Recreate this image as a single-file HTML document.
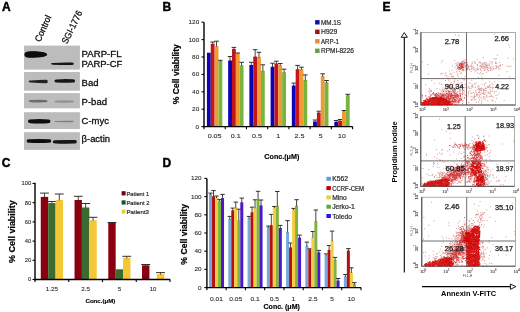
<!DOCTYPE html>
<html><head><meta charset="utf-8"><style>
html,body{margin:0;padding:0;background:#fff;}
svg{display:block;font-family:"Liberation Sans", sans-serif;}
text{opacity:.999}
</style></head><body>
<svg width="520" height="312" viewBox="0 0 520 312">
<rect width="520" height="312" fill="#fff"/>
<defs><filter id="bb" x="-20%" y="-80%" width="140%" height="260%"><feGaussianBlur stdDeviation="0.7"/></filter><filter id="cb" x="-20%" y="-20%" width="140%" height="140%"><feGaussianBlur stdDeviation="0.6"/></filter><filter id="tb" x="-5%" y="-20%" width="110%" height="140%"><feGaussianBlur stdDeviation="0.25"/></filter></defs>
<text x="2.00" y="10.80" font-size="12.0" text-anchor="start" font-weight="bold" fill="#000" stroke="#000" stroke-width="0.45" >A</text>
<text x="162.60" y="10.60" font-size="12.0" text-anchor="start" font-weight="bold" fill="#000" stroke="#000" stroke-width="0.45" >B</text>
<text x="1.80" y="166.80" font-size="12.0" text-anchor="start" font-weight="bold" fill="#000" stroke="#000" stroke-width="0.45" >C</text>
<text x="162.40" y="166.60" font-size="12.0" text-anchor="start" font-weight="bold" fill="#000" stroke="#000" stroke-width="0.45" >D</text>
<text x="382.40" y="11.00" font-size="12.0" text-anchor="start" font-weight="bold" fill="#000" stroke="#000" stroke-width="0.45" >E</text>
<rect x="24.00" y="45.60" width="55.90" height="24.00" fill="#bcbcbc" />
<rect x="24.00" y="72.00" width="55.90" height="18.70" fill="#bcbcbc" />
<rect x="24.00" y="93.10" width="55.90" height="15.20" fill="#bcbcbc" />
<rect x="24.00" y="112.20" width="55.90" height="16.80" fill="#bcbcbc" />
<rect x="24.00" y="132.20" width="55.90" height="17.70" fill="#bcbcbc" />
<g filter="url(#bb)">
<path d="M51.00 63.80 C51.00 62.90 52.50 62.90 53.50 62.90 Q62.40 62.42 71.30 62.60 C72.30 62.60 73.80 62.60 73.80 63.80 C73.80 65.00 72.30 65.00 71.30 65.00 Q62.40 65.18 53.50 64.70 C52.50 64.70 51.00 64.70 51.00 63.80 Z" fill="#141414"/>
<path d="M28.70 81.50 C28.70 80.60 30.20 80.60 31.20 80.60 Q38.25 79.89 45.30 79.80 C46.30 79.80 47.80 79.80 47.80 81.50 C47.80 83.20 46.30 83.20 45.30 83.20 Q38.25 83.11 31.20 82.40 C30.20 82.40 28.70 82.40 28.70 81.50 Z" fill="#222222"/>
<path d="M54.40 80.90 C54.40 79.40 55.90 79.40 56.90 79.40 Q64.70 78.83 72.50 79.30 C73.50 79.30 75.00 79.30 75.00 80.90 C75.00 82.50 73.50 82.50 72.50 82.50 Q64.70 82.97 56.90 82.40 C55.90 82.40 54.40 82.40 54.40 80.90 Z" fill="#181818"/>
<path d="M28.70 101.10 C28.70 100.00 30.20 100.00 31.20 100.00 Q38.10 99.60 45.00 99.90 C46.00 99.90 47.50 99.90 47.50 101.10 C47.50 102.30 46.00 102.30 45.00 102.30 Q38.10 102.59 31.20 102.20 C30.20 102.20 28.70 102.20 28.70 101.10 Z" fill="#6c6c6c"/>
<path d="M54.40 101.50 C54.40 100.50 55.90 100.50 56.90 100.50 Q64.20 100.12 71.50 100.50 C72.50 100.50 74.00 100.50 74.00 101.50 C74.00 102.50 72.50 102.50 71.50 102.50 Q64.20 102.88 56.90 102.50 C55.90 102.50 54.40 102.50 54.40 101.50 Z" fill="#939393"/>
<path d="M28.00 121.30 C28.00 119.40 29.50 119.40 30.50 119.40 Q39.20 118.66 47.90 119.40 C48.90 119.40 50.40 119.40 50.40 121.30 C50.40 123.20 48.90 123.20 47.90 123.20 Q39.20 123.94 30.50 123.20 C29.50 123.20 28.00 123.20 28.00 121.30 Z" fill="#0a0a0a"/>
<path d="M54.40 121.50 C54.40 120.90 55.90 120.90 56.90 120.90 Q64.00 120.52 71.10 120.70 C72.10 120.70 73.60 120.70 73.60 121.50 C73.60 122.30 72.10 122.30 71.10 122.30 Q64.00 122.48 56.90 122.10 C55.90 122.10 54.40 122.10 54.40 121.50 Z" fill="#808080"/>
<path d="M26.70 141.00 C26.70 139.30 28.20 139.30 29.20 139.30 Q38.95 138.93 48.70 139.30 C49.70 139.30 51.20 139.30 51.20 141.00 C51.20 142.70 49.70 142.70 48.70 142.70 Q38.95 143.07 29.20 142.70 C28.20 142.70 26.70 142.70 26.70 141.00 Z" fill="#111111"/>
<path d="M52.80 141.80 C52.80 140.20 54.30 140.20 55.30 140.20 Q64.80 139.73 74.30 140.10 C75.30 140.10 76.80 140.10 76.80 141.80 C76.80 143.50 75.30 143.50 74.30 143.50 Q64.80 143.87 55.30 143.40 C54.30 143.40 52.80 143.40 52.80 141.80 Z" fill="#141414"/>
<path d="M24.4 54.5 C24.4 50.9 30 50.9 36 51.3 C42 51.7 47 52.5 47.2 54.5 C47 56.5 42 57.2 36 57.6 C30 58.0 24.4 58.1 24.4 54.5 Z" fill="#080808"/>
</g>
<text transform="translate(40.2,42.6) rotate(-66)" font-size="9.3" fill="#111" stroke="#111" stroke-width="0.3" textLength="28" lengthAdjust="spacingAndGlyphs">Control</text>
<text transform="translate(67.0,44.6) rotate(-64)" font-size="9.3" fill="#111" stroke="#111" stroke-width="0.3" textLength="35.5" lengthAdjust="spacingAndGlyphs">SGI-1776</text>
<text x="81.60" y="56.80" font-size="9.0" text-anchor="start" font-weight="normal" fill="#111" textLength="39.90" lengthAdjust="spacingAndGlyphs" stroke="#111" stroke-width="0.3" >PARP-FL</text>
<text x="81.60" y="66.70" font-size="9.0" text-anchor="start" font-weight="normal" fill="#111" textLength="40.70" lengthAdjust="spacingAndGlyphs" stroke="#111" stroke-width="0.3" >PARP-CF</text>
<text x="81.60" y="86.00" font-size="9.0" text-anchor="start" font-weight="normal" fill="#111" textLength="16.90" lengthAdjust="spacingAndGlyphs" stroke="#111" stroke-width="0.3" >Bad</text>
<text x="81.60" y="105.00" font-size="9.0" text-anchor="start" font-weight="normal" fill="#111" textLength="25.40" lengthAdjust="spacingAndGlyphs" stroke="#111" stroke-width="0.3" >P-bad</text>
<text x="81.60" y="123.80" font-size="9.0" text-anchor="start" font-weight="normal" fill="#111" textLength="27.30" lengthAdjust="spacingAndGlyphs" stroke="#111" stroke-width="0.3" >C-myc</text>
<text x="81.60" y="141.70" font-size="9.0" text-anchor="start" font-weight="normal" fill="#111" textLength="28.40" lengthAdjust="spacingAndGlyphs" stroke="#111" stroke-width="0.3" >&#946;-actin</text>
<rect x="206.91" y="52.70" width="3.85" height="73.90" fill="#0c04b6" />
<rect x="210.76" y="43.80" width="3.85" height="82.80" fill="#c4141c" />
<line x1="212.69" y1="42.00" x2="212.69" y2="44.30" stroke="#333030" stroke-width="0.9" />
<line x1="210.38" y1="42.00" x2="215.00" y2="42.00" stroke="#333030" stroke-width="1.0" />
<rect x="214.61" y="46.20" width="3.85" height="80.40" fill="#f09a32" />
<line x1="216.54" y1="41.20" x2="216.54" y2="46.70" stroke="#333030" stroke-width="0.9" />
<line x1="214.23" y1="41.20" x2="218.85" y2="41.20" stroke="#333030" stroke-width="1.0" />
<rect x="218.46" y="61.10" width="3.85" height="65.50" fill="#7ab43c" />
<line x1="220.39" y1="60.30" x2="220.39" y2="61.60" stroke="#333030" stroke-width="0.9" />
<line x1="218.08" y1="60.30" x2="222.70" y2="60.30" stroke="#333030" stroke-width="1.0" />
<rect x="228.14" y="60.50" width="3.85" height="66.10" fill="#0c04b6" />
<line x1="230.07" y1="56.50" x2="230.07" y2="61.00" stroke="#333030" stroke-width="0.9" />
<line x1="227.76" y1="56.50" x2="232.38" y2="56.50" stroke="#333030" stroke-width="1.0" />
<rect x="231.99" y="48.90" width="3.85" height="77.70" fill="#c4141c" />
<line x1="233.92" y1="47.40" x2="233.92" y2="49.40" stroke="#333030" stroke-width="0.9" />
<line x1="231.61" y1="47.40" x2="236.23" y2="47.40" stroke="#333030" stroke-width="1.0" />
<rect x="235.84" y="53.50" width="3.85" height="73.10" fill="#f09a32" />
<line x1="237.77" y1="53.00" x2="237.77" y2="54.00" stroke="#333030" stroke-width="0.9" />
<line x1="235.46" y1="53.00" x2="240.08" y2="53.00" stroke="#333030" stroke-width="1.0" />
<rect x="239.69" y="65.40" width="3.85" height="61.20" fill="#7ab43c" />
<line x1="241.62" y1="62.30" x2="241.62" y2="65.90" stroke="#333030" stroke-width="0.9" />
<line x1="239.31" y1="62.30" x2="243.93" y2="62.30" stroke="#333030" stroke-width="1.0" />
<rect x="249.37" y="65.00" width="3.85" height="61.60" fill="#0c04b6" />
<line x1="251.30" y1="62.30" x2="251.30" y2="65.50" stroke="#333030" stroke-width="0.9" />
<line x1="248.99" y1="62.30" x2="253.61" y2="62.30" stroke="#333030" stroke-width="1.0" />
<rect x="253.22" y="56.60" width="3.85" height="70.00" fill="#c4141c" />
<line x1="255.15" y1="49.70" x2="255.15" y2="57.10" stroke="#333030" stroke-width="0.9" />
<line x1="252.84" y1="49.70" x2="257.46" y2="49.70" stroke="#333030" stroke-width="1.0" />
<rect x="257.07" y="56.90" width="3.85" height="69.70" fill="#f09a32" />
<line x1="259.00" y1="52.30" x2="259.00" y2="57.40" stroke="#333030" stroke-width="0.9" />
<line x1="256.69" y1="52.30" x2="261.31" y2="52.30" stroke="#333030" stroke-width="1.0" />
<rect x="260.92" y="70.80" width="3.85" height="55.80" fill="#7ab43c" />
<line x1="262.85" y1="64.80" x2="262.85" y2="71.30" stroke="#333030" stroke-width="0.9" />
<line x1="260.54" y1="64.80" x2="265.16" y2="64.80" stroke="#333030" stroke-width="1.0" />
<rect x="270.60" y="66.80" width="3.85" height="59.80" fill="#0c04b6" />
<line x1="272.53" y1="63.20" x2="272.53" y2="67.30" stroke="#333030" stroke-width="0.9" />
<line x1="270.22" y1="63.20" x2="274.84" y2="63.20" stroke="#333030" stroke-width="1.0" />
<rect x="274.45" y="63.60" width="3.85" height="63.00" fill="#c4141c" />
<line x1="276.38" y1="61.20" x2="276.38" y2="64.10" stroke="#333030" stroke-width="0.9" />
<line x1="274.07" y1="61.20" x2="278.69" y2="61.20" stroke="#333030" stroke-width="1.0" />
<rect x="278.30" y="65.40" width="3.85" height="61.20" fill="#f09a32" />
<line x1="280.23" y1="63.50" x2="280.23" y2="65.90" stroke="#333030" stroke-width="0.9" />
<line x1="277.92" y1="63.50" x2="282.54" y2="63.50" stroke="#333030" stroke-width="1.0" />
<rect x="282.15" y="72.30" width="3.85" height="54.30" fill="#7ab43c" />
<line x1="284.08" y1="69.20" x2="284.08" y2="72.80" stroke="#333030" stroke-width="0.9" />
<line x1="281.77" y1="69.20" x2="286.39" y2="69.20" stroke="#333030" stroke-width="1.0" />
<rect x="291.83" y="85.50" width="3.85" height="41.10" fill="#0c04b6" />
<line x1="293.75" y1="83.10" x2="293.75" y2="86.00" stroke="#333030" stroke-width="0.9" />
<line x1="291.44" y1="83.10" x2="296.06" y2="83.10" stroke="#333030" stroke-width="1.0" />
<rect x="295.68" y="69.20" width="3.85" height="57.40" fill="#c4141c" />
<line x1="297.60" y1="65.40" x2="297.60" y2="69.70" stroke="#333030" stroke-width="0.9" />
<line x1="295.29" y1="65.40" x2="299.91" y2="65.40" stroke="#333030" stroke-width="1.0" />
<rect x="299.53" y="69.20" width="3.85" height="57.40" fill="#f09a32" />
<line x1="301.45" y1="67.20" x2="301.45" y2="69.70" stroke="#333030" stroke-width="0.9" />
<line x1="299.14" y1="67.20" x2="303.76" y2="67.20" stroke="#333030" stroke-width="1.0" />
<rect x="303.38" y="80.00" width="3.85" height="46.60" fill="#7ab43c" />
<line x1="305.30" y1="74.90" x2="305.30" y2="80.50" stroke="#333030" stroke-width="0.9" />
<line x1="302.99" y1="74.90" x2="307.61" y2="74.90" stroke="#333030" stroke-width="1.0" />
<rect x="313.06" y="121.50" width="3.85" height="5.10" fill="#0c04b6" />
<line x1="314.98" y1="120.00" x2="314.98" y2="122.00" stroke="#333030" stroke-width="0.9" />
<line x1="312.67" y1="120.00" x2="317.29" y2="120.00" stroke="#333030" stroke-width="1.0" />
<rect x="316.91" y="112.60" width="3.85" height="14.00" fill="#c4141c" />
<line x1="318.83" y1="111.20" x2="318.83" y2="113.10" stroke="#333030" stroke-width="0.9" />
<line x1="316.52" y1="111.20" x2="321.14" y2="111.20" stroke="#333030" stroke-width="1.0" />
<rect x="320.76" y="76.20" width="3.85" height="50.40" fill="#f09a32" />
<line x1="322.68" y1="73.80" x2="322.68" y2="76.70" stroke="#333030" stroke-width="0.9" />
<line x1="320.37" y1="73.80" x2="324.99" y2="73.80" stroke="#333030" stroke-width="1.0" />
<rect x="324.61" y="82.30" width="3.85" height="44.30" fill="#7ab43c" />
<line x1="326.53" y1="80.50" x2="326.53" y2="82.80" stroke="#333030" stroke-width="0.9" />
<line x1="324.22" y1="80.50" x2="328.84" y2="80.50" stroke="#333030" stroke-width="1.0" />
<rect x="334.29" y="121.80" width="3.85" height="4.80" fill="#0c04b6" />
<line x1="336.21" y1="120.50" x2="336.21" y2="122.30" stroke="#333030" stroke-width="0.9" />
<line x1="333.90" y1="120.50" x2="338.52" y2="120.50" stroke="#333030" stroke-width="1.0" />
<rect x="338.14" y="120.80" width="3.85" height="5.80" fill="#c4141c" />
<line x1="340.06" y1="119.50" x2="340.06" y2="121.30" stroke="#333030" stroke-width="0.9" />
<line x1="337.75" y1="119.50" x2="342.37" y2="119.50" stroke="#333030" stroke-width="1.0" />
<rect x="341.99" y="111.50" width="3.85" height="15.10" fill="#f09a32" />
<line x1="343.91" y1="110.50" x2="343.91" y2="112.00" stroke="#333030" stroke-width="0.9" />
<line x1="341.60" y1="110.50" x2="346.22" y2="110.50" stroke="#333030" stroke-width="1.0" />
<rect x="345.84" y="95.40" width="3.85" height="31.20" fill="#7ab43c" />
<line x1="347.76" y1="94.30" x2="347.76" y2="95.90" stroke="#333030" stroke-width="0.9" />
<line x1="345.45" y1="94.30" x2="350.07" y2="94.30" stroke="#333030" stroke-width="1.0" />
<line x1="204.00" y1="22.20" x2="204.00" y2="127.30" stroke="#000" stroke-width="1.4" />
<line x1="203.30" y1="126.60" x2="352.60" y2="126.60" stroke="#000" stroke-width="1.4" />
<line x1="201.50" y1="126.60" x2="204.00" y2="126.60" stroke="#000" stroke-width="1.1" />
<text x="199.20" y="128.62" font-size="5.6" text-anchor="end" font-weight="normal" fill="#333" textLength="3.56" lengthAdjust="spacingAndGlyphs" stroke="#333" stroke-width="0.12" >0</text>
<line x1="201.50" y1="109.20" x2="204.00" y2="109.20" stroke="#000" stroke-width="1.1" />
<text x="199.20" y="111.22" font-size="5.6" text-anchor="end" font-weight="normal" fill="#333" textLength="7.12" lengthAdjust="spacingAndGlyphs" stroke="#333" stroke-width="0.12" >20</text>
<line x1="201.50" y1="91.80" x2="204.00" y2="91.80" stroke="#000" stroke-width="1.1" />
<text x="199.20" y="93.82" font-size="5.6" text-anchor="end" font-weight="normal" fill="#333" textLength="7.12" lengthAdjust="spacingAndGlyphs" stroke="#333" stroke-width="0.12" >40</text>
<line x1="201.50" y1="74.40" x2="204.00" y2="74.40" stroke="#000" stroke-width="1.1" />
<text x="199.20" y="76.42" font-size="5.6" text-anchor="end" font-weight="normal" fill="#333" textLength="7.12" lengthAdjust="spacingAndGlyphs" stroke="#333" stroke-width="0.12" >60</text>
<line x1="201.50" y1="57.00" x2="204.00" y2="57.00" stroke="#000" stroke-width="1.1" />
<text x="199.20" y="59.02" font-size="5.6" text-anchor="end" font-weight="normal" fill="#333" textLength="7.12" lengthAdjust="spacingAndGlyphs" stroke="#333" stroke-width="0.12" >80</text>
<line x1="201.50" y1="39.60" x2="204.00" y2="39.60" stroke="#000" stroke-width="1.1" />
<text x="199.20" y="41.62" font-size="5.6" text-anchor="end" font-weight="normal" fill="#333" textLength="10.68" lengthAdjust="spacingAndGlyphs" stroke="#333" stroke-width="0.12" >100</text>
<line x1="201.50" y1="22.20" x2="204.00" y2="22.20" stroke="#000" stroke-width="1.1" />
<text x="199.20" y="24.22" font-size="5.6" text-anchor="end" font-weight="normal" fill="#333" textLength="10.68" lengthAdjust="spacingAndGlyphs" stroke="#333" stroke-width="0.12" >120</text>
<line x1="204.00" y1="126.60" x2="204.00" y2="129.20" stroke="#000" stroke-width="1.1" />
<line x1="225.23" y1="126.60" x2="225.23" y2="129.20" stroke="#000" stroke-width="1.1" />
<line x1="246.46" y1="126.60" x2="246.46" y2="129.20" stroke="#000" stroke-width="1.1" />
<line x1="267.69" y1="126.60" x2="267.69" y2="129.20" stroke="#000" stroke-width="1.1" />
<line x1="288.91" y1="126.60" x2="288.91" y2="129.20" stroke="#000" stroke-width="1.1" />
<line x1="310.14" y1="126.60" x2="310.14" y2="129.20" stroke="#000" stroke-width="1.1" />
<line x1="331.37" y1="126.60" x2="331.37" y2="129.20" stroke="#000" stroke-width="1.1" />
<line x1="352.60" y1="126.60" x2="352.60" y2="129.20" stroke="#000" stroke-width="1.1" />
<text x="214.61" y="138.20" font-size="6.1" text-anchor="middle" font-weight="normal" fill="#333" textLength="13.86" lengthAdjust="spacingAndGlyphs" stroke="#333" stroke-width="0.12" >0.05</text>
<text x="235.84" y="138.20" font-size="6.1" text-anchor="middle" font-weight="normal" fill="#333" textLength="9.98" lengthAdjust="spacingAndGlyphs" stroke="#333" stroke-width="0.12" >0.1</text>
<text x="257.07" y="138.20" font-size="6.1" text-anchor="middle" font-weight="normal" fill="#333" textLength="9.98" lengthAdjust="spacingAndGlyphs" stroke="#333" stroke-width="0.12" >0.5</text>
<text x="278.30" y="138.20" font-size="6.1" text-anchor="middle" font-weight="normal" fill="#333" textLength="3.88" lengthAdjust="spacingAndGlyphs" stroke="#333" stroke-width="0.12" >1</text>
<text x="299.53" y="138.20" font-size="6.1" text-anchor="middle" font-weight="normal" fill="#333" textLength="9.98" lengthAdjust="spacingAndGlyphs" stroke="#333" stroke-width="0.12" >2.5</text>
<text x="320.76" y="138.20" font-size="6.1" text-anchor="middle" font-weight="normal" fill="#333" textLength="3.88" lengthAdjust="spacingAndGlyphs" stroke="#333" stroke-width="0.12" >5</text>
<text x="341.99" y="138.20" font-size="6.1" text-anchor="middle" font-weight="normal" fill="#333" textLength="7.76" lengthAdjust="spacingAndGlyphs" stroke="#333" stroke-width="0.12" >10</text>
<text transform="translate(178.9,74.2) rotate(-90)" font-size="8.6" font-weight="bold" stroke="#000" stroke-width="0.2" text-anchor="middle" textLength="60.2" lengthAdjust="spacingAndGlyphs">% Cell viability</text>
<text x="281.85" y="159.00" font-size="6.6" text-anchor="middle" font-weight="bold" fill="#000" textLength="35.00" lengthAdjust="spacingAndGlyphs" stroke="#000" stroke-width="0.15" >Conc.(&#956;M)</text>
<rect x="315.10" y="20.10" width="4.50" height="4.40" fill="#1010b0" />
<text x="321.00" y="24.80" font-size="6.4" text-anchor="start" font-weight="normal" fill="#2a2a2a" textLength="20.10" lengthAdjust="spacingAndGlyphs" stroke="#2a2a2a" stroke-width="0.2" >MM.1S</text>
<rect x="315.10" y="29.60" width="4.50" height="4.40" fill="#a81010" />
<text x="321.00" y="34.30" font-size="6.4" text-anchor="start" font-weight="normal" fill="#2a2a2a" textLength="16.20" lengthAdjust="spacingAndGlyphs" stroke="#2a2a2a" stroke-width="0.2" >H929</text>
<rect x="315.10" y="39.10" width="4.50" height="4.40" fill="#e49038" />
<text x="321.00" y="43.80" font-size="6.4" text-anchor="start" font-weight="normal" fill="#2a2a2a" textLength="17.80" lengthAdjust="spacingAndGlyphs" stroke="#2a2a2a" stroke-width="0.2" >ARP-1</text>
<rect x="315.10" y="48.60" width="4.50" height="4.40" fill="#62a040" />
<text x="321.00" y="53.30" font-size="6.4" text-anchor="start" font-weight="normal" fill="#2a2a2a" textLength="32.90" lengthAdjust="spacingAndGlyphs" stroke="#2a2a2a" stroke-width="0.2" >RPMI-8226</text>
<rect x="40.77" y="196.90" width="7.40" height="82.60" fill="#8a0010" />
<line x1="44.48" y1="193.10" x2="44.48" y2="197.40" stroke="#333030" stroke-width="0.9" />
<line x1="40.04" y1="193.10" x2="48.91" y2="193.10" stroke="#333030" stroke-width="1.0" />
<rect x="48.17" y="203.10" width="7.40" height="76.40" fill="#3b6b30" />
<line x1="51.88" y1="201.50" x2="51.88" y2="203.60" stroke="#333030" stroke-width="0.9" />
<line x1="47.44" y1="201.50" x2="56.31" y2="201.50" stroke="#333030" stroke-width="1.0" />
<rect x="55.58" y="200.00" width="7.40" height="79.50" fill="#f4c835" />
<line x1="59.28" y1="194.00" x2="59.28" y2="200.50" stroke="#333030" stroke-width="0.9" />
<line x1="54.84" y1="194.00" x2="63.72" y2="194.00" stroke="#333030" stroke-width="1.0" />
<rect x="74.53" y="200.00" width="7.40" height="79.50" fill="#8a0010" />
<line x1="78.23" y1="196.30" x2="78.23" y2="200.50" stroke="#333030" stroke-width="0.9" />
<line x1="73.79" y1="196.30" x2="82.67" y2="196.30" stroke="#333030" stroke-width="1.0" />
<rect x="81.93" y="207.50" width="7.40" height="72.00" fill="#3b6b30" />
<line x1="85.63" y1="203.50" x2="85.63" y2="208.00" stroke="#333030" stroke-width="0.9" />
<line x1="81.19" y1="203.50" x2="90.07" y2="203.50" stroke="#333030" stroke-width="1.0" />
<rect x="89.33" y="220.30" width="7.40" height="59.20" fill="#f4c835" />
<line x1="93.03" y1="217.30" x2="93.03" y2="220.80" stroke="#333030" stroke-width="0.9" />
<line x1="88.59" y1="217.30" x2="97.47" y2="217.30" stroke="#333030" stroke-width="1.0" />
<rect x="108.28" y="223.00" width="7.40" height="56.50" fill="#8a0010" />
<line x1="111.98" y1="222.50" x2="111.98" y2="223.50" stroke="#333030" stroke-width="0.9" />
<line x1="107.54" y1="222.50" x2="116.42" y2="222.50" stroke="#333030" stroke-width="1.0" />
<rect x="115.68" y="269.30" width="7.40" height="10.20" fill="#3b6b30" />
<rect x="123.08" y="257.80" width="7.40" height="21.70" fill="#f4c835" />
<line x1="126.78" y1="256.30" x2="126.78" y2="258.30" stroke="#333030" stroke-width="0.9" />
<line x1="122.34" y1="256.30" x2="131.22" y2="256.30" stroke="#333030" stroke-width="1.0" />
<rect x="142.03" y="265.30" width="7.40" height="14.20" fill="#8a0010" />
<line x1="145.72" y1="264.50" x2="145.72" y2="265.80" stroke="#333030" stroke-width="0.9" />
<line x1="141.28" y1="264.50" x2="150.16" y2="264.50" stroke="#333030" stroke-width="1.0" />
<rect x="156.83" y="274.00" width="7.40" height="5.50" fill="#f4c835" />
<line x1="160.53" y1="272.60" x2="160.53" y2="274.50" stroke="#333030" stroke-width="0.9" />
<line x1="156.09" y1="272.60" x2="164.97" y2="272.60" stroke="#333030" stroke-width="1.0" />
<line x1="35.00" y1="182.80" x2="35.00" y2="280.20" stroke="#000" stroke-width="1.4" />
<line x1="34.30" y1="279.50" x2="170.20" y2="279.50" stroke="#000" stroke-width="1.4" />
<line x1="32.50" y1="279.50" x2="35.00" y2="279.50" stroke="#000" stroke-width="1.1" />
<text x="31.20" y="281.34" font-size="5.1" text-anchor="end" font-weight="normal" fill="#333" textLength="3.24" lengthAdjust="spacingAndGlyphs" stroke="#333" stroke-width="0.12" >0</text>
<line x1="32.50" y1="260.30" x2="35.00" y2="260.30" stroke="#000" stroke-width="1.1" />
<text x="31.20" y="262.14" font-size="5.1" text-anchor="end" font-weight="normal" fill="#333" textLength="6.49" lengthAdjust="spacingAndGlyphs" stroke="#333" stroke-width="0.12" >20</text>
<line x1="32.50" y1="241.10" x2="35.00" y2="241.10" stroke="#000" stroke-width="1.1" />
<text x="31.20" y="242.94" font-size="5.1" text-anchor="end" font-weight="normal" fill="#333" textLength="6.49" lengthAdjust="spacingAndGlyphs" stroke="#333" stroke-width="0.12" >40</text>
<line x1="32.50" y1="221.90" x2="35.00" y2="221.90" stroke="#000" stroke-width="1.1" />
<text x="31.20" y="223.74" font-size="5.1" text-anchor="end" font-weight="normal" fill="#333" textLength="6.49" lengthAdjust="spacingAndGlyphs" stroke="#333" stroke-width="0.12" >60</text>
<line x1="32.50" y1="202.70" x2="35.00" y2="202.70" stroke="#000" stroke-width="1.1" />
<text x="31.20" y="204.54" font-size="5.1" text-anchor="end" font-weight="normal" fill="#333" textLength="6.49" lengthAdjust="spacingAndGlyphs" stroke="#333" stroke-width="0.12" >80</text>
<line x1="32.50" y1="183.50" x2="35.00" y2="183.50" stroke="#000" stroke-width="1.1" />
<text x="31.20" y="185.34" font-size="5.1" text-anchor="end" font-weight="normal" fill="#333" textLength="9.73" lengthAdjust="spacingAndGlyphs" stroke="#333" stroke-width="0.12" >100</text>
<line x1="35.00" y1="279.50" x2="35.00" y2="282.10" stroke="#000" stroke-width="1.1" />
<line x1="68.75" y1="279.50" x2="68.75" y2="282.10" stroke="#000" stroke-width="1.1" />
<line x1="102.50" y1="279.50" x2="102.50" y2="282.10" stroke="#000" stroke-width="1.1" />
<line x1="136.25" y1="279.50" x2="136.25" y2="282.10" stroke="#000" stroke-width="1.1" />
<line x1="170.00" y1="279.50" x2="170.00" y2="282.10" stroke="#000" stroke-width="1.1" />
<text x="51.88" y="291.20" font-size="5.3" text-anchor="middle" font-weight="normal" fill="#333" textLength="12.04" lengthAdjust="spacingAndGlyphs" stroke="#333" stroke-width="0.12" >1.25</text>
<text x="85.62" y="291.20" font-size="5.3" text-anchor="middle" font-weight="normal" fill="#333" textLength="8.67" lengthAdjust="spacingAndGlyphs" stroke="#333" stroke-width="0.12" >2.5</text>
<text x="119.38" y="291.20" font-size="5.3" text-anchor="middle" font-weight="normal" fill="#333" textLength="3.37" lengthAdjust="spacingAndGlyphs" stroke="#333" stroke-width="0.12" >5</text>
<text x="153.12" y="291.20" font-size="5.3" text-anchor="middle" font-weight="normal" fill="#333" textLength="6.74" lengthAdjust="spacingAndGlyphs" stroke="#333" stroke-width="0.12" >10</text>
<text transform="translate(15.4,231.6) rotate(-90)" font-size="8.6" font-weight="bold" stroke="#000" stroke-width="0.2" text-anchor="middle" textLength="62.7" lengthAdjust="spacingAndGlyphs">% Cell viability</text>
<text x="100.40" y="302.60" font-size="6.1" text-anchor="middle" font-weight="bold" fill="#000" textLength="29.80" lengthAdjust="spacingAndGlyphs" stroke="#000" stroke-width="0.15" >Conc.(&#956;M)</text>
<rect x="121.60" y="191.20" width="4.00" height="4.20" fill="#700010" />
<text x="126.50" y="195.60" font-size="5.9" text-anchor="start" font-weight="normal" fill="#2a2a2a" textLength="22.70" lengthAdjust="spacingAndGlyphs" stroke="#2a2a2a" stroke-width="0.2" >Patient 1</text>
<rect x="121.60" y="200.35" width="4.00" height="4.20" fill="#1f4f1f" />
<text x="126.50" y="204.75" font-size="5.9" text-anchor="start" font-weight="normal" fill="#2a2a2a" textLength="22.90" lengthAdjust="spacingAndGlyphs" stroke="#2a2a2a" stroke-width="0.2" >Patient 2</text>
<rect x="121.60" y="209.50" width="4.00" height="4.20" fill="#e8d040" />
<text x="126.50" y="213.90" font-size="5.9" text-anchor="start" font-weight="normal" fill="#2a2a2a" textLength="22.50" lengthAdjust="spacingAndGlyphs" stroke="#2a2a2a" stroke-width="0.2" >Patient3</text>
<rect x="209.03" y="194.40" width="3.00" height="93.20" fill="#78a8dc" />
<line x1="210.53" y1="193.10" x2="210.53" y2="194.90" stroke="#333030" stroke-width="0.9" />
<line x1="208.33" y1="193.10" x2="212.73" y2="193.10" stroke="#333030" stroke-width="1.0" />
<rect x="212.03" y="196.30" width="3.00" height="91.30" fill="#b41010" />
<line x1="213.53" y1="190.60" x2="213.53" y2="196.80" stroke="#333030" stroke-width="0.9" />
<line x1="211.33" y1="190.60" x2="215.73" y2="190.60" stroke="#333030" stroke-width="1.0" />
<rect x="215.03" y="197.50" width="3.00" height="90.10" fill="#f8cc40" />
<line x1="216.53" y1="196.00" x2="216.53" y2="198.00" stroke="#333030" stroke-width="0.9" />
<line x1="214.33" y1="196.00" x2="218.73" y2="196.00" stroke="#333030" stroke-width="1.0" />
<rect x="218.03" y="200.60" width="3.00" height="87.00" fill="#80b440" />
<line x1="219.53" y1="199.40" x2="219.53" y2="201.10" stroke="#333030" stroke-width="0.9" />
<line x1="217.33" y1="199.40" x2="221.73" y2="199.40" stroke="#333030" stroke-width="1.0" />
<rect x="221.03" y="198.10" width="3.00" height="89.50" fill="#4c18c8" />
<line x1="222.53" y1="194.40" x2="222.53" y2="198.60" stroke="#333030" stroke-width="0.9" />
<line x1="220.33" y1="194.40" x2="224.73" y2="194.40" stroke="#333030" stroke-width="1.0" />
<rect x="228.29" y="218.80" width="3.00" height="68.80" fill="#78a8dc" />
<line x1="229.79" y1="216.40" x2="229.79" y2="219.30" stroke="#333030" stroke-width="0.9" />
<line x1="227.59" y1="216.40" x2="231.99" y2="216.40" stroke="#333030" stroke-width="1.0" />
<rect x="231.29" y="210.40" width="3.00" height="77.20" fill="#b41010" />
<line x1="232.79" y1="208.10" x2="232.79" y2="210.90" stroke="#333030" stroke-width="0.9" />
<line x1="230.59" y1="208.10" x2="234.99" y2="208.10" stroke="#333030" stroke-width="1.0" />
<rect x="234.29" y="207.70" width="3.00" height="79.90" fill="#f8cc40" />
<line x1="235.79" y1="202.10" x2="235.79" y2="208.20" stroke="#333030" stroke-width="0.9" />
<line x1="233.59" y1="202.10" x2="237.99" y2="202.10" stroke="#333030" stroke-width="1.0" />
<rect x="237.29" y="220.40" width="3.00" height="67.20" fill="#80b440" />
<line x1="238.79" y1="209.20" x2="238.79" y2="220.90" stroke="#333030" stroke-width="0.9" />
<line x1="236.59" y1="209.20" x2="240.99" y2="209.20" stroke="#333030" stroke-width="1.0" />
<rect x="240.29" y="202.30" width="3.00" height="85.30" fill="#4c18c8" />
<line x1="241.79" y1="198.10" x2="241.79" y2="202.80" stroke="#333030" stroke-width="0.9" />
<line x1="239.59" y1="198.10" x2="243.99" y2="198.10" stroke="#333030" stroke-width="1.0" />
<rect x="247.56" y="218.10" width="3.00" height="69.50" fill="#78a8dc" />
<line x1="249.06" y1="216.40" x2="249.06" y2="218.60" stroke="#333030" stroke-width="0.9" />
<line x1="246.86" y1="216.40" x2="251.26" y2="216.40" stroke="#333030" stroke-width="1.0" />
<rect x="250.56" y="212.30" width="3.00" height="75.30" fill="#b41010" />
<line x1="252.06" y1="207.20" x2="252.06" y2="212.80" stroke="#333030" stroke-width="0.9" />
<line x1="249.86" y1="207.20" x2="254.26" y2="207.20" stroke="#333030" stroke-width="1.0" />
<rect x="253.56" y="207.70" width="3.00" height="79.90" fill="#f8cc40" />
<line x1="255.06" y1="199.80" x2="255.06" y2="208.20" stroke="#333030" stroke-width="0.9" />
<line x1="252.86" y1="199.80" x2="257.26" y2="199.80" stroke="#333030" stroke-width="1.0" />
<rect x="256.56" y="199.60" width="3.00" height="88.00" fill="#80b440" />
<line x1="258.06" y1="191.30" x2="258.06" y2="200.10" stroke="#333030" stroke-width="0.9" />
<line x1="255.86" y1="191.30" x2="260.26" y2="191.30" stroke="#333030" stroke-width="1.0" />
<rect x="259.56" y="205.40" width="3.00" height="82.20" fill="#4c18c8" />
<line x1="261.06" y1="200.00" x2="261.06" y2="205.90" stroke="#333030" stroke-width="0.9" />
<line x1="258.86" y1="200.00" x2="263.26" y2="200.00" stroke="#333030" stroke-width="1.0" />
<rect x="266.82" y="227.10" width="3.00" height="60.50" fill="#78a8dc" />
<line x1="268.32" y1="226.10" x2="268.32" y2="227.60" stroke="#333030" stroke-width="0.9" />
<line x1="266.12" y1="226.10" x2="270.52" y2="226.10" stroke="#333030" stroke-width="1.0" />
<rect x="269.82" y="225.20" width="3.00" height="62.40" fill="#b41010" />
<line x1="271.32" y1="214.40" x2="271.32" y2="225.70" stroke="#333030" stroke-width="0.9" />
<line x1="269.12" y1="214.40" x2="273.52" y2="214.40" stroke="#333030" stroke-width="1.0" />
<rect x="272.82" y="207.60" width="3.00" height="80.00" fill="#f8cc40" />
<line x1="274.32" y1="206.50" x2="274.32" y2="208.10" stroke="#333030" stroke-width="0.9" />
<line x1="272.12" y1="206.50" x2="276.52" y2="206.50" stroke="#333030" stroke-width="1.0" />
<rect x="275.82" y="205.70" width="3.00" height="81.90" fill="#80b440" />
<line x1="277.32" y1="191.50" x2="277.32" y2="206.20" stroke="#333030" stroke-width="0.9" />
<line x1="275.12" y1="191.50" x2="279.52" y2="191.50" stroke="#333030" stroke-width="1.0" />
<rect x="278.82" y="228.00" width="3.00" height="59.60" fill="#4c18c8" />
<line x1="280.32" y1="225.40" x2="280.32" y2="228.50" stroke="#333030" stroke-width="0.9" />
<line x1="278.12" y1="225.40" x2="282.52" y2="225.40" stroke="#333030" stroke-width="1.0" />
<rect x="286.08" y="231.90" width="3.00" height="55.70" fill="#78a8dc" />
<line x1="287.58" y1="220.60" x2="287.58" y2="232.40" stroke="#333030" stroke-width="0.9" />
<line x1="285.38" y1="220.60" x2="289.78" y2="220.60" stroke="#333030" stroke-width="1.0" />
<rect x="289.08" y="247.50" width="3.00" height="40.10" fill="#b41010" />
<line x1="290.58" y1="243.00" x2="290.58" y2="248.00" stroke="#333030" stroke-width="0.9" />
<line x1="288.38" y1="243.00" x2="292.78" y2="243.00" stroke="#333030" stroke-width="1.0" />
<rect x="292.08" y="209.50" width="3.00" height="78.10" fill="#f8cc40" />
<line x1="293.58" y1="208.40" x2="293.58" y2="210.00" stroke="#333030" stroke-width="0.9" />
<line x1="291.38" y1="208.40" x2="295.78" y2="208.40" stroke="#333030" stroke-width="1.0" />
<rect x="295.08" y="205.70" width="3.00" height="81.90" fill="#80b440" />
<line x1="296.58" y1="199.70" x2="296.58" y2="206.20" stroke="#333030" stroke-width="0.9" />
<line x1="294.38" y1="199.70" x2="298.78" y2="199.70" stroke="#333030" stroke-width="1.0" />
<rect x="298.08" y="237.60" width="3.00" height="50.00" fill="#4c18c8" />
<line x1="299.58" y1="235.10" x2="299.58" y2="238.10" stroke="#333030" stroke-width="0.9" />
<line x1="297.38" y1="235.10" x2="301.78" y2="235.10" stroke="#333030" stroke-width="1.0" />
<rect x="305.34" y="245.80" width="3.00" height="41.80" fill="#78a8dc" />
<line x1="306.84" y1="242.10" x2="306.84" y2="246.30" stroke="#333030" stroke-width="0.9" />
<line x1="304.64" y1="242.10" x2="309.04" y2="242.10" stroke="#333030" stroke-width="1.0" />
<rect x="308.34" y="249.30" width="3.00" height="38.30" fill="#b41010" />
<line x1="309.84" y1="248.80" x2="309.84" y2="249.80" stroke="#333030" stroke-width="0.9" />
<line x1="307.64" y1="248.80" x2="312.04" y2="248.80" stroke="#333030" stroke-width="1.0" />
<rect x="311.34" y="237.10" width="3.00" height="50.50" fill="#f8cc40" />
<line x1="312.84" y1="231.50" x2="312.84" y2="237.60" stroke="#333030" stroke-width="0.9" />
<line x1="310.64" y1="231.50" x2="315.04" y2="231.50" stroke="#333030" stroke-width="1.0" />
<rect x="314.34" y="221.30" width="3.00" height="66.30" fill="#80b440" />
<line x1="315.84" y1="210.00" x2="315.84" y2="221.80" stroke="#333030" stroke-width="0.9" />
<line x1="313.64" y1="210.00" x2="318.04" y2="210.00" stroke="#333030" stroke-width="1.0" />
<rect x="317.34" y="252.30" width="3.00" height="35.30" fill="#4c18c8" />
<line x1="318.84" y1="250.40" x2="318.84" y2="252.80" stroke="#333030" stroke-width="0.9" />
<line x1="316.64" y1="250.40" x2="321.04" y2="250.40" stroke="#333030" stroke-width="1.0" />
<rect x="324.61" y="255.30" width="3.00" height="32.30" fill="#78a8dc" />
<line x1="326.11" y1="253.90" x2="326.11" y2="255.80" stroke="#333030" stroke-width="0.9" />
<line x1="323.91" y1="253.90" x2="328.31" y2="253.90" stroke="#333030" stroke-width="1.0" />
<rect x="327.61" y="249.90" width="3.00" height="37.70" fill="#b41010" />
<line x1="329.11" y1="245.50" x2="329.11" y2="250.40" stroke="#333030" stroke-width="0.9" />
<line x1="326.91" y1="245.50" x2="331.31" y2="245.50" stroke="#333030" stroke-width="1.0" />
<rect x="330.61" y="240.50" width="3.00" height="47.10" fill="#f8cc40" />
<line x1="332.11" y1="231.10" x2="332.11" y2="241.00" stroke="#333030" stroke-width="0.9" />
<line x1="329.91" y1="231.10" x2="334.31" y2="231.10" stroke="#333030" stroke-width="1.0" />
<rect x="333.61" y="260.00" width="3.00" height="27.60" fill="#80b440" />
<line x1="335.11" y1="257.40" x2="335.11" y2="260.50" stroke="#333030" stroke-width="0.9" />
<line x1="332.91" y1="257.40" x2="337.31" y2="257.40" stroke="#333030" stroke-width="1.0" />
<rect x="336.61" y="280.60" width="3.00" height="7.00" fill="#4c18c8" />
<line x1="338.11" y1="278.50" x2="338.11" y2="281.10" stroke="#333030" stroke-width="0.9" />
<line x1="335.91" y1="278.50" x2="340.31" y2="278.50" stroke="#333030" stroke-width="1.0" />
<rect x="343.87" y="276.50" width="3.00" height="11.10" fill="#78a8dc" />
<line x1="345.37" y1="274.50" x2="345.37" y2="277.00" stroke="#333030" stroke-width="0.9" />
<line x1="343.17" y1="274.50" x2="347.57" y2="274.50" stroke="#333030" stroke-width="1.0" />
<rect x="346.87" y="250.60" width="3.00" height="37.00" fill="#b41010" />
<line x1="348.37" y1="248.60" x2="348.37" y2="251.10" stroke="#333030" stroke-width="0.9" />
<line x1="346.17" y1="248.60" x2="350.57" y2="248.60" stroke="#333030" stroke-width="1.0" />
<rect x="349.87" y="272.50" width="3.00" height="15.10" fill="#f8cc40" />
<line x1="351.37" y1="267.80" x2="351.37" y2="273.00" stroke="#333030" stroke-width="0.9" />
<line x1="349.17" y1="267.80" x2="353.57" y2="267.80" stroke="#333030" stroke-width="1.0" />
<rect x="352.87" y="284.00" width="3.00" height="3.60" fill="#80b440" />
<line x1="354.37" y1="282.60" x2="354.37" y2="284.50" stroke="#333030" stroke-width="0.9" />
<line x1="352.17" y1="282.60" x2="356.57" y2="282.60" stroke="#333030" stroke-width="1.0" />
<line x1="206.90" y1="178.40" x2="206.90" y2="288.30" stroke="#000" stroke-width="1.4" />
<line x1="206.20" y1="287.60" x2="361.00" y2="287.60" stroke="#000" stroke-width="1.4" />
<line x1="204.40" y1="287.60" x2="206.90" y2="287.60" stroke="#000" stroke-width="1.1" />
<text x="201.60" y="289.62" font-size="5.6" text-anchor="end" font-weight="normal" fill="#333" textLength="3.56" lengthAdjust="spacingAndGlyphs" stroke="#333" stroke-width="0.12" >0</text>
<line x1="204.40" y1="269.40" x2="206.90" y2="269.40" stroke="#000" stroke-width="1.1" />
<text x="201.60" y="271.42" font-size="5.6" text-anchor="end" font-weight="normal" fill="#333" textLength="7.12" lengthAdjust="spacingAndGlyphs" stroke="#333" stroke-width="0.12" >20</text>
<line x1="204.40" y1="251.20" x2="206.90" y2="251.20" stroke="#000" stroke-width="1.1" />
<text x="201.60" y="253.22" font-size="5.6" text-anchor="end" font-weight="normal" fill="#333" textLength="7.12" lengthAdjust="spacingAndGlyphs" stroke="#333" stroke-width="0.12" >40</text>
<line x1="204.40" y1="233.00" x2="206.90" y2="233.00" stroke="#000" stroke-width="1.1" />
<text x="201.60" y="235.02" font-size="5.6" text-anchor="end" font-weight="normal" fill="#333" textLength="7.12" lengthAdjust="spacingAndGlyphs" stroke="#333" stroke-width="0.12" >60</text>
<line x1="204.40" y1="214.80" x2="206.90" y2="214.80" stroke="#000" stroke-width="1.1" />
<text x="201.60" y="216.82" font-size="5.6" text-anchor="end" font-weight="normal" fill="#333" textLength="7.12" lengthAdjust="spacingAndGlyphs" stroke="#333" stroke-width="0.12" >80</text>
<line x1="204.40" y1="196.60" x2="206.90" y2="196.60" stroke="#000" stroke-width="1.1" />
<text x="201.60" y="198.62" font-size="5.6" text-anchor="end" font-weight="normal" fill="#333" textLength="10.68" lengthAdjust="spacingAndGlyphs" stroke="#333" stroke-width="0.12" >100</text>
<line x1="204.40" y1="178.40" x2="206.90" y2="178.40" stroke="#000" stroke-width="1.1" />
<text x="201.60" y="180.42" font-size="5.6" text-anchor="end" font-weight="normal" fill="#333" textLength="10.68" lengthAdjust="spacingAndGlyphs" stroke="#333" stroke-width="0.12" >120</text>
<line x1="206.90" y1="287.60" x2="206.90" y2="290.20" stroke="#000" stroke-width="1.1" />
<line x1="226.16" y1="287.60" x2="226.16" y2="290.20" stroke="#000" stroke-width="1.1" />
<line x1="245.43" y1="287.60" x2="245.43" y2="290.20" stroke="#000" stroke-width="1.1" />
<line x1="264.69" y1="287.60" x2="264.69" y2="290.20" stroke="#000" stroke-width="1.1" />
<line x1="283.95" y1="287.60" x2="283.95" y2="290.20" stroke="#000" stroke-width="1.1" />
<line x1="303.21" y1="287.60" x2="303.21" y2="290.20" stroke="#000" stroke-width="1.1" />
<line x1="322.48" y1="287.60" x2="322.48" y2="290.20" stroke="#000" stroke-width="1.1" />
<line x1="341.74" y1="287.60" x2="341.74" y2="290.20" stroke="#000" stroke-width="1.1" />
<line x1="361.00" y1="287.60" x2="361.00" y2="290.20" stroke="#000" stroke-width="1.1" />
<text x="216.53" y="300.50" font-size="5.7" text-anchor="middle" font-weight="normal" fill="#333" textLength="12.95" lengthAdjust="spacingAndGlyphs" stroke="#333" stroke-width="0.12" >0.01</text>
<text x="235.79" y="300.50" font-size="5.7" text-anchor="middle" font-weight="normal" fill="#333" textLength="12.95" lengthAdjust="spacingAndGlyphs" stroke="#333" stroke-width="0.12" >0.05</text>
<text x="255.06" y="300.50" font-size="5.7" text-anchor="middle" font-weight="normal" fill="#333" textLength="9.33" lengthAdjust="spacingAndGlyphs" stroke="#333" stroke-width="0.12" >0.1</text>
<text x="274.32" y="300.50" font-size="5.7" text-anchor="middle" font-weight="normal" fill="#333" textLength="9.33" lengthAdjust="spacingAndGlyphs" stroke="#333" stroke-width="0.12" >0.5</text>
<text x="293.58" y="300.50" font-size="5.7" text-anchor="middle" font-weight="normal" fill="#333" textLength="3.63" lengthAdjust="spacingAndGlyphs" stroke="#333" stroke-width="0.12" >1</text>
<text x="312.84" y="300.50" font-size="5.7" text-anchor="middle" font-weight="normal" fill="#333" textLength="9.33" lengthAdjust="spacingAndGlyphs" stroke="#333" stroke-width="0.12" >2.5</text>
<text x="332.11" y="300.50" font-size="5.7" text-anchor="middle" font-weight="normal" fill="#333" textLength="3.63" lengthAdjust="spacingAndGlyphs" stroke="#333" stroke-width="0.12" >5</text>
<text x="351.37" y="300.50" font-size="5.7" text-anchor="middle" font-weight="normal" fill="#333" textLength="7.25" lengthAdjust="spacingAndGlyphs" stroke="#333" stroke-width="0.12" >10</text>
<text transform="translate(186.5,234.3) rotate(-90)" font-size="8.6" font-weight="bold" stroke="#000" stroke-width="0.2" text-anchor="middle" textLength="60.7" lengthAdjust="spacingAndGlyphs">% Cell viability</text>
<text x="281.70" y="309.40" font-size="6.5" text-anchor="middle" font-weight="bold" fill="#000" textLength="36.40" lengthAdjust="spacingAndGlyphs" stroke="#000" stroke-width="0.15" >Conc. (&#956;M)</text>
<rect x="326.40" y="176.80" width="4.50" height="4.00" fill="#5aa0e0" />
<text x="332.20" y="181.30" font-size="6.3" text-anchor="start" font-weight="normal" fill="#2a2a2a" textLength="15.70" lengthAdjust="spacingAndGlyphs" stroke="#2a2a2a" stroke-width="0.2" >K562</text>
<rect x="326.40" y="186.10" width="4.50" height="4.00" fill="#c00000" />
<text x="332.20" y="190.60" font-size="6.3" text-anchor="start" font-weight="normal" fill="#2a2a2a" textLength="31.70" lengthAdjust="spacingAndGlyphs" stroke="#2a2a2a" stroke-width="0.2" >CCRF-CEM</text>
<rect x="326.40" y="195.40" width="4.50" height="4.00" fill="#e8d040" />
<text x="332.20" y="199.90" font-size="6.3" text-anchor="start" font-weight="normal" fill="#2a2a2a" textLength="14.50" lengthAdjust="spacingAndGlyphs" stroke="#2a2a2a" stroke-width="0.2" >Mino</text>
<rect x="326.40" y="204.70" width="4.50" height="4.00" fill="#60a840" />
<text x="332.20" y="209.20" font-size="6.3" text-anchor="start" font-weight="normal" fill="#2a2a2a" textLength="22.60" lengthAdjust="spacingAndGlyphs" stroke="#2a2a2a" stroke-width="0.2" >Jerko-1</text>
<rect x="326.40" y="214.00" width="4.50" height="4.00" fill="#3010e0" />
<text x="332.20" y="218.50" font-size="6.3" text-anchor="start" font-weight="normal" fill="#2a2a2a" textLength="19.80" lengthAdjust="spacingAndGlyphs" stroke="#2a2a2a" stroke-width="0.2" >Toledo</text>
<rect x="420.9" y="32.4" width="94.70" height="72.60" fill="none" stroke="#8a8a8a" stroke-width="0.7"/>
<line x1="420.90" y1="32.40" x2="420.90" y2="105.40" stroke="#333" stroke-width="0.9" />
<line x1="420.90" y1="105.00" x2="515.60" y2="105.00" stroke="#444" stroke-width="0.9" />
<line x1="466.50" y1="32.40" x2="466.50" y2="105.00" stroke="#4a4a4a" stroke-width="0.8" />
<line x1="420.90" y1="78.60" x2="515.60" y2="78.60" stroke="#4a4a4a" stroke-width="0.8" />
<rect x="420.8" y="116.4" width="93.80" height="69.90" fill="none" stroke="#8a8a8a" stroke-width="0.7"/>
<line x1="420.80" y1="116.40" x2="420.80" y2="186.70" stroke="#333" stroke-width="0.9" />
<line x1="420.80" y1="186.30" x2="514.60" y2="186.30" stroke="#444" stroke-width="0.9" />
<line x1="465.20" y1="116.40" x2="465.20" y2="186.30" stroke="#4a4a4a" stroke-width="0.8" />
<line x1="420.80" y1="160.90" x2="514.60" y2="160.90" stroke="#4a4a4a" stroke-width="0.8" />
<rect x="421.8" y="197.2" width="93.60" height="69.00" fill="none" stroke="#8a8a8a" stroke-width="0.7"/>
<line x1="421.80" y1="197.20" x2="421.80" y2="266.60" stroke="#333" stroke-width="0.9" />
<line x1="421.80" y1="266.20" x2="515.40" y2="266.20" stroke="#444" stroke-width="0.9" />
<line x1="466.70" y1="197.20" x2="466.70" y2="266.20" stroke="#4a4a4a" stroke-width="0.8" />
<line x1="421.80" y1="241.00" x2="515.40" y2="241.00" stroke="#4a4a4a" stroke-width="0.8" />
<path d="M421.9 61.6h1v1h-1zM442.1 60.1h1v1h-1zM494.9 63.0h1v1h-1zM503.7 100.1h1v1h-1zM421.9 97.3h1v1h-1zM442.5 101.2h1v1h-1zM474.6 71.3h1v1h-1zM483.7 84.8h1v1h-1zM462.2 91.6h1v1h-1zM497.3 94.3h1v1h-1zM491.7 87.2h1v1h-1zM510.6 66.2h1v1h-1zM505.9 89.4h1v1h-1zM481.2 73.8h1v1h-1zM479.0 88.2h1v1h-1zM449.7 74.0h1v1h-1zM495.2 61.2h1v1h-1zM426.8 97.3h1v1h-1zM439.1 82.7h1v1h-1zM483.6 66.0h1v1h-1zM509.1 76.2h1v1h-1zM489.7 66.5h1v1h-1zM433.7 83.4h1v1h-1zM498.4 74.7h1v1h-1zM489.2 93.1h1v1h-1zM513.1 58.6h1v1h-1zM445.3 72.4h1v1h-1zM425.0 84.3h1v1h-1zM452.9 76.1h1v1h-1zM428.0 73.7h1v1h-1zM467.1 87.4h1v1h-1zM424.5 104.3h1v1h-1zM507.2 57.6h1v1h-1zM463.9 63.4h1v1h-1zM451.6 73.5h1v1h-1zM481.3 77.0h1v1h-1zM498.6 92.5h1v1h-1zM474.5 60.8h1v1h-1zM427.2 63.9h1v1h-1zM508.3 44.4h1v1h-1zM454.9 34.4h1v1h-1zM496.9 54.7h1v1h-1zM494.2 33.8h1v1h-1zM509.2 46.8h1v1h-1zM458.2 34.9h1v1h-1zM461.6 66.3h1v1h-1zM457.5 66.1h1v1h-1zM454.2 60.1h1v1h-1zM459.9 65.9h1v1h-1zM461.3 68.0h1v1h-1zM461.6 67.9h1v1h-1zM455.5 63.3h1v1h-1zM458.2 62.2h1v1h-1zM459.1 67.6h1v1h-1zM463.1 65.1h1v1h-1zM459.9 66.3h1v1h-1zM464.4 65.3h1v1h-1zM459.3 68.5h1v1h-1zM456.8 64.0h1v1h-1zM460.7 62.6h1v1h-1zM458.8 67.0h1v1h-1zM462.9 66.7h1v1h-1zM459.3 64.3h1v1h-1zM460.5 67.8h1v1h-1zM466.8 65.4h1v1h-1zM463.2 68.5h1v1h-1zM456.3 65.2h1v1h-1zM465.5 65.2h1v1h-1zM463.7 62.6h1v1h-1zM460.8 67.5h1v1h-1zM463.4 63.8h1v1h-1zM458.5 69.0h1v1h-1zM464.3 67.2h1v1h-1zM462.1 63.6h1v1h-1zM459.7 68.2h1v1h-1zM461.2 66.9h1v1h-1zM460.7 61.5h1v1h-1zM463.3 65.2h1v1h-1zM458.7 63.7h1v1h-1zM459.8 66.0h1v1h-1zM460.6 68.3h1v1h-1zM466.7 68.7h1v1h-1zM455.6 65.0h1v1h-1zM462.6 59.7h1v1h-1zM457.8 69.0h1v1h-1zM460.3 63.6h1v1h-1zM461.1 67.9h1v1h-1zM461.2 64.5h1v1h-1zM463.7 65.1h1v1h-1zM463.9 64.9h1v1h-1zM454.5 67.1h1v1h-1zM462.2 66.4h1v1h-1zM455.4 62.8h1v1h-1zM456.9 65.4h1v1h-1zM461.3 70.1h1v1h-1zM464.7 69.8h1v1h-1zM459.7 64.7h1v1h-1zM461.3 63.6h1v1h-1zM463.2 65.5h1v1h-1zM459.0 70.9h1v1h-1zM455.8 65.1h1v1h-1zM465.5 67.3h1v1h-1zM465.6 64.3h1v1h-1zM459.8 65.8h1v1h-1zM463.1 63.5h1v1h-1zM458.9 66.7h1v1h-1zM462.5 70.5h1v1h-1zM458.5 67.6h1v1h-1zM468.3 66.0h1v1h-1zM457.1 67.5h1v1h-1zM462.0 65.7h1v1h-1zM462.8 63.6h1v1h-1zM456.4 71.1h1v1h-1zM464.8 65.7h1v1h-1zM458.5 69.2h1v1h-1zM464.1 62.1h1v1h-1zM461.8 67.9h1v1h-1zM457.1 65.2h1v1h-1zM457.8 66.1h1v1h-1zM460.5 64.7h1v1h-1zM461.9 65.2h1v1h-1zM462.0 69.1h1v1h-1zM462.1 65.0h1v1h-1zM468.0 65.4h1v1h-1zM460.6 65.4h1v1h-1zM452.0 65.5h1v1h-1zM458.7 63.0h1v1h-1zM456.9 62.2h1v1h-1zM460.9 64.8h1v1h-1zM455.7 68.7h1v1h-1zM460.0 65.2h1v1h-1zM458.6 65.0h1v1h-1zM458.3 67.0h1v1h-1zM463.1 64.4h1v1h-1zM462.1 67.7h1v1h-1zM487.4 66.8h1v1h-1zM486.2 67.0h1v1h-1zM487.3 70.6h1v1h-1zM481.4 66.8h1v1h-1zM492.4 67.5h1v1h-1zM464.9 69.4h1v1h-1zM473.5 67.0h1v1h-1zM489.9 69.5h1v1h-1zM468.5 69.1h1v1h-1zM486.3 65.8h1v1h-1zM486.2 63.5h1v1h-1zM468.0 67.0h1v1h-1zM480.1 62.5h1v1h-1zM499.1 62.1h1v1h-1zM492.1 69.4h1v1h-1zM491.9 61.3h1v1h-1zM482.3 65.4h1v1h-1zM490.2 70.0h1v1h-1zM481.5 64.1h1v1h-1zM483.4 63.6h1v1h-1zM499.4 68.6h1v1h-1zM500.3 64.4h1v1h-1zM492.4 66.2h1v1h-1zM480.3 65.0h1v1h-1zM479.1 61.7h1v1h-1zM480.9 70.4h1v1h-1zM485.2 65.1h1v1h-1zM493.7 67.9h1v1h-1zM495.8 65.4h1v1h-1zM493.2 68.2h1v1h-1zM485.2 66.4h1v1h-1zM496.4 65.4h1v1h-1zM506.3 65.4h1v1h-1zM470.4 64.9h1v1h-1zM494.7 58.6h1v1h-1zM486.8 69.1h1v1h-1zM491.0 68.5h1v1h-1zM486.1 63.3h1v1h-1zM489.4 67.5h1v1h-1zM480.7 65.9h1v1h-1zM483.5 67.7h1v1h-1zM486.0 64.9h1v1h-1zM498.7 66.3h1v1h-1zM483.9 61.7h1v1h-1zM489.0 64.7h1v1h-1zM481.9 67.5h1v1h-1zM477.0 67.3h1v1h-1zM487.5 68.2h1v1h-1zM484.6 67.6h1v1h-1zM466.0 69.7h1v1h-1zM483.9 69.3h1v1h-1zM484.7 69.4h1v1h-1zM480.3 68.9h1v1h-1zM483.8 66.7h1v1h-1zM479.7 67.9h1v1h-1zM497.4 66.1h1v1h-1zM486.8 64.8h1v1h-1zM481.3 62.5h1v1h-1zM482.6 73.0h1v1h-1zM489.2 64.4h1v1h-1zM459.0 64.0h1v1h-1zM508.7 65.5h1v1h-1zM499.9 65.6h1v1h-1zM483.8 66.4h1v1h-1zM486.5 65.2h1v1h-1zM483.4 62.7h1v1h-1zM487.1 67.5h1v1h-1zM480.0 72.3h1v1h-1zM502.0 64.2h1v1h-1zM483.1 65.8h1v1h-1zM495.6 67.4h1v1h-1zM493.5 57.9h1v1h-1zM484.4 63.5h1v1h-1zM483.4 65.5h1v1h-1zM479.5 66.1h1v1h-1zM485.4 62.0h1v1h-1zM481.9 63.4h1v1h-1zM483.8 63.2h1v1h-1zM487.9 64.4h1v1h-1zM496.3 62.9h1v1h-1zM484.8 67.8h1v1h-1zM489.5 60.7h1v1h-1zM471.6 63.0h1v1h-1zM491.5 63.3h1v1h-1zM498.6 68.5h1v1h-1zM466.6 67.1h1v1h-1zM486.7 64.5h1v1h-1zM484.9 64.6h1v1h-1zM463.2 64.8h1v1h-1zM508.2 66.1h1v1h-1zM481.8 64.3h1v1h-1zM506.7 71.2h1v1h-1zM486.1 72.2h1v1h-1zM497.7 67.3h1v1h-1zM483.6 70.2h1v1h-1zM491.3 62.1h1v1h-1zM487.5 67.0h1v1h-1zM476.7 64.1h1v1h-1zM476.8 72.4h1v1h-1zM469.7 66.3h1v1h-1zM471.3 68.7h1v1h-1zM488.2 70.2h1v1h-1zM473.6 62.1h1v1h-1zM495.5 68.5h1v1h-1zM472.7 68.1h1v1h-1zM490.4 67.9h1v1h-1zM469.4 69.4h1v1h-1zM480.9 67.0h1v1h-1zM483.5 63.7h1v1h-1zM479.5 65.3h1v1h-1zM479.5 61.2h1v1h-1zM495.4 62.1h1v1h-1zM483.0 57.3h1v1h-1zM499.3 64.8h1v1h-1zM475.1 63.0h1v1h-1zM496.1 58.2h1v1h-1zM488.8 62.8h1v1h-1zM495.6 65.0h1v1h-1zM471.3 67.7h1v1h-1zM475.4 68.4h1v1h-1zM495.5 65.8h1v1h-1zM484.9 64.7h1v1h-1zM475.6 69.9h1v1h-1zM486.6 66.9h1v1h-1zM496.0 67.0h1v1h-1zM490.4 66.6h1v1h-1zM486.0 65.9h1v1h-1zM483.3 63.3h1v1h-1zM497.6 67.6h1v1h-1zM471.8 61.6h1v1h-1zM477.5 68.4h1v1h-1zM479.8 69.4h1v1h-1zM474.0 69.3h1v1h-1zM478.5 62.6h1v1h-1zM464.6 76.0h1v1h-1zM465.2 65.1h1v1h-1zM473.2 69.2h1v1h-1zM470.6 67.8h1v1h-1zM476.8 68.8h1v1h-1zM462.3 69.3h1v1h-1zM473.9 62.3h1v1h-1zM467.2 64.9h1v1h-1zM469.0 68.7h1v1h-1zM466.8 64.2h1v1h-1zM468.3 66.1h1v1h-1zM472.5 65.7h1v1h-1zM476.6 64.5h1v1h-1zM465.8 68.2h1v1h-1zM471.3 64.3h1v1h-1zM465.1 66.1h1v1h-1zM470.7 70.9h1v1h-1zM466.5 66.7h1v1h-1zM478.8 73.3h1v1h-1zM464.7 62.6h1v1h-1zM465.9 71.0h1v1h-1zM477.0 65.0h1v1h-1zM472.3 66.2h1v1h-1zM467.7 67.5h1v1h-1zM463.4 64.2h1v1h-1zM477.5 69.2h1v1h-1zM463.1 64.7h1v1h-1zM478.1 69.0h1v1h-1zM482.4 66.3h1v1h-1zM476.8 59.0h1v1h-1zM466.7 66.6h1v1h-1zM471.0 66.1h1v1h-1zM462.1 68.3h1v1h-1zM466.5 65.8h1v1h-1zM467.0 68.3h1v1h-1zM466.7 61.9h1v1h-1zM484.2 93.5h1v1h-1zM480.3 96.7h1v1h-1zM489.7 89.4h1v1h-1zM481.1 102.3h1v1h-1zM465.9 98.0h1v1h-1zM497.0 84.2h1v1h-1zM489.7 93.4h1v1h-1zM475.8 95.0h1v1h-1zM485.3 88.1h1v1h-1zM470.6 87.7h1v1h-1zM475.8 82.6h1v1h-1zM479.6 89.7h1v1h-1zM482.6 89.5h1v1h-1zM460.7 86.5h1v1h-1zM479.3 91.8h1v1h-1zM485.2 82.6h1v1h-1zM487.3 100.4h1v1h-1zM481.5 83.8h1v1h-1zM479.2 90.7h1v1h-1zM480.6 88.8h1v1h-1zM478.1 101.9h1v1h-1zM473.5 96.1h1v1h-1zM481.3 97.7h1v1h-1zM489.8 87.1h1v1h-1zM475.2 99.1h1v1h-1zM491.3 82.8h1v1h-1zM494.4 81.3h1v1h-1zM476.2 94.1h1v1h-1zM474.9 96.1h1v1h-1zM487.1 85.9h1v1h-1zM485.8 96.8h1v1h-1zM491.7 100.1h1v1h-1zM479.8 88.0h1v1h-1zM493.3 87.1h1v1h-1zM476.4 93.5h1v1h-1zM484.3 90.0h1v1h-1zM484.7 88.1h1v1h-1zM481.3 100.3h1v1h-1zM469.3 88.1h1v1h-1zM483.0 92.2h1v1h-1zM487.7 92.6h1v1h-1zM483.6 92.9h1v1h-1zM484.9 90.1h1v1h-1zM496.3 84.5h1v1h-1zM480.8 89.9h1v1h-1zM489.2 87.6h1v1h-1zM474.8 90.4h1v1h-1zM479.3 94.4h1v1h-1zM470.5 93.1h1v1h-1zM492.2 100.6h1v1h-1zM477.7 94.4h1v1h-1zM473.7 98.2h1v1h-1zM486.6 94.4h1v1h-1zM472.5 86.6h1v1h-1zM475.5 90.0h1v1h-1zM480.7 88.5h1v1h-1zM482.9 96.0h1v1h-1zM489.0 84.4h1v1h-1zM475.7 91.9h1v1h-1zM480.2 93.8h1v1h-1zM483.6 96.5h1v1h-1zM477.2 89.0h1v1h-1zM478.1 97.0h1v1h-1zM496.1 97.8h1v1h-1zM485.3 86.8h1v1h-1zM484.8 99.5h1v1h-1zM495.5 94.9h1v1h-1zM486.1 90.4h1v1h-1zM491.5 90.9h1v1h-1zM479.1 98.4h1v1h-1zM490.8 94.9h1v1h-1zM487.7 91.6h1v1h-1zM471.0 98.9h1v1h-1zM489.5 84.7h1v1h-1zM495.8 90.8h1v1h-1zM478.3 91.8h1v1h-1zM481.8 92.5h1v1h-1zM492.5 88.3h1v1h-1zM469.8 96.5h1v1h-1zM482.8 88.6h1v1h-1zM474.0 95.6h1v1h-1zM479.0 95.7h1v1h-1zM484.0 83.5h1v1h-1zM490.2 90.8h1v1h-1zM474.1 83.0h1v1h-1zM481.0 102.5h1v1h-1zM471.2 79.8h1v1h-1zM482.5 92.7h1v1h-1zM492.5 84.1h1v1h-1zM478.0 77.0h1v1h-1zM481.4 87.8h1v1h-1zM487.6 104.0h1v1h-1zM493.9 92.5h1v1h-1zM491.6 95.9h1v1h-1zM485.7 88.6h1v1h-1zM460.3 98.3h1v1h-1zM478.0 87.8h1v1h-1zM487.5 96.3h1v1h-1zM478.9 88.4h1v1h-1zM478.6 86.3h1v1h-1zM483.6 89.3h1v1h-1zM494.7 101.6h1v1h-1zM491.7 90.4h1v1h-1zM482.8 90.2h1v1h-1zM472.8 97.1h1v1h-1zM472.9 92.0h1v1h-1zM489.1 81.2h1v1h-1zM491.6 99.3h1v1h-1zM476.0 101.5h1v1h-1zM479.4 91.9h1v1h-1zM467.4 95.4h1v1h-1zM472.1 84.3h1v1h-1zM483.2 91.1h1v1h-1zM481.8 79.4h1v1h-1zM492.9 96.9h1v1h-1zM480.9 87.7h1v1h-1zM470.3 92.7h1v1h-1zM478.6 88.4h1v1h-1zM474.6 84.6h1v1h-1zM479.2 100.3h1v1h-1zM485.8 95.5h1v1h-1zM477.8 92.4h1v1h-1zM485.1 92.3h1v1h-1zM470.7 87.8h1v1h-1zM489.1 85.8h1v1h-1zM474.0 93.4h1v1h-1zM488.1 86.4h1v1h-1zM484.2 97.6h1v1h-1zM471.2 86.3h1v1h-1zM471.9 85.8h1v1h-1zM477.9 85.3h1v1h-1zM476.5 95.6h1v1h-1zM474.0 96.8h1v1h-1zM476.8 93.9h1v1h-1zM471.3 95.7h1v1h-1zM471.6 92.4h1v1h-1zM477.2 86.3h1v1h-1zM487.6 85.8h1v1h-1zM478.9 89.2h1v1h-1zM491.4 86.6h1v1h-1zM482.8 98.5h1v1h-1zM474.8 87.0h1v1h-1zM483.8 94.0h1v1h-1zM469.7 90.0h1v1h-1zM471.3 85.7h1v1h-1zM468.0 93.4h1v1h-1zM491.7 86.7h1v1h-1zM489.4 96.1h1v1h-1zM480.0 88.5h1v1h-1zM487.7 87.1h1v1h-1zM473.8 99.5h1v1h-1zM481.3 93.3h1v1h-1zM490.4 96.2h1v1h-1zM494.1 90.9h1v1h-1zM489.3 92.0h1v1h-1zM478.2 88.5h1v1h-1zM472.1 86.3h1v1h-1zM471.2 99.7h1v1h-1zM467.9 85.9h1v1h-1zM487.1 87.2h1v1h-1zM453.3 98.7h1v1h-1zM435.9 97.2h1v1h-1zM433.4 99.0h1v1h-1zM440.3 93.1h1v1h-1zM445.0 84.3h1v1h-1zM454.1 94.6h1v1h-1zM449.7 95.0h1v1h-1zM430.1 100.6h1v1h-1zM451.3 101.6h1v1h-1zM442.6 101.3h1v1h-1zM449.0 92.5h1v1h-1zM441.6 84.1h1v1h-1zM453.1 97.3h1v1h-1zM443.3 98.7h1v1h-1zM452.7 91.3h1v1h-1zM440.7 98.6h1v1h-1zM455.9 97.2h1v1h-1zM429.1 93.4h1v1h-1zM451.5 96.0h1v1h-1zM435.9 96.5h1v1h-1zM461.9 90.2h1v1h-1zM429.5 91.7h1v1h-1zM444.4 89.1h1v1h-1zM451.2 93.5h1v1h-1zM437.7 99.4h1v1h-1zM447.3 94.8h1v1h-1zM459.5 89.4h1v1h-1zM449.5 95.6h1v1h-1zM444.2 96.6h1v1h-1zM448.7 100.0h1v1h-1zM462.6 99.8h1v1h-1zM439.0 95.4h1v1h-1zM468.5 82.4h1v1h-1zM441.9 93.9h1v1h-1zM445.5 103.6h1v1h-1zM449.9 89.6h1v1h-1zM446.6 96.4h1v1h-1zM439.8 92.9h1v1h-1zM460.0 94.8h1v1h-1zM436.5 102.3h1v1h-1zM445.7 96.1h1v1h-1zM444.9 99.5h1v1h-1zM445.5 99.0h1v1h-1zM444.5 92.6h1v1h-1zM459.7 98.7h1v1h-1zM441.8 92.4h1v1h-1zM444.4 97.9h1v1h-1zM446.1 98.5h1v1h-1zM446.0 96.6h1v1h-1zM436.0 93.6h1v1h-1zM441.7 91.5h1v1h-1zM445.7 98.5h1v1h-1zM452.6 96.0h1v1h-1zM465.9 100.2h1v1h-1zM438.8 103.2h1v1h-1zM450.4 92.6h1v1h-1zM456.9 94.1h1v1h-1zM452.4 101.1h1v1h-1zM450.5 96.0h1v1h-1zM445.1 99.6h1v1h-1zM456.4 92.1h1v1h-1zM438.6 98.1h1v1h-1zM431.2 90.4h1v1h-1zM439.7 96.7h1v1h-1zM451.3 94.9h1v1h-1zM441.9 95.3h1v1h-1zM443.9 99.4h1v1h-1zM441.7 97.2h1v1h-1zM448.0 98.5h1v1h-1zM446.6 94.3h1v1h-1zM440.8 95.6h1v1h-1zM448.4 89.4h1v1h-1zM452.0 90.3h1v1h-1zM445.8 97.7h1v1h-1zM429.9 96.2h1v1h-1zM464.3 90.5h1v1h-1zM459.3 95.2h1v1h-1zM446.1 94.7h1v1h-1zM448.3 99.2h1v1h-1zM445.5 98.0h1v1h-1zM447.6 100.5h1v1h-1zM445.8 94.8h1v1h-1zM455.4 93.6h1v1h-1zM443.3 94.6h1v1h-1zM451.0 100.5h1v1h-1zM435.8 96.5h1v1h-1zM447.8 91.7h1v1h-1zM449.8 96.3h1v1h-1zM438.3 95.5h1v1h-1zM448.7 96.2h1v1h-1zM441.7 98.8h1v1h-1zM447.7 92.7h1v1h-1zM450.8 93.6h1v1h-1zM443.9 95.6h1v1h-1zM450.0 95.9h1v1h-1zM430.5 97.6h1v1h-1zM444.3 93.6h1v1h-1zM439.5 95.0h1v1h-1zM429.6 90.0h1v1h-1zM442.6 98.2h1v1h-1zM444.3 94.0h1v1h-1zM447.6 97.7h1v1h-1zM460.4 96.8h1v1h-1zM444.8 87.7h1v1h-1zM437.5 100.6h1v1h-1zM434.6 94.6h1v1h-1zM445.7 96.2h1v1h-1zM440.4 90.8h1v1h-1zM447.8 99.4h1v1h-1zM453.4 94.8h1v1h-1zM441.4 97.7h1v1h-1zM459.2 98.1h1v1h-1zM442.6 95.4h1v1h-1zM449.5 91.0h1v1h-1zM451.1 92.8h1v1h-1zM453.2 98.5h1v1h-1zM465.1 94.7h1v1h-1zM444.5 92.2h1v1h-1zM458.2 96.2h1v1h-1zM440.3 94.7h1v1h-1zM455.2 96.6h1v1h-1zM451.0 94.5h1v1h-1zM442.1 103.5h1v1h-1zM440.0 100.7h1v1h-1zM463.8 94.2h1v1h-1zM453.7 103.6h1v1h-1zM441.7 97.7h1v1h-1zM448.8 97.9h1v1h-1zM447.8 92.6h1v1h-1zM448.7 99.6h1v1h-1zM450.4 95.5h1v1h-1zM441.0 94.3h1v1h-1zM459.8 90.9h1v1h-1zM448.4 95.4h1v1h-1zM447.7 99.4h1v1h-1zM437.4 101.1h1v1h-1zM442.5 96.7h1v1h-1zM446.9 89.8h1v1h-1zM443.2 90.7h1v1h-1zM450.3 101.2h1v1h-1zM447.0 98.5h1v1h-1zM444.2 96.6h1v1h-1zM452.4 94.7h1v1h-1zM452.7 90.3h1v1h-1zM471.3 84.9h1v1h-1zM440.5 93.2h1v1h-1zM454.7 93.0h1v1h-1zM450.0 98.3h1v1h-1zM451.8 89.4h1v1h-1zM429.2 98.1h1v1h-1zM428.3 91.0h1v1h-1zM445.5 89.5h1v1h-1zM463.2 89.5h1v1h-1zM452.9 90.5h1v1h-1zM444.0 96.0h1v1h-1zM447.6 99.8h1v1h-1zM451.7 97.3h1v1h-1zM435.6 97.2h1v1h-1zM454.3 99.6h1v1h-1zM437.8 95.1h1v1h-1zM442.7 98.8h1v1h-1zM448.1 96.2h1v1h-1zM442.2 87.6h1v1h-1zM465.8 95.2h1v1h-1zM449.4 91.2h1v1h-1zM442.3 90.1h1v1h-1zM452.0 94.5h1v1h-1zM454.0 88.1h1v1h-1zM439.5 96.1h1v1h-1zM454.1 95.1h1v1h-1zM448.6 86.3h1v1h-1zM434.3 97.3h1v1h-1zM442.4 94.8h1v1h-1zM453.0 94.9h1v1h-1zM436.6 88.0h1v1h-1zM447.6 93.6h1v1h-1zM453.3 93.1h1v1h-1zM449.3 97.2h1v1h-1zM425.3 96.0h1v1h-1zM458.2 97.0h1v1h-1zM443.5 90.6h1v1h-1zM454.0 103.7h1v1h-1zM446.8 100.9h1v1h-1zM436.5 94.6h1v1h-1zM444.3 97.3h1v1h-1zM431.3 80.0h1v1h-1zM443.4 88.6h1v1h-1zM460.1 96.1h1v1h-1zM441.7 89.2h1v1h-1zM457.6 94.2h1v1h-1zM438.9 100.8h1v1h-1zM445.5 91.0h1v1h-1zM453.5 96.8h1v1h-1zM449.3 95.0h1v1h-1zM459.2 92.6h1v1h-1zM440.2 96.9h1v1h-1zM463.8 92.5h1v1h-1zM436.5 93.4h1v1h-1zM443.5 103.4h1v1h-1zM443.6 94.3h1v1h-1zM442.4 101.3h1v1h-1zM439.3 88.8h1v1h-1zM445.5 100.8h1v1h-1zM451.2 94.7h1v1h-1zM430.9 94.3h1v1h-1zM430.5 95.0h1v1h-1zM455.3 95.4h1v1h-1zM448.0 94.3h1v1h-1zM441.8 93.7h1v1h-1zM458.9 102.2h1v1h-1zM457.5 96.7h1v1h-1zM460.2 85.3h1v1h-1zM437.8 92.8h1v1h-1zM444.4 95.5h1v1h-1zM462.2 96.4h1v1h-1zM461.7 85.7h1v1h-1zM457.7 91.3h1v1h-1zM453.7 94.1h1v1h-1zM462.6 89.4h1v1h-1zM462.8 90.2h1v1h-1zM468.5 86.8h1v1h-1zM459.2 90.5h1v1h-1zM457.7 86.5h1v1h-1zM447.7 84.1h1v1h-1zM458.8 98.3h1v1h-1zM455.1 101.0h1v1h-1zM458.7 98.2h1v1h-1zM455.4 86.6h1v1h-1zM450.1 95.1h1v1h-1zM452.9 92.2h1v1h-1zM449.5 86.8h1v1h-1zM447.9 90.1h1v1h-1zM456.0 87.9h1v1h-1zM453.6 98.3h1v1h-1zM454.6 95.8h1v1h-1zM462.0 89.0h1v1h-1zM457.7 84.3h1v1h-1zM454.8 97.0h1v1h-1zM460.3 93.0h1v1h-1zM458.3 88.6h1v1h-1zM455.7 98.5h1v1h-1zM455.9 94.2h1v1h-1zM457.1 91.4h1v1h-1zM441.7 89.3h1v1h-1zM454.4 100.8h1v1h-1zM465.8 84.5h1v1h-1zM457.2 82.8h1v1h-1zM463.6 86.8h1v1h-1zM456.6 95.2h1v1h-1zM448.6 85.9h1v1h-1zM460.5 89.4h1v1h-1zM458.7 88.3h1v1h-1zM446.3 84.2h1v1h-1zM453.5 93.2h1v1h-1zM453.2 83.2h1v1h-1zM455.8 87.1h1v1h-1zM462.1 90.9h1v1h-1zM444.9 79.9h1v1h-1zM465.9 91.6h1v1h-1zM459.3 93.4h1v1h-1zM455.2 90.2h1v1h-1zM463.6 79.7h1v1h-1zM446.5 95.3h1v1h-1zM452.0 84.2h1v1h-1zM455.5 95.8h1v1h-1zM453.1 87.6h1v1h-1zM454.7 90.6h1v1h-1zM471.7 98.7h1v1h-1zM458.6 86.3h1v1h-1zM455.7 97.0h1v1h-1zM457.2 94.0h1v1h-1zM454.9 91.4h1v1h-1zM456.7 94.6h1v1h-1zM452.3 91.6h1v1h-1zM452.4 87.0h1v1h-1zM459.3 83.3h1v1h-1zM461.5 92.9h1v1h-1zM449.2 85.0h1v1h-1zM456.9 93.8h1v1h-1zM451.5 85.7h1v1h-1zM452.7 97.7h1v1h-1zM441.9 95.9h1v1h-1zM457.1 96.0h1v1h-1zM460.2 85.2h1v1h-1zM459.8 88.6h1v1h-1zM468.3 86.7h1v1h-1zM464.5 83.9h1v1h-1zM467.9 92.2h1v1h-1zM468.2 91.3h1v1h-1zM454.6 78.0h1v1h-1zM462.4 101.2h1v1h-1zM451.0 86.7h1v1h-1zM462.6 92.6h1v1h-1zM450.2 89.6h1v1h-1zM441.2 94.5h1v1h-1zM463.7 87.4h1v1h-1zM451.9 88.4h1v1h-1zM457.4 80.1h1v1h-1zM460.3 97.1h1v1h-1zM460.3 86.5h1v1h-1zM456.2 95.6h1v1h-1zM465.2 86.8h1v1h-1zM447.7 87.4h1v1h-1zM444.8 84.5h1v1h-1zM453.7 71.8h1v1h-1zM460.1 73.0h1v1h-1zM460.9 77.7h1v1h-1zM453.6 80.9h1v1h-1zM448.9 70.4h1v1h-1zM470.2 82.6h1v1h-1zM464.2 78.7h1v1h-1zM454.0 81.4h1v1h-1zM454.3 79.8h1v1h-1zM441.2 83.7h1v1h-1zM450.5 82.0h1v1h-1zM457.2 73.4h1v1h-1zM461.3 81.9h1v1h-1zM444.5 75.1h1v1h-1zM440.9 61.8h1v1h-1zM450.9 75.6h1v1h-1zM449.5 72.8h1v1h-1zM446.0 75.3h1v1h-1zM451.4 76.0h1v1h-1zM451.6 69.8h1v1h-1zM445.1 73.0h1v1h-1zM460.1 69.3h1v1h-1zM451.6 76.5h1v1h-1zM442.4 72.7h1v1h-1zM447.5 76.2h1v1h-1zM440.5 73.8h1v1h-1zM456.2 71.4h1v1h-1zM453.3 77.5h1v1h-1zM448.4 79.4h1v1h-1zM456.9 74.4h1v1h-1zM447.6 77.7h1v1h-1zM449.6 91.0h1v1h-1zM457.7 76.2h1v1h-1zM446.6 78.1h1v1h-1zM440.8 73.0h1v1h-1zM460.7 81.9h1v1h-1zM442.7 78.0h1v1h-1zM448.1 79.7h1v1h-1zM461.1 72.4h1v1h-1zM462.8 78.6h1v1h-1z" fill="#b83838" fill-opacity="0.5"/>
<path d="M449.3 91.0h1v1h-1zM468.2 102.3h1v1h-1zM444.3 104.0h1v1h-1zM453.2 97.0h1v1h-1zM457.2 97.7h1v1h-1zM450.8 101.5h1v1h-1zM443.0 94.4h1v1h-1zM449.8 102.1h1v1h-1zM451.0 95.3h1v1h-1zM451.2 104.1h1v1h-1zM453.8 89.0h1v1h-1zM442.0 98.8h1v1h-1zM436.6 99.6h1v1h-1zM457.8 102.4h1v1h-1zM437.7 102.3h1v1h-1zM452.1 100.2h1v1h-1zM452.0 95.0h1v1h-1zM448.7 102.0h1v1h-1zM446.9 96.1h1v1h-1zM448.1 100.8h1v1h-1zM450.0 93.8h1v1h-1zM446.5 98.0h1v1h-1zM449.3 102.4h1v1h-1zM449.2 98.7h1v1h-1zM457.5 95.9h1v1h-1zM453.8 98.8h1v1h-1zM458.0 100.8h1v1h-1zM459.4 98.7h1v1h-1zM455.6 92.9h1v1h-1zM447.9 96.9h1v1h-1zM450.5 96.4h1v1h-1zM462.0 94.1h1v1h-1zM461.3 99.3h1v1h-1zM446.9 104.3h1v1h-1zM464.0 97.3h1v1h-1zM454.3 100.3h1v1h-1zM448.4 101.3h1v1h-1zM438.7 99.7h1v1h-1zM454.6 97.2h1v1h-1zM450.9 100.4h1v1h-1zM459.7 100.0h1v1h-1zM446.6 101.4h1v1h-1zM450.5 93.1h1v1h-1zM453.4 101.7h1v1h-1zM455.8 103.8h1v1h-1zM437.4 97.6h1v1h-1zM455.9 99.9h1v1h-1zM446.6 103.9h1v1h-1zM451.3 91.2h1v1h-1zM443.7 103.1h1v1h-1zM457.9 101.3h1v1h-1zM446.0 101.7h1v1h-1zM454.6 99.1h1v1h-1zM449.0 100.4h1v1h-1zM453.7 97.7h1v1h-1zM448.2 103.5h1v1h-1zM454.5 104.0h1v1h-1zM460.6 98.2h1v1h-1zM444.3 97.3h1v1h-1zM442.2 98.7h1v1h-1zM456.8 100.7h1v1h-1zM452.4 99.6h1v1h-1zM449.3 100.9h1v1h-1zM458.2 94.9h1v1h-1zM451.9 101.5h1v1h-1zM456.3 96.2h1v1h-1zM450.2 98.7h1v1h-1zM449.1 100.6h1v1h-1zM453.6 102.6h1v1h-1zM448.0 98.4h1v1h-1zM459.8 100.2h1v1h-1zM451.7 103.1h1v1h-1zM448.0 100.6h1v1h-1zM445.9 95.6h1v1h-1zM440.5 103.5h1v1h-1zM455.1 89.1h1v1h-1zM448.0 97.2h1v1h-1zM457.3 94.5h1v1h-1zM451.5 100.7h1v1h-1zM445.9 92.6h1v1h-1zM450.4 97.3h1v1h-1zM445.5 95.3h1v1h-1zM458.2 96.5h1v1h-1zM446.4 100.3h1v1h-1zM444.7 94.3h1v1h-1zM448.9 104.3h1v1h-1zM452.8 101.8h1v1h-1zM454.6 95.6h1v1h-1zM454.6 97.1h1v1h-1zM455.4 95.8h1v1h-1zM450.0 95.5h1v1h-1zM452.0 103.2h1v1h-1zM453.5 100.9h1v1h-1zM434.9 98.2h1v1h-1zM457.2 98.8h1v1h-1zM452.7 96.9h1v1h-1zM448.6 104.4h1v1h-1zM452.3 101.0h1v1h-1zM455.1 95.2h1v1h-1zM453.4 101.2h1v1h-1zM448.4 102.2h1v1h-1zM449.9 101.7h1v1h-1zM446.1 100.8h1v1h-1zM458.2 101.6h1v1h-1zM444.4 94.8h1v1h-1zM454.2 95.9h1v1h-1zM447.1 97.1h1v1h-1zM442.8 100.3h1v1h-1zM450.0 96.4h1v1h-1zM458.0 99.8h1v1h-1zM442.7 94.7h1v1h-1zM452.9 97.3h1v1h-1zM447.8 100.8h1v1h-1zM448.4 94.0h1v1h-1zM449.3 97.7h1v1h-1zM448.9 99.0h1v1h-1zM455.2 98.9h1v1h-1zM448.1 101.5h1v1h-1zM452.2 96.7h1v1h-1zM457.6 101.7h1v1h-1zM449.4 93.6h1v1h-1zM451.1 101.5h1v1h-1zM454.8 101.0h1v1h-1zM443.4 102.0h1v1h-1zM452.4 100.9h1v1h-1zM446.6 102.3h1v1h-1zM440.3 96.8h1v1h-1zM443.0 96.3h1v1h-1zM455.9 97.4h1v1h-1zM446.9 93.5h1v1h-1zM455.9 94.2h1v1h-1zM455.4 101.9h1v1h-1zM437.7 92.4h1v1h-1zM450.9 93.0h1v1h-1zM451.0 96.6h1v1h-1zM455.4 100.1h1v1h-1zM455.5 102.3h1v1h-1zM439.4 99.2h1v1h-1zM446.3 93.3h1v1h-1zM440.6 98.9h1v1h-1zM455.7 100.4h1v1h-1zM459.5 97.9h1v1h-1zM446.3 101.2h1v1h-1zM453.2 97.6h1v1h-1zM443.0 95.6h1v1h-1zM438.3 101.4h1v1h-1zM461.1 98.9h1v1h-1zM448.3 95.7h1v1h-1zM462.0 102.7h1v1h-1zM445.9 95.6h1v1h-1zM452.5 89.4h1v1h-1zM445.8 97.1h1v1h-1zM455.2 101.4h1v1h-1zM451.8 94.7h1v1h-1zM450.3 100.9h1v1h-1zM452.0 100.5h1v1h-1zM460.9 99.7h1v1h-1zM446.6 93.1h1v1h-1zM445.5 101.3h1v1h-1zM453.7 90.2h1v1h-1zM443.1 95.7h1v1h-1zM451.9 100.0h1v1h-1zM451.6 98.0h1v1h-1zM453.0 97.2h1v1h-1zM458.5 99.4h1v1h-1zM447.3 95.8h1v1h-1zM446.4 99.8h1v1h-1zM449.3 100.4h1v1h-1zM457.4 102.1h1v1h-1zM451.3 98.0h1v1h-1zM448.7 93.0h1v1h-1zM446.0 104.4h1v1h-1zM451.6 98.6h1v1h-1zM451.5 93.9h1v1h-1zM452.8 100.6h1v1h-1zM454.7 99.1h1v1h-1zM440.3 99.3h1v1h-1zM454.1 94.9h1v1h-1zM459.9 95.7h1v1h-1zM452.9 95.0h1v1h-1zM445.7 101.1h1v1h-1zM456.6 95.0h1v1h-1zM432.9 91.9h1v1h-1zM434.4 94.0h1v1h-1zM441.8 93.7h1v1h-1zM434.0 97.4h1v1h-1zM444.0 97.5h1v1h-1zM439.5 93.1h1v1h-1zM434.7 94.4h1v1h-1zM434.7 94.9h1v1h-1zM436.8 96.4h1v1h-1zM434.3 94.7h1v1h-1zM445.8 93.5h1v1h-1zM463.8 97.7h1v1h-1zM441.4 97.7h1v1h-1zM436.8 95.7h1v1h-1zM457.0 93.9h1v1h-1zM448.1 95.6h1v1h-1zM437.0 97.1h1v1h-1zM434.5 94.5h1v1h-1zM439.6 93.2h1v1h-1zM430.7 90.5h1v1h-1zM428.5 96.7h1v1h-1zM448.6 99.2h1v1h-1zM447.8 96.4h1v1h-1zM440.5 96.3h1v1h-1zM455.0 93.8h1v1h-1zM449.2 87.6h1v1h-1zM449.9 97.8h1v1h-1zM450.0 95.9h1v1h-1zM438.7 95.2h1v1h-1zM454.0 99.8h1v1h-1zM438.0 102.9h1v1h-1zM447.2 93.5h1v1h-1zM432.5 97.8h1v1h-1zM426.0 98.1h1v1h-1zM440.7 100.6h1v1h-1zM439.6 93.9h1v1h-1zM442.2 94.9h1v1h-1zM437.6 94.3h1v1h-1zM437.8 95.6h1v1h-1zM423.0 100.0h1v1h-1zM448.7 91.1h1v1h-1zM454.2 91.7h1v1h-1zM437.7 102.5h1v1h-1zM425.2 95.0h1v1h-1zM435.9 93.1h1v1h-1zM448.4 98.9h1v1h-1zM439.7 96.7h1v1h-1zM421.9 94.8h1v1h-1zM440.8 96.1h1v1h-1zM433.3 97.8h1v1h-1zM441.0 95.5h1v1h-1zM439.0 96.6h1v1h-1zM436.2 95.6h1v1h-1zM445.8 90.7h1v1h-1zM437.1 98.3h1v1h-1zM429.4 99.7h1v1h-1zM436.3 95.3h1v1h-1zM451.8 96.7h1v1h-1zM437.9 97.6h1v1h-1zM434.7 93.4h1v1h-1zM433.2 93.1h1v1h-1zM435.2 95.0h1v1h-1zM444.0 97.5h1v1h-1zM429.2 88.5h1v1h-1zM443.1 91.0h1v1h-1zM448.8 91.6h1v1h-1zM431.8 93.1h1v1h-1zM439.4 98.4h1v1h-1zM453.4 91.3h1v1h-1zM442.6 96.0h1v1h-1zM433.2 98.9h1v1h-1zM437.4 97.4h1v1h-1zM458.8 100.6h1v1h-1zM436.3 96.0h1v1h-1zM421.7 95.6h1v1h-1zM436.5 96.0h1v1h-1zM436.0 98.3h1v1h-1zM435.0 94.0h1v1h-1zM442.7 97.7h1v1h-1zM451.1 98.5h1v1h-1zM453.0 97.0h1v1h-1zM453.8 92.8h1v1h-1zM443.7 99.0h1v1h-1zM435.9 102.2h1v1h-1zM435.2 100.6h1v1h-1zM430.3 94.7h1v1h-1zM448.3 94.7h1v1h-1zM435.3 96.3h1v1h-1zM445.8 95.4h1v1h-1zM443.3 98.0h1v1h-1zM449.8 101.0h1v1h-1zM439.2 99.4h1v1h-1zM444.3 99.3h1v1h-1zM449.3 98.1h1v1h-1zM459.9 93.4h1v1h-1zM443.3 93.4h1v1h-1zM445.2 97.5h1v1h-1zM441.5 98.0h1v1h-1zM429.9 96.8h1v1h-1zM447.3 97.7h1v1h-1zM448.9 95.3h1v1h-1zM432.7 94.3h1v1h-1zM448.8 98.1h1v1h-1zM428.5 96.0h1v1h-1zM441.5 94.8h1v1h-1zM434.8 95.4h1v1h-1zM443.1 95.9h1v1h-1zM430.7 98.1h1v1h-1zM460.0 95.0h1v1h-1zM436.6 94.1h1v1h-1zM450.5 94.6h1v1h-1zM452.3 98.7h1v1h-1zM436.7 97.1h1v1h-1zM439.2 100.3h1v1h-1zM447.8 90.9h1v1h-1zM437.7 98.5h1v1h-1zM438.2 96.7h1v1h-1zM463.3 62.6h1v1h-1zM456.9 67.5h1v1h-1zM462.9 69.5h1v1h-1zM458.9 65.0h1v1h-1zM463.1 66.7h1v1h-1zM466.7 63.8h1v1h-1zM461.7 67.6h1v1h-1zM458.2 66.7h1v1h-1zM462.4 65.7h1v1h-1zM458.9 63.5h1v1h-1zM461.3 64.7h1v1h-1zM461.1 64.3h1v1h-1zM460.8 65.4h1v1h-1zM460.6 67.9h1v1h-1zM466.7 68.8h1v1h-1zM462.3 64.0h1v1h-1zM458.3 67.8h1v1h-1zM464.7 59.6h1v1h-1zM459.3 68.4h1v1h-1zM462.6 66.8h1v1h-1zM462.3 63.4h1v1h-1zM461.1 63.3h1v1h-1zM462.2 61.1h1v1h-1zM459.2 67.1h1v1h-1zM460.5 67.3h1v1h-1zM461.4 63.3h1v1h-1zM461.1 67.3h1v1h-1zM464.7 62.3h1v1h-1zM462.4 67.1h1v1h-1zM461.4 65.8h1v1h-1zM460.1 63.0h1v1h-1zM460.0 66.1h1v1h-1zM461.2 64.4h1v1h-1zM463.5 61.2h1v1h-1zM461.8 67.0h1v1h-1zM459.3 64.6h1v1h-1zM461.2 62.2h1v1h-1zM460.8 66.0h1v1h-1zM461.8 67.2h1v1h-1zM460.4 63.7h1v1h-1z" fill="#cc1010" fill-opacity="0.7"/>
<path d="M436.7 97.9h1v1h-1zM439.9 97.0h1v1h-1zM449.6 101.0h1v1h-1zM424.4 101.3h1v1h-1zM425.6 101.8h1v1h-1zM450.0 103.6h1v1h-1zM440.2 96.8h1v1h-1zM432.3 100.6h1v1h-1zM436.3 96.9h1v1h-1zM442.5 100.9h1v1h-1zM442.4 100.0h1v1h-1zM437.0 103.5h1v1h-1zM438.3 102.9h1v1h-1zM426.8 98.8h1v1h-1zM437.3 101.5h1v1h-1zM435.8 97.4h1v1h-1zM432.2 100.5h1v1h-1zM439.5 101.3h1v1h-1zM447.2 103.1h1v1h-1zM424.9 101.2h1v1h-1zM435.5 101.9h1v1h-1zM423.4 104.2h1v1h-1zM434.0 101.9h1v1h-1zM425.2 101.3h1v1h-1zM442.0 103.6h1v1h-1zM427.6 101.8h1v1h-1zM422.9 102.4h1v1h-1zM427.2 101.4h1v1h-1zM432.0 101.7h1v1h-1zM435.9 102.3h1v1h-1zM449.5 100.5h1v1h-1zM441.7 98.4h1v1h-1zM432.0 100.9h1v1h-1zM426.2 101.1h1v1h-1zM434.5 98.2h1v1h-1zM442.1 101.8h1v1h-1zM422.3 102.5h1v1h-1zM439.5 97.4h1v1h-1zM430.8 102.3h1v1h-1zM426.7 100.5h1v1h-1zM443.5 102.1h1v1h-1zM423.3 102.3h1v1h-1zM439.0 99.7h1v1h-1zM445.8 101.8h1v1h-1zM427.7 101.9h1v1h-1zM424.7 103.4h1v1h-1zM443.7 98.3h1v1h-1zM435.5 99.8h1v1h-1zM446.9 101.9h1v1h-1zM427.9 100.9h1v1h-1zM431.5 98.8h1v1h-1zM431.8 100.9h1v1h-1zM433.9 102.8h1v1h-1zM430.8 102.1h1v1h-1zM434.1 97.3h1v1h-1zM428.2 103.0h1v1h-1zM446.7 100.4h1v1h-1zM443.5 101.9h1v1h-1zM439.0 99.9h1v1h-1zM441.2 97.9h1v1h-1zM442.4 100.8h1v1h-1zM448.4 103.6h1v1h-1zM425.8 103.0h1v1h-1zM439.7 99.4h1v1h-1zM425.5 101.1h1v1h-1zM433.9 100.8h1v1h-1zM443.6 99.1h1v1h-1zM432.2 103.6h1v1h-1zM425.5 103.1h1v1h-1zM428.5 102.2h1v1h-1zM432.5 99.7h1v1h-1zM447.2 101.9h1v1h-1zM440.9 100.2h1v1h-1zM435.7 98.6h1v1h-1zM423.9 101.6h1v1h-1zM439.5 98.7h1v1h-1zM428.3 99.9h1v1h-1zM422.1 104.3h1v1h-1zM425.0 100.7h1v1h-1zM438.1 98.4h1v1h-1zM440.3 100.7h1v1h-1zM431.8 102.2h1v1h-1zM424.7 104.3h1v1h-1zM430.6 103.0h1v1h-1zM433.5 102.2h1v1h-1zM423.4 102.8h1v1h-1zM438.2 102.0h1v1h-1zM435.6 99.9h1v1h-1zM443.1 102.1h1v1h-1zM428.9 99.3h1v1h-1zM428.6 103.5h1v1h-1zM425.9 99.4h1v1h-1zM432.5 103.4h1v1h-1zM436.4 103.3h1v1h-1zM429.6 98.7h1v1h-1zM439.3 100.0h1v1h-1zM428.5 99.1h1v1h-1zM440.9 97.6h1v1h-1zM432.8 99.1h1v1h-1zM444.0 101.9h1v1h-1zM444.6 100.9h1v1h-1zM434.1 98.3h1v1h-1zM438.4 102.7h1v1h-1zM442.2 98.9h1v1h-1zM437.3 98.9h1v1h-1zM429.4 99.5h1v1h-1zM424.4 103.2h1v1h-1zM431.3 103.1h1v1h-1zM437.2 103.0h1v1h-1zM422.3 102.5h1v1h-1zM425.8 101.5h1v1h-1zM445.8 99.3h1v1h-1zM440.8 104.3h1v1h-1zM444.5 101.7h1v1h-1zM440.3 99.8h1v1h-1zM431.1 98.9h1v1h-1zM443.6 99.3h1v1h-1zM433.3 102.6h1v1h-1zM424.9 99.5h1v1h-1zM447.3 102.1h1v1h-1zM441.4 97.4h1v1h-1zM443.7 99.9h1v1h-1zM437.7 99.8h1v1h-1zM444.5 101.0h1v1h-1zM434.8 98.0h1v1h-1zM438.7 102.2h1v1h-1zM423.5 103.6h1v1h-1zM438.2 103.4h1v1h-1zM442.6 101.0h1v1h-1zM445.8 99.7h1v1h-1zM436.4 100.8h1v1h-1zM424.6 101.7h1v1h-1zM431.4 104.4h1v1h-1zM439.9 100.9h1v1h-1zM435.4 101.3h1v1h-1zM434.1 103.8h1v1h-1zM447.6 103.2h1v1h-1zM440.1 99.4h1v1h-1zM433.4 102.4h1v1h-1zM436.6 100.4h1v1h-1zM436.3 98.6h1v1h-1zM425.6 104.1h1v1h-1zM426.8 101.0h1v1h-1zM435.4 103.7h1v1h-1zM451.2 103.2h1v1h-1zM422.5 102.6h1v1h-1zM437.3 101.8h1v1h-1zM426.2 101.1h1v1h-1zM434.2 101.6h1v1h-1zM442.1 101.1h1v1h-1zM437.8 102.8h1v1h-1zM429.9 101.0h1v1h-1zM428.9 102.7h1v1h-1zM446.3 100.8h1v1h-1zM444.1 103.1h1v1h-1zM433.1 102.2h1v1h-1zM433.9 98.7h1v1h-1zM443.2 102.8h1v1h-1zM432.5 99.6h1v1h-1zM436.4 101.0h1v1h-1zM427.8 103.4h1v1h-1zM433.4 100.7h1v1h-1zM444.1 104.3h1v1h-1zM439.8 99.3h1v1h-1zM421.8 103.5h1v1h-1zM447.3 102.6h1v1h-1zM449.1 102.3h1v1h-1zM432.1 97.1h1v1h-1zM449.0 103.6h1v1h-1zM433.7 103.0h1v1h-1zM443.5 102.8h1v1h-1zM431.5 97.5h1v1h-1zM438.6 102.4h1v1h-1zM441.4 103.3h1v1h-1zM445.6 100.4h1v1h-1zM448.3 102.5h1v1h-1zM435.8 97.3h1v1h-1zM448.4 102.4h1v1h-1zM448.2 101.3h1v1h-1zM450.6 104.0h1v1h-1zM440.0 98.7h1v1h-1zM441.6 100.9h1v1h-1zM426.7 99.3h1v1h-1zM430.1 100.3h1v1h-1zM443.1 101.8h1v1h-1zM442.0 98.8h1v1h-1zM435.7 102.6h1v1h-1zM435.1 99.6h1v1h-1zM435.8 101.3h1v1h-1zM426.1 101.1h1v1h-1zM434.6 101.1h1v1h-1zM431.4 102.3h1v1h-1zM427.5 103.8h1v1h-1zM439.3 101.1h1v1h-1zM433.4 99.9h1v1h-1zM438.6 104.0h1v1h-1zM437.7 98.5h1v1h-1zM445.8 100.5h1v1h-1zM436.1 103.9h1v1h-1zM437.8 99.4h1v1h-1zM433.4 97.8h1v1h-1zM434.0 98.9h1v1h-1zM445.3 100.1h1v1h-1zM428.9 99.4h1v1h-1zM422.7 103.3h1v1h-1zM435.0 103.0h1v1h-1zM442.1 101.7h1v1h-1zM434.5 103.6h1v1h-1zM432.1 99.2h1v1h-1zM440.3 98.7h1v1h-1zM425.5 101.6h1v1h-1zM439.6 99.3h1v1h-1zM437.3 97.7h1v1h-1zM434.3 103.5h1v1h-1zM445.1 103.3h1v1h-1zM439.2 102.4h1v1h-1zM427.9 103.2h1v1h-1zM423.5 101.3h1v1h-1zM425.8 101.9h1v1h-1zM433.3 98.7h1v1h-1zM431.5 102.8h1v1h-1zM438.0 102.8h1v1h-1zM432.9 98.6h1v1h-1zM439.2 102.4h1v1h-1zM421.2 101.9h1v1h-1zM430.8 101.6h1v1h-1zM438.4 97.9h1v1h-1zM441.2 96.8h1v1h-1zM444.6 101.1h1v1h-1zM431.5 104.4h1v1h-1zM441.3 97.8h1v1h-1zM434.1 98.6h1v1h-1zM427.4 104.3h1v1h-1zM444.6 98.9h1v1h-1zM424.1 101.0h1v1h-1zM421.3 102.4h1v1h-1zM427.0 101.0h1v1h-1zM434.4 102.3h1v1h-1zM442.3 101.4h1v1h-1zM435.3 97.0h1v1h-1zM435.9 101.6h1v1h-1zM443.9 101.5h1v1h-1zM442.2 99.9h1v1h-1zM443.2 98.8h1v1h-1zM442.0 97.5h1v1h-1zM433.9 103.8h1v1h-1zM430.0 103.5h1v1h-1zM446.2 103.9h1v1h-1zM429.3 102.0h1v1h-1zM428.1 100.8h1v1h-1zM445.7 101.6h1v1h-1zM424.5 104.0h1v1h-1zM427.5 103.3h1v1h-1zM439.2 98.0h1v1h-1zM432.9 99.9h1v1h-1zM424.8 101.7h1v1h-1zM421.6 102.3h1v1h-1zM428.0 99.8h1v1h-1zM448.1 103.1h1v1h-1zM429.7 103.1h1v1h-1zM442.0 98.0h1v1h-1zM430.1 98.9h1v1h-1zM432.3 97.5h1v1h-1zM443.5 103.3h1v1h-1zM444.9 103.4h1v1h-1zM440.4 98.1h1v1h-1zM426.9 98.8h1v1h-1zM444.0 101.9h1v1h-1zM441.7 103.6h1v1h-1zM444.7 101.8h1v1h-1zM426.5 104.3h1v1h-1zM442.8 102.0h1v1h-1zM438.8 103.3h1v1h-1zM442.7 104.2h1v1h-1zM432.5 100.2h1v1h-1zM431.5 98.8h1v1h-1zM439.0 100.9h1v1h-1zM436.0 100.3h1v1h-1zM442.5 99.6h1v1h-1zM448.6 104.0h1v1h-1zM447.2 102.5h1v1h-1zM433.1 103.2h1v1h-1zM432.1 102.7h1v1h-1zM432.8 97.0h1v1h-1zM444.9 100.1h1v1h-1zM424.0 104.0h1v1h-1zM434.7 101.4h1v1h-1zM437.2 103.9h1v1h-1zM446.1 101.9h1v1h-1zM448.0 102.4h1v1h-1zM440.2 102.2h1v1h-1zM440.8 103.8h1v1h-1zM426.3 104.1h1v1h-1zM446.2 103.0h1v1h-1zM438.2 103.7h1v1h-1zM437.2 104.3h1v1h-1zM431.4 99.2h1v1h-1zM440.0 99.1h1v1h-1zM439.6 98.0h1v1h-1zM437.3 101.3h1v1h-1zM436.8 102.5h1v1h-1zM432.2 99.0h1v1h-1zM448.1 102.6h1v1h-1zM435.0 104.1h1v1h-1zM435.6 101.5h1v1h-1zM428.5 100.1h1v1h-1zM429.3 102.4h1v1h-1zM451.5 103.9h1v1h-1zM430.4 102.7h1v1h-1zM426.7 102.0h1v1h-1zM444.1 101.3h1v1h-1zM438.5 100.9h1v1h-1zM442.1 99.8h1v1h-1zM442.0 104.1h1v1h-1zM434.8 99.4h1v1h-1zM440.8 97.5h1v1h-1zM428.9 99.0h1v1h-1zM435.6 102.6h1v1h-1zM429.4 99.6h1v1h-1zM449.0 104.0h1v1h-1zM426.6 101.4h1v1h-1zM429.0 99.6h1v1h-1zM432.2 103.0h1v1h-1zM440.1 102.7h1v1h-1zM435.3 99.0h1v1h-1zM443.4 102.4h1v1h-1zM445.4 102.7h1v1h-1zM432.8 97.9h1v1h-1zM437.3 102.6h1v1h-1zM430.3 102.7h1v1h-1zM427.8 99.5h1v1h-1zM431.0 102.2h1v1h-1zM431.6 101.4h1v1h-1zM438.5 102.4h1v1h-1zM430.1 98.5h1v1h-1zM431.7 103.6h1v1h-1zM446.0 99.3h1v1h-1zM447.5 102.4h1v1h-1zM440.5 99.5h1v1h-1zM443.5 102.2h1v1h-1zM427.8 102.7h1v1h-1zM448.9 102.1h1v1h-1zM437.4 101.3h1v1h-1zM442.3 100.5h1v1h-1zM429.1 100.5h1v1h-1zM435.9 100.2h1v1h-1zM422.2 103.2h1v1h-1zM430.6 99.1h1v1h-1zM448.6 102.3h1v1h-1zM438.4 102.5h1v1h-1zM445.2 98.5h1v1h-1zM449.2 103.5h1v1h-1zM434.7 104.3h1v1h-1zM437.0 102.5h1v1h-1zM439.1 104.2h1v1h-1zM442.9 100.3h1v1h-1zM441.9 97.5h1v1h-1zM422.5 101.8h1v1h-1zM440.5 99.5h1v1h-1zM441.4 104.0h1v1h-1zM437.2 101.3h1v1h-1zM445.2 102.9h1v1h-1zM425.6 102.2h1v1h-1zM433.6 97.1h1v1h-1zM431.3 101.2h1v1h-1zM439.7 101.7h1v1h-1zM442.9 98.4h1v1h-1zM439.7 100.3h1v1h-1zM438.5 99.5h1v1h-1zM441.9 99.0h1v1h-1zM431.2 100.2h1v1h-1zM424.4 101.7h1v1h-1zM435.1 96.7h1v1h-1zM435.0 101.3h1v1h-1zM440.5 98.0h1v1h-1zM430.7 103.5h1v1h-1zM425.1 99.9h1v1h-1zM432.6 99.1h1v1h-1zM426.7 100.7h1v1h-1zM429.7 99.7h1v1h-1zM432.7 100.4h1v1h-1zM446.7 99.8h1v1h-1zM423.0 102.5h1v1h-1zM426.9 104.1h1v1h-1zM438.2 97.9h1v1h-1zM447.3 102.5h1v1h-1zM433.4 97.7h1v1h-1zM431.2 102.1h1v1h-1zM436.0 102.5h1v1h-1zM421.8 102.2h1v1h-1zM429.3 100.8h1v1h-1zM439.0 104.4h1v1h-1zM446.5 101.4h1v1h-1zM440.1 100.0h1v1h-1zM438.8 99.5h1v1h-1zM444.3 101.2h1v1h-1zM427.1 102.6h1v1h-1zM445.5 102.9h1v1h-1zM436.8 101.0h1v1h-1zM437.9 97.9h1v1h-1zM434.9 98.8h1v1h-1zM430.6 100.5h1v1h-1zM432.9 97.5h1v1h-1zM442.5 102.4h1v1h-1zM427.1 101.0h1v1h-1zM435.4 97.0h1v1h-1zM424.6 102.7h1v1h-1zM427.6 100.2h1v1h-1zM427.0 102.5h1v1h-1zM426.2 102.0h1v1h-1zM423.1 102.3h1v1h-1zM427.6 99.7h1v1h-1zM435.8 103.5h1v1h-1zM440.8 100.6h1v1h-1zM432.3 99.9h1v1h-1zM426.0 103.1h1v1h-1zM424.7 102.5h1v1h-1zM425.6 99.5h1v1h-1zM435.7 102.0h1v1h-1zM434.4 98.5h1v1h-1zM431.8 104.2h1v1h-1zM442.1 99.4h1v1h-1zM428.5 104.0h1v1h-1zM442.8 103.7h1v1h-1zM439.3 103.8h1v1h-1zM436.7 104.3h1v1h-1zM448.0 103.4h1v1h-1zM438.8 97.3h1v1h-1zM438.5 104.3h1v1h-1zM439.7 100.3h1v1h-1zM443.7 100.1h1v1h-1zM443.0 104.0h1v1h-1zM425.3 103.8h1v1h-1zM439.6 102.0h1v1h-1zM430.1 97.7h1v1h-1zM432.1 100.2h1v1h-1zM421.9 103.9h1v1h-1zM442.7 100.1h1v1h-1zM429.9 102.4h1v1h-1zM433.6 104.0h1v1h-1zM439.7 103.5h1v1h-1zM444.2 102.9h1v1h-1zM429.2 100.0h1v1h-1zM442.1 101.7h1v1h-1zM438.0 99.1h1v1h-1zM424.1 102.2h1v1h-1zM437.7 103.5h1v1h-1zM432.3 98.8h1v1h-1zM431.7 98.5h1v1h-1zM436.7 99.3h1v1h-1zM430.3 103.0h1v1h-1zM432.4 100.1h1v1h-1zM448.4 101.2h1v1h-1zM427.9 100.2h1v1h-1zM429.6 101.1h1v1h-1zM441.9 97.8h1v1h-1zM431.4 101.9h1v1h-1zM442.9 102.3h1v1h-1zM428.2 99.6h1v1h-1zM431.1 104.2h1v1h-1zM423.7 104.2h1v1h-1zM434.6 102.3h1v1h-1zM429.1 98.3h1v1h-1zM429.2 101.2h1v1h-1zM435.4 99.0h1v1h-1zM432.2 98.1h1v1h-1zM447.2 104.1h1v1h-1zM439.2 104.2h1v1h-1zM439.9 101.5h1v1h-1zM433.9 102.7h1v1h-1zM445.4 102.3h1v1h-1zM436.6 99.2h1v1h-1zM443.1 101.3h1v1h-1zM439.9 101.4h1v1h-1zM435.2 103.4h1v1h-1zM429.6 98.2h1v1h-1zM445.8 100.5h1v1h-1zM434.4 99.9h1v1h-1zM429.0 104.0h1v1h-1zM446.1 100.7h1v1h-1zM437.4 104.0h1v1h-1zM428.5 100.5h1v1h-1zM441.7 101.6h1v1h-1zM442.6 103.3h1v1h-1zM444.7 101.7h1v1h-1zM437.8 100.3h1v1h-1zM445.8 101.1h1v1h-1zM438.6 102.8h1v1h-1zM424.4 104.0h1v1h-1zM443.9 103.6h1v1h-1zM438.9 100.5h1v1h-1zM431.9 102.3h1v1h-1zM438.7 101.3h1v1h-1zM432.5 104.0h1v1h-1zM430.5 103.4h1v1h-1zM445.6 99.1h1v1h-1zM440.9 101.6h1v1h-1zM443.0 98.7h1v1h-1zM425.0 100.1h1v1h-1zM426.9 101.3h1v1h-1zM440.5 102.4h1v1h-1zM443.6 100.8h1v1h-1zM440.6 103.3h1v1h-1zM438.8 104.0h1v1h-1zM440.6 104.2h1v1h-1zM425.6 102.1h1v1h-1zM443.7 102.5h1v1h-1zM436.4 97.9h1v1h-1zM443.3 101.8h1v1h-1zM442.5 100.7h1v1h-1zM449.0 102.2h1v1h-1zM442.0 99.4h1v1h-1zM434.4 101.4h1v1h-1zM447.4 101.9h1v1h-1zM446.0 99.1h1v1h-1zM427.7 101.1h1v1h-1zM442.1 102.9h1v1h-1zM450.3 104.1h1v1h-1zM423.6 99.9h1v1h-1zM424.0 104.4h1v1h-1zM442.3 98.9h1v1h-1zM439.9 101.9h1v1h-1zM446.7 102.6h1v1h-1zM437.1 103.1h1v1h-1zM445.1 102.8h1v1h-1zM433.3 100.7h1v1h-1zM422.1 102.2h1v1h-1zM445.7 99.9h1v1h-1zM435.2 103.4h1v1h-1zM432.5 101.3h1v1h-1zM440.5 102.8h1v1h-1zM447.1 104.4h1v1h-1zM447.0 102.4h1v1h-1zM430.8 103.9h1v1h-1zM440.2 103.0h1v1h-1zM433.0 99.3h1v1h-1zM441.5 100.1h1v1h-1zM445.1 103.9h1v1h-1zM437.3 100.6h1v1h-1zM442.5 97.6h1v1h-1zM429.8 99.9h1v1h-1zM439.1 103.3h1v1h-1zM434.1 100.7h1v1h-1zM441.0 100.5h1v1h-1zM439.7 104.2h1v1h-1zM437.6 100.6h1v1h-1zM428.4 98.4h1v1h-1zM441.5 103.2h1v1h-1zM441.3 97.6h1v1h-1zM439.1 103.0h1v1h-1zM438.2 103.1h1v1h-1zM431.7 99.1h1v1h-1zM434.5 97.9h1v1h-1zM424.1 100.3h1v1h-1zM448.0 100.8h1v1h-1zM439.7 98.7h1v1h-1zM430.9 101.7h1v1h-1zM435.6 102.0h1v1h-1zM426.3 103.3h1v1h-1zM433.5 102.2h1v1h-1zM449.8 103.3h1v1h-1zM441.5 103.7h1v1h-1zM437.5 97.7h1v1h-1zM437.4 97.8h1v1h-1zM440.6 101.5h1v1h-1zM440.0 97.8h1v1h-1zM436.1 101.6h1v1h-1zM423.9 101.3h1v1h-1zM435.4 98.5h1v1h-1zM441.5 97.7h1v1h-1zM428.4 101.7h1v1h-1zM429.5 102.7h1v1h-1zM446.2 103.5h1v1h-1zM425.7 103.2h1v1h-1zM426.9 100.5h1v1h-1zM446.6 103.9h1v1h-1zM424.9 101.4h1v1h-1zM430.6 103.7h1v1h-1zM433.4 100.9h1v1h-1zM445.4 98.6h1v1h-1zM428.2 100.8h1v1h-1zM431.6 103.1h1v1h-1zM434.0 99.9h1v1h-1zM441.3 99.6h1v1h-1zM440.7 97.1h1v1h-1zM440.2 101.7h1v1h-1zM446.1 101.4h1v1h-1zM433.1 100.5h1v1h-1zM423.2 103.1h1v1h-1zM433.4 97.9h1v1h-1zM445.8 104.1h1v1h-1zM422.7 103.8h1v1h-1zM433.5 100.6h1v1h-1zM432.8 98.3h1v1h-1zM433.7 100.5h1v1h-1zM437.5 98.2h1v1h-1zM437.6 102.1h1v1h-1zM442.6 99.6h1v1h-1zM426.8 104.4h1v1h-1zM430.8 100.3h1v1h-1zM428.9 99.1h1v1h-1zM429.3 100.2h1v1h-1zM431.8 103.0h1v1h-1zM439.6 99.6h1v1h-1zM432.5 102.4h1v1h-1zM434.5 102.2h1v1h-1zM423.8 102.8h1v1h-1zM434.4 102.4h1v1h-1zM436.4 98.8h1v1h-1zM449.2 103.9h1v1h-1zM433.6 98.3h1v1h-1zM442.3 98.0h1v1h-1zM441.6 101.3h1v1h-1zM426.6 101.2h1v1h-1zM438.7 99.2h1v1h-1zM434.6 102.8h1v1h-1zM448.9 102.1h1v1h-1zM432.8 103.7h1v1h-1zM423.6 102.2h1v1h-1zM434.2 102.9h1v1h-1zM446.1 101.7h1v1h-1zM441.8 104.4h1v1h-1zM433.1 102.0h1v1h-1zM443.4 98.9h1v1h-1zM443.8 100.6h1v1h-1zM427.4 101.8h1v1h-1zM443.0 103.9h1v1h-1zM449.3 103.9h1v1h-1zM441.9 99.5h1v1h-1zM446.0 100.4h1v1h-1zM445.2 102.4h1v1h-1zM435.5 103.9h1v1h-1zM437.8 98.8h1v1h-1zM443.8 101.3h1v1h-1zM439.9 98.0h1v1h-1zM423.2 103.0h1v1h-1zM423.8 102.3h1v1h-1zM430.8 101.7h1v1h-1zM425.6 103.5h1v1h-1zM430.3 98.2h1v1h-1zM443.2 102.7h1v1h-1zM433.2 100.4h1v1h-1zM431.4 98.1h1v1h-1zM423.7 103.5h1v1h-1zM428.5 103.0h1v1h-1zM443.2 101.3h1v1h-1zM431.6 97.2h1v1h-1zM430.3 99.1h1v1h-1zM438.0 99.0h1v1h-1zM430.7 103.3h1v1h-1zM434.6 100.9h1v1h-1zM421.2 103.8h1v1h-1zM437.0 99.5h1v1h-1zM446.0 101.7h1v1h-1zM445.8 98.9h1v1h-1zM437.9 101.7h1v1h-1zM440.9 102.8h1v1h-1zM442.0 102.1h1v1h-1zM443.5 99.5h1v1h-1zM431.7 101.5h1v1h-1zM434.9 103.0h1v1h-1zM445.0 100.9h1v1h-1zM447.6 100.5h1v1h-1z" fill="#d00000" fill-opacity="0.9"/>
<path d="M447.2 177.3h1v1h-1zM421.5 177.5h1v1h-1zM480.6 156.3h1v1h-1zM448.9 177.3h1v1h-1zM460.6 157.9h1v1h-1zM513.1 140.4h1v1h-1zM470.4 179.1h1v1h-1zM487.0 176.1h1v1h-1zM471.7 161.6h1v1h-1zM441.9 149.2h1v1h-1zM447.2 150.5h1v1h-1zM433.9 177.0h1v1h-1zM460.2 181.9h1v1h-1zM441.8 152.7h1v1h-1zM496.4 164.0h1v1h-1zM438.5 177.0h1v1h-1zM500.4 184.1h1v1h-1zM505.4 176.0h1v1h-1zM501.7 143.5h1v1h-1zM438.4 159.3h1v1h-1zM469.1 147.4h1v1h-1zM481.0 176.8h1v1h-1zM495.9 176.6h1v1h-1zM502.9 184.3h1v1h-1zM496.1 180.7h1v1h-1zM433.1 162.6h1v1h-1zM484.8 140.8h1v1h-1zM426.0 154.8h1v1h-1zM476.0 184.5h1v1h-1zM508.2 162.8h1v1h-1zM498.3 180.2h1v1h-1zM459.3 173.2h1v1h-1zM445.2 165.5h1v1h-1zM434.2 163.1h1v1h-1zM504.7 180.2h1v1h-1zM456.2 158.4h1v1h-1zM499.6 166.8h1v1h-1zM461.8 179.8h1v1h-1zM460.0 182.3h1v1h-1zM449.1 127.5h1v1h-1zM438.9 118.6h1v1h-1zM449.7 132.5h1v1h-1zM488.7 135.5h1v1h-1zM449.7 138.0h1v1h-1zM448.6 124.9h1v1h-1zM441.4 129.1h1v1h-1zM482.9 136.0h1v1h-1zM449.2 176.4h1v1h-1zM441.5 172.4h1v1h-1zM459.3 166.7h1v1h-1zM449.7 175.3h1v1h-1zM443.2 177.0h1v1h-1zM462.3 173.7h1v1h-1zM451.3 181.5h1v1h-1zM441.1 181.6h1v1h-1zM450.5 167.7h1v1h-1zM463.3 176.0h1v1h-1zM465.2 169.5h1v1h-1zM439.9 179.3h1v1h-1zM454.3 182.2h1v1h-1zM463.2 165.2h1v1h-1zM461.0 173.5h1v1h-1zM454.7 176.9h1v1h-1zM453.9 169.0h1v1h-1zM460.8 168.5h1v1h-1zM465.0 167.4h1v1h-1zM447.6 174.5h1v1h-1zM456.7 171.8h1v1h-1zM455.7 180.0h1v1h-1zM454.7 171.8h1v1h-1zM457.7 168.3h1v1h-1zM464.3 169.6h1v1h-1zM452.0 177.6h1v1h-1zM455.1 168.7h1v1h-1zM456.1 174.0h1v1h-1zM463.6 169.7h1v1h-1zM451.4 183.0h1v1h-1zM439.8 179.0h1v1h-1zM457.4 175.3h1v1h-1zM462.8 175.6h1v1h-1zM450.2 169.1h1v1h-1zM458.9 166.1h1v1h-1zM463.9 166.0h1v1h-1zM467.0 172.5h1v1h-1zM442.1 177.3h1v1h-1zM449.6 179.3h1v1h-1zM461.1 172.0h1v1h-1zM451.9 174.1h1v1h-1zM462.9 174.9h1v1h-1zM451.2 179.3h1v1h-1zM450.3 172.8h1v1h-1zM458.1 171.6h1v1h-1zM454.2 173.8h1v1h-1zM447.2 179.0h1v1h-1zM459.7 166.5h1v1h-1zM466.7 168.9h1v1h-1zM444.4 177.3h1v1h-1zM447.0 170.0h1v1h-1zM446.5 175.5h1v1h-1zM453.8 174.0h1v1h-1zM456.8 182.9h1v1h-1zM457.1 170.7h1v1h-1zM452.4 176.5h1v1h-1zM451.9 174.9h1v1h-1zM449.0 177.1h1v1h-1zM463.7 172.6h1v1h-1zM439.8 173.0h1v1h-1zM456.0 170.6h1v1h-1zM453.6 171.1h1v1h-1zM456.2 178.2h1v1h-1zM453.2 167.0h1v1h-1zM454.8 175.4h1v1h-1zM457.1 171.0h1v1h-1zM455.9 172.3h1v1h-1zM459.1 173.2h1v1h-1zM457.0 174.0h1v1h-1zM456.7 166.6h1v1h-1zM463.7 174.0h1v1h-1zM457.7 171.9h1v1h-1zM447.8 174.7h1v1h-1zM447.1 169.9h1v1h-1zM461.6 168.6h1v1h-1zM447.3 180.7h1v1h-1zM448.5 175.7h1v1h-1zM467.9 168.1h1v1h-1zM454.0 171.4h1v1h-1zM462.7 170.5h1v1h-1zM454.5 168.7h1v1h-1zM461.7 171.8h1v1h-1zM454.9 177.6h1v1h-1zM449.4 169.0h1v1h-1zM452.4 180.4h1v1h-1zM453.7 175.7h1v1h-1zM449.4 175.0h1v1h-1zM437.7 172.4h1v1h-1zM456.5 171.4h1v1h-1zM461.2 171.1h1v1h-1zM464.5 169.6h1v1h-1zM450.1 166.7h1v1h-1zM456.8 179.8h1v1h-1zM453.1 180.4h1v1h-1zM460.1 174.7h1v1h-1zM453.7 177.2h1v1h-1zM452.2 176.7h1v1h-1zM437.0 182.4h1v1h-1zM453.2 170.7h1v1h-1zM452.2 177.3h1v1h-1zM455.8 166.4h1v1h-1zM459.1 175.1h1v1h-1zM455.6 176.5h1v1h-1zM442.6 172.3h1v1h-1zM468.1 173.8h1v1h-1zM460.4 174.0h1v1h-1zM453.7 162.4h1v1h-1zM470.2 166.7h1v1h-1zM457.1 166.3h1v1h-1zM450.3 168.5h1v1h-1zM456.9 165.6h1v1h-1zM450.8 170.9h1v1h-1zM442.5 175.0h1v1h-1zM459.2 176.1h1v1h-1zM455.8 169.8h1v1h-1zM456.8 167.0h1v1h-1zM451.6 166.2h1v1h-1zM460.4 165.9h1v1h-1zM449.6 176.9h1v1h-1zM456.9 173.8h1v1h-1zM453.5 176.6h1v1h-1zM443.3 183.5h1v1h-1zM449.9 174.0h1v1h-1zM444.1 175.1h1v1h-1zM457.6 170.5h1v1h-1zM461.0 171.5h1v1h-1zM457.5 169.2h1v1h-1zM460.4 167.9h1v1h-1zM457.3 173.2h1v1h-1zM437.4 181.8h1v1h-1zM451.5 175.3h1v1h-1zM449.5 176.5h1v1h-1zM437.3 178.9h1v1h-1zM450.0 176.2h1v1h-1zM454.0 169.6h1v1h-1zM450.2 166.3h1v1h-1zM453.9 177.4h1v1h-1zM451.3 174.3h1v1h-1zM470.4 171.6h1v1h-1zM451.1 182.9h1v1h-1zM453.7 173.9h1v1h-1zM456.8 173.5h1v1h-1zM453.4 167.7h1v1h-1zM462.4 168.4h1v1h-1zM461.2 172.0h1v1h-1zM447.9 167.9h1v1h-1zM460.9 163.2h1v1h-1zM461.6 175.7h1v1h-1zM461.8 169.2h1v1h-1zM446.9 176.9h1v1h-1zM457.0 163.4h1v1h-1zM462.0 169.1h1v1h-1zM453.9 175.5h1v1h-1zM449.0 172.3h1v1h-1zM459.0 171.1h1v1h-1zM442.5 173.2h1v1h-1zM446.8 174.8h1v1h-1zM454.8 178.6h1v1h-1zM450.5 164.9h1v1h-1zM462.8 160.3h1v1h-1zM459.7 172.5h1v1h-1zM455.2 180.0h1v1h-1zM462.5 172.6h1v1h-1zM446.6 176.1h1v1h-1zM460.1 164.8h1v1h-1zM450.6 173.7h1v1h-1zM460.9 167.2h1v1h-1zM451.0 166.0h1v1h-1zM455.6 168.6h1v1h-1zM460.4 166.0h1v1h-1zM449.4 168.9h1v1h-1zM458.4 169.9h1v1h-1zM464.4 167.4h1v1h-1zM450.0 173.2h1v1h-1zM455.1 174.0h1v1h-1zM467.2 172.2h1v1h-1zM456.4 178.6h1v1h-1zM449.8 177.8h1v1h-1zM460.6 165.4h1v1h-1zM458.3 177.8h1v1h-1zM457.3 172.9h1v1h-1zM455.9 173.2h1v1h-1zM456.7 175.3h1v1h-1zM445.1 173.9h1v1h-1zM454.4 174.5h1v1h-1zM457.8 167.0h1v1h-1zM455.6 174.4h1v1h-1zM451.9 180.5h1v1h-1zM459.4 170.6h1v1h-1zM457.7 167.9h1v1h-1zM453.0 176.9h1v1h-1zM466.0 172.4h1v1h-1zM457.8 171.5h1v1h-1zM451.3 171.8h1v1h-1zM460.7 172.5h1v1h-1zM462.1 172.3h1v1h-1zM461.1 170.0h1v1h-1zM455.5 178.5h1v1h-1zM437.3 182.1h1v1h-1zM460.8 175.4h1v1h-1zM457.6 167.9h1v1h-1zM458.6 166.8h1v1h-1zM451.3 175.5h1v1h-1zM449.1 173.8h1v1h-1zM461.1 173.9h1v1h-1zM456.6 167.7h1v1h-1zM467.9 168.1h1v1h-1zM447.2 174.3h1v1h-1zM455.6 170.1h1v1h-1zM456.1 177.6h1v1h-1zM448.5 172.1h1v1h-1zM462.7 169.1h1v1h-1zM457.3 170.8h1v1h-1zM455.0 171.3h1v1h-1zM461.7 171.5h1v1h-1zM460.5 173.0h1v1h-1zM449.2 166.3h1v1h-1zM452.9 176.4h1v1h-1zM465.9 170.1h1v1h-1zM461.0 165.0h1v1h-1zM445.4 177.5h1v1h-1zM432.3 174.1h1v1h-1zM464.8 172.8h1v1h-1zM467.6 169.0h1v1h-1zM452.8 174.2h1v1h-1zM455.3 170.4h1v1h-1zM443.0 180.9h1v1h-1zM461.2 171.1h1v1h-1zM440.0 181.6h1v1h-1zM447.6 170.6h1v1h-1zM455.1 168.7h1v1h-1zM450.9 176.6h1v1h-1zM454.8 167.0h1v1h-1zM472.1 160.1h1v1h-1zM453.5 175.9h1v1h-1zM456.1 169.6h1v1h-1zM459.1 172.3h1v1h-1zM454.0 168.6h1v1h-1zM443.1 172.6h1v1h-1zM456.4 169.9h1v1h-1zM483.5 146.8h1v1h-1zM484.2 149.0h1v1h-1zM474.5 158.0h1v1h-1zM472.9 144.1h1v1h-1zM482.4 148.4h1v1h-1zM477.2 145.7h1v1h-1zM474.9 143.0h1v1h-1zM473.0 147.2h1v1h-1zM476.7 144.9h1v1h-1zM485.7 148.6h1v1h-1zM482.9 142.6h1v1h-1zM476.3 148.6h1v1h-1zM473.4 146.5h1v1h-1zM478.6 153.4h1v1h-1zM481.1 146.5h1v1h-1zM478.0 144.1h1v1h-1zM484.1 144.0h1v1h-1zM485.6 144.3h1v1h-1zM475.7 145.0h1v1h-1zM478.3 143.3h1v1h-1zM478.5 149.9h1v1h-1zM471.8 142.8h1v1h-1zM475.7 149.1h1v1h-1zM472.6 146.6h1v1h-1zM475.0 151.2h1v1h-1zM471.6 147.7h1v1h-1zM472.3 148.2h1v1h-1zM483.0 141.8h1v1h-1zM483.8 149.8h1v1h-1zM484.1 138.9h1v1h-1zM482.8 148.4h1v1h-1zM479.9 143.9h1v1h-1zM488.7 153.2h1v1h-1zM476.4 141.4h1v1h-1zM476.6 150.2h1v1h-1zM480.0 155.3h1v1h-1zM479.4 160.7h1v1h-1zM479.0 150.1h1v1h-1zM479.7 151.2h1v1h-1zM484.1 151.5h1v1h-1zM475.9 142.1h1v1h-1zM475.6 148.9h1v1h-1zM481.8 148.2h1v1h-1zM478.9 147.3h1v1h-1zM473.9 144.9h1v1h-1zM483.0 143.0h1v1h-1zM479.8 146.1h1v1h-1zM477.1 147.0h1v1h-1zM480.4 153.8h1v1h-1zM479.8 143.0h1v1h-1zM473.7 151.3h1v1h-1zM478.5 147.8h1v1h-1zM469.1 152.8h1v1h-1zM472.6 143.5h1v1h-1zM486.9 147.1h1v1h-1zM471.3 154.0h1v1h-1zM476.7 147.6h1v1h-1zM486.7 154.2h1v1h-1zM490.3 150.1h1v1h-1zM479.9 152.5h1v1h-1zM476.5 151.1h1v1h-1zM477.5 152.7h1v1h-1zM482.6 163.4h1v1h-1zM474.0 138.8h1v1h-1zM471.8 136.5h1v1h-1zM466.5 146.6h1v1h-1zM476.9 150.9h1v1h-1zM471.1 149.6h1v1h-1zM486.4 145.1h1v1h-1zM476.4 147.2h1v1h-1zM483.6 146.1h1v1h-1zM478.2 154.4h1v1h-1zM477.4 149.9h1v1h-1zM479.1 158.8h1v1h-1zM473.5 153.4h1v1h-1zM467.4 148.9h1v1h-1zM480.0 148.7h1v1h-1zM481.0 149.4h1v1h-1zM484.9 146.4h1v1h-1zM479.5 145.8h1v1h-1zM474.7 144.8h1v1h-1zM489.9 151.8h1v1h-1zM471.5 139.9h1v1h-1zM474.4 147.2h1v1h-1zM484.3 148.5h1v1h-1zM473.9 148.5h1v1h-1zM469.3 142.9h1v1h-1zM474.3 142.4h1v1h-1zM477.0 154.3h1v1h-1zM470.9 153.7h1v1h-1zM480.3 150.5h1v1h-1zM483.7 139.8h1v1h-1zM483.9 135.4h1v1h-1zM477.3 144.6h1v1h-1zM488.9 156.0h1v1h-1zM479.5 149.5h1v1h-1zM476.3 151.4h1v1h-1zM474.6 150.0h1v1h-1zM476.5 135.3h1v1h-1zM477.5 135.1h1v1h-1zM471.6 151.5h1v1h-1zM472.5 158.1h1v1h-1zM479.3 143.6h1v1h-1zM482.1 140.9h1v1h-1zM481.3 146.9h1v1h-1zM478.6 136.6h1v1h-1zM478.4 141.3h1v1h-1zM484.7 155.1h1v1h-1zM484.3 151.4h1v1h-1zM479.0 148.5h1v1h-1zM467.1 169.7h1v1h-1zM480.4 173.4h1v1h-1zM471.5 159.8h1v1h-1zM471.4 170.5h1v1h-1zM481.5 176.2h1v1h-1zM486.3 166.2h1v1h-1zM467.9 172.2h1v1h-1zM482.2 170.8h1v1h-1zM483.9 163.5h1v1h-1zM471.2 173.5h1v1h-1zM477.4 164.5h1v1h-1zM471.0 164.2h1v1h-1zM473.4 169.3h1v1h-1zM477.3 183.3h1v1h-1zM468.4 171.8h1v1h-1zM475.1 170.2h1v1h-1zM483.2 165.2h1v1h-1zM479.8 166.9h1v1h-1zM480.9 163.1h1v1h-1zM483.5 166.3h1v1h-1zM471.5 160.9h1v1h-1zM475.5 169.1h1v1h-1zM490.1 170.5h1v1h-1zM480.0 169.4h1v1h-1zM471.1 173.1h1v1h-1zM478.1 165.5h1v1h-1zM477.2 173.1h1v1h-1zM480.2 174.6h1v1h-1zM467.4 166.3h1v1h-1zM467.0 174.3h1v1h-1zM478.0 167.9h1v1h-1zM476.4 170.0h1v1h-1zM469.3 171.4h1v1h-1zM480.0 172.3h1v1h-1zM481.3 155.3h1v1h-1zM479.5 174.9h1v1h-1zM474.1 161.6h1v1h-1zM481.4 165.7h1v1h-1zM476.1 173.7h1v1h-1zM474.8 154.5h1v1h-1zM479.7 166.7h1v1h-1zM472.4 165.3h1v1h-1zM480.0 163.4h1v1h-1zM468.7 161.6h1v1h-1zM472.7 159.6h1v1h-1zM471.7 175.7h1v1h-1zM480.9 167.2h1v1h-1zM465.0 163.8h1v1h-1zM471.7 171.9h1v1h-1zM474.8 159.0h1v1h-1zM476.9 167.7h1v1h-1zM473.1 172.0h1v1h-1zM481.0 171.7h1v1h-1zM480.8 166.9h1v1h-1zM483.2 177.2h1v1h-1zM475.7 180.1h1v1h-1zM479.2 165.5h1v1h-1zM478.8 160.6h1v1h-1zM473.8 167.2h1v1h-1zM471.3 169.4h1v1h-1zM479.2 160.1h1v1h-1zM464.9 158.8h1v1h-1zM472.4 174.3h1v1h-1zM480.3 154.0h1v1h-1zM482.5 169.5h1v1h-1zM483.8 172.7h1v1h-1zM475.2 170.7h1v1h-1zM473.1 164.4h1v1h-1zM483.6 180.5h1v1h-1zM473.5 163.7h1v1h-1zM477.1 164.2h1v1h-1zM482.7 171.4h1v1h-1zM480.5 163.2h1v1h-1zM473.6 157.8h1v1h-1zM476.0 173.9h1v1h-1zM482.0 158.2h1v1h-1zM486.1 169.2h1v1h-1zM477.7 183.3h1v1h-1zM474.4 150.2h1v1h-1zM472.7 172.7h1v1h-1zM471.2 174.7h1v1h-1zM472.0 160.6h1v1h-1zM467.4 166.3h1v1h-1zM472.4 163.5h1v1h-1zM477.0 162.8h1v1h-1zM484.3 170.7h1v1h-1zM470.6 161.4h1v1h-1zM482.8 174.2h1v1h-1zM476.5 164.7h1v1h-1zM476.6 176.2h1v1h-1zM476.2 164.7h1v1h-1zM480.3 164.0h1v1h-1zM480.6 169.9h1v1h-1zM475.8 165.7h1v1h-1zM478.8 172.5h1v1h-1zM470.3 165.8h1v1h-1zM470.5 165.3h1v1h-1zM474.4 162.4h1v1h-1zM478.0 159.2h1v1h-1zM483.2 165.9h1v1h-1zM463.6 173.6h1v1h-1zM468.1 173.3h1v1h-1zM482.1 167.8h1v1h-1zM481.5 173.8h1v1h-1zM486.2 170.7h1v1h-1zM478.6 174.4h1v1h-1zM480.5 165.3h1v1h-1zM488.7 176.2h1v1h-1zM487.4 166.9h1v1h-1zM478.6 160.9h1v1h-1zM467.0 168.0h1v1h-1zM474.7 165.8h1v1h-1zM477.7 160.6h1v1h-1zM490.7 160.7h1v1h-1zM472.3 165.4h1v1h-1zM472.8 170.3h1v1h-1zM471.5 175.4h1v1h-1zM472.9 157.7h1v1h-1zM479.2 163.8h1v1h-1zM478.4 163.4h1v1h-1zM479.8 169.3h1v1h-1zM479.6 173.6h1v1h-1zM474.3 177.0h1v1h-1zM470.1 178.5h1v1h-1zM467.3 171.0h1v1h-1zM458.9 168.5h1v1h-1zM473.0 166.3h1v1h-1zM465.9 175.5h1v1h-1zM462.7 167.2h1v1h-1zM479.2 162.5h1v1h-1zM471.0 174.3h1v1h-1zM466.3 165.8h1v1h-1zM476.6 160.5h1v1h-1zM481.8 176.3h1v1h-1zM483.9 177.7h1v1h-1zM478.3 178.0h1v1h-1zM478.0 171.8h1v1h-1zM470.6 164.8h1v1h-1zM478.5 164.1h1v1h-1zM479.5 175.2h1v1h-1zM480.6 173.8h1v1h-1zM483.4 181.1h1v1h-1zM473.2 164.9h1v1h-1zM474.4 174.0h1v1h-1zM471.7 164.0h1v1h-1zM475.4 172.7h1v1h-1zM486.6 173.9h1v1h-1zM465.5 177.2h1v1h-1zM470.3 180.4h1v1h-1zM482.3 170.7h1v1h-1zM476.7 155.4h1v1h-1zM479.8 176.9h1v1h-1zM479.4 171.4h1v1h-1zM478.6 167.6h1v1h-1zM475.2 168.2h1v1h-1zM477.3 177.5h1v1h-1zM472.9 166.6h1v1h-1zM482.3 158.4h1v1h-1zM478.0 170.5h1v1h-1zM461.0 172.5h1v1h-1zM465.3 159.0h1v1h-1zM478.2 168.8h1v1h-1zM482.6 174.6h1v1h-1zM469.3 176.1h1v1h-1zM482.3 177.9h1v1h-1zM470.2 165.4h1v1h-1zM475.0 173.5h1v1h-1zM476.2 169.5h1v1h-1zM474.8 185.0h1v1h-1zM476.1 168.0h1v1h-1zM480.9 167.4h1v1h-1zM469.8 175.9h1v1h-1zM479.8 174.1h1v1h-1zM473.6 162.4h1v1h-1zM474.1 161.8h1v1h-1zM471.2 161.2h1v1h-1zM471.0 179.5h1v1h-1zM474.0 173.2h1v1h-1zM478.0 168.5h1v1h-1zM486.7 166.5h1v1h-1zM467.3 156.8h1v1h-1zM475.4 168.4h1v1h-1zM472.1 185.0h1v1h-1zM483.5 161.3h1v1h-1zM491.8 168.5h1v1h-1zM484.6 165.8h1v1h-1zM477.7 169.3h1v1h-1zM464.3 155.7h1v1h-1zM478.5 169.1h1v1h-1zM478.0 167.3h1v1h-1zM475.0 171.2h1v1h-1zM475.6 159.1h1v1h-1zM474.7 163.8h1v1h-1zM486.9 168.4h1v1h-1zM464.6 169.7h1v1h-1zM474.2 171.5h1v1h-1zM476.8 169.5h1v1h-1zM477.6 165.2h1v1h-1zM476.4 157.0h1v1h-1zM474.2 162.6h1v1h-1zM483.3 167.9h1v1h-1zM482.6 176.6h1v1h-1zM468.1 160.6h1v1h-1zM472.3 173.9h1v1h-1zM476.8 164.6h1v1h-1zM489.4 159.1h1v1h-1zM470.9 168.0h1v1h-1zM462.5 170.0h1v1h-1zM474.0 177.2h1v1h-1zM483.3 163.6h1v1h-1zM478.0 162.0h1v1h-1zM481.8 167.4h1v1h-1zM480.8 170.3h1v1h-1zM483.2 163.3h1v1h-1zM467.5 174.0h1v1h-1zM476.1 173.9h1v1h-1zM478.3 163.8h1v1h-1zM476.2 175.4h1v1h-1zM482.1 175.5h1v1h-1zM486.2 182.8h1v1h-1zM476.5 177.9h1v1h-1zM478.3 180.1h1v1h-1zM477.4 170.1h1v1h-1zM479.4 173.9h1v1h-1zM473.4 170.6h1v1h-1zM474.6 178.7h1v1h-1zM478.1 182.1h1v1h-1zM481.3 184.2h1v1h-1zM480.0 182.9h1v1h-1zM484.7 184.1h1v1h-1zM481.9 179.2h1v1h-1zM486.1 172.9h1v1h-1zM478.4 175.1h1v1h-1zM477.9 176.8h1v1h-1zM483.2 182.8h1v1h-1zM485.2 177.4h1v1h-1zM479.3 177.2h1v1h-1zM478.6 178.5h1v1h-1zM476.4 179.9h1v1h-1zM488.9 182.3h1v1h-1zM485.3 176.8h1v1h-1zM481.5 183.9h1v1h-1zM479.4 183.4h1v1h-1zM479.3 171.2h1v1h-1zM472.6 181.9h1v1h-1zM490.4 180.5h1v1h-1zM480.9 178.4h1v1h-1zM480.5 182.7h1v1h-1zM485.2 175.3h1v1h-1zM474.4 174.4h1v1h-1zM480.4 178.0h1v1h-1zM475.7 181.2h1v1h-1zM480.8 184.0h1v1h-1zM481.8 174.5h1v1h-1zM478.2 173.8h1v1h-1zM479.4 181.6h1v1h-1zM472.0 184.1h1v1h-1zM480.2 176.9h1v1h-1zM487.1 180.3h1v1h-1zM477.9 173.5h1v1h-1zM481.0 172.2h1v1h-1zM487.5 172.1h1v1h-1zM473.7 175.3h1v1h-1zM479.0 182.6h1v1h-1zM489.2 175.2h1v1h-1zM482.9 177.5h1v1h-1zM475.4 178.0h1v1h-1zM484.9 185.3h1v1h-1zM479.6 183.6h1v1h-1zM481.7 179.4h1v1h-1zM488.3 174.5h1v1h-1zM476.8 183.4h1v1h-1zM473.7 180.2h1v1h-1zM487.8 183.3h1v1h-1zM479.3 170.1h1v1h-1zM478.3 180.6h1v1h-1zM480.9 176.9h1v1h-1zM482.2 178.8h1v1h-1zM485.1 178.5h1v1h-1zM481.1 176.1h1v1h-1zM475.2 175.9h1v1h-1zM490.0 173.7h1v1h-1zM493.0 177.2h1v1h-1zM483.0 174.6h1v1h-1zM471.0 170.6h1v1h-1zM486.3 182.3h1v1h-1zM480.8 176.0h1v1h-1zM477.1 185.0h1v1h-1zM475.3 180.9h1v1h-1zM478.4 175.7h1v1h-1zM480.6 183.4h1v1h-1zM480.3 175.0h1v1h-1zM479.5 173.8h1v1h-1zM467.7 179.8h1v1h-1zM486.6 178.8h1v1h-1zM477.9 185.0h1v1h-1zM482.3 183.8h1v1h-1zM474.6 176.2h1v1h-1zM478.7 178.0h1v1h-1zM480.6 178.8h1v1h-1zM482.2 173.0h1v1h-1zM480.9 170.5h1v1h-1zM484.5 173.8h1v1h-1zM488.1 180.8h1v1h-1zM469.2 182.0h1v1h-1zM475.7 180.5h1v1h-1zM472.3 183.7h1v1h-1zM483.5 175.5h1v1h-1zM481.1 165.5h1v1h-1zM477.0 178.6h1v1h-1zM479.9 179.2h1v1h-1zM479.9 179.7h1v1h-1zM487.6 183.7h1v1h-1zM477.3 178.4h1v1h-1zM475.9 179.2h1v1h-1zM481.5 177.7h1v1h-1zM479.1 179.7h1v1h-1zM474.2 179.0h1v1h-1zM479.1 178.7h1v1h-1zM476.9 183.3h1v1h-1zM429.3 180.6h1v1h-1zM443.5 167.8h1v1h-1zM457.0 172.2h1v1h-1zM442.0 173.5h1v1h-1zM452.8 182.9h1v1h-1zM427.8 184.3h1v1h-1zM441.6 177.2h1v1h-1zM430.7 180.8h1v1h-1zM440.6 180.5h1v1h-1zM441.2 182.9h1v1h-1zM422.0 183.0h1v1h-1zM452.1 168.7h1v1h-1zM437.7 181.0h1v1h-1zM450.9 181.5h1v1h-1zM448.2 165.7h1v1h-1zM440.8 178.7h1v1h-1zM455.5 176.7h1v1h-1zM469.6 173.8h1v1h-1zM444.7 174.9h1v1h-1zM445.6 172.9h1v1h-1zM442.8 182.9h1v1h-1zM465.1 173.9h1v1h-1zM439.3 182.9h1v1h-1zM447.0 175.7h1v1h-1zM447.5 175.9h1v1h-1zM443.1 172.4h1v1h-1zM452.7 176.5h1v1h-1zM444.0 172.5h1v1h-1zM445.8 179.8h1v1h-1zM459.6 177.7h1v1h-1zM449.4 177.2h1v1h-1zM446.5 168.1h1v1h-1zM438.6 184.9h1v1h-1zM439.4 176.6h1v1h-1zM441.2 182.5h1v1h-1zM446.0 178.8h1v1h-1zM441.4 180.5h1v1h-1zM446.9 179.3h1v1h-1zM452.7 180.4h1v1h-1zM444.9 179.1h1v1h-1zM446.6 176.6h1v1h-1zM439.5 173.4h1v1h-1zM441.4 172.1h1v1h-1zM439.5 175.8h1v1h-1zM462.1 177.9h1v1h-1zM439.4 176.9h1v1h-1zM429.9 179.7h1v1h-1zM451.5 175.3h1v1h-1zM446.5 169.2h1v1h-1zM441.5 175.4h1v1h-1zM431.4 174.7h1v1h-1zM443.6 176.2h1v1h-1zM460.1 169.9h1v1h-1zM458.0 175.6h1v1h-1zM442.6 179.8h1v1h-1zM452.0 179.1h1v1h-1zM444.8 182.6h1v1h-1zM454.7 179.5h1v1h-1zM447.7 175.1h1v1h-1zM445.1 178.2h1v1h-1zM445.0 184.5h1v1h-1zM428.6 174.9h1v1h-1zM439.4 175.3h1v1h-1zM439.1 173.9h1v1h-1zM439.9 180.9h1v1h-1zM453.4 178.1h1v1h-1zM437.6 172.1h1v1h-1zM448.1 178.4h1v1h-1zM450.4 180.7h1v1h-1zM444.2 184.8h1v1h-1zM440.1 171.6h1v1h-1zM449.2 179.1h1v1h-1zM441.0 176.7h1v1h-1zM445.6 177.1h1v1h-1zM451.4 183.0h1v1h-1zM439.3 174.8h1v1h-1zM468.0 172.7h1v1h-1zM441.6 175.1h1v1h-1zM436.7 176.8h1v1h-1zM445.9 178.6h1v1h-1zM446.3 175.5h1v1h-1zM447.5 176.3h1v1h-1zM444.5 176.9h1v1h-1zM453.0 172.0h1v1h-1zM451.9 174.0h1v1h-1zM431.9 174.7h1v1h-1zM446.9 183.8h1v1h-1zM440.6 183.2h1v1h-1zM455.2 177.4h1v1h-1zM435.3 174.8h1v1h-1zM460.8 172.4h1v1h-1zM448.4 179.8h1v1h-1zM449.6 171.0h1v1h-1zM444.8 174.8h1v1h-1zM445.8 178.3h1v1h-1zM451.6 181.6h1v1h-1zM457.1 179.0h1v1h-1zM436.8 166.8h1v1h-1zM443.4 172.4h1v1h-1zM457.2 175.1h1v1h-1zM452.1 176.8h1v1h-1zM444.2 181.2h1v1h-1zM433.5 183.8h1v1h-1zM445.1 179.9h1v1h-1zM454.6 181.5h1v1h-1zM446.5 182.9h1v1h-1zM430.5 185.3h1v1h-1zM453.3 179.6h1v1h-1zM452.0 179.6h1v1h-1zM451.3 174.7h1v1h-1zM431.9 183.0h1v1h-1zM448.7 176.8h1v1h-1zM442.9 184.1h1v1h-1zM452.1 179.8h1v1h-1zM438.9 172.7h1v1h-1zM441.8 179.7h1v1h-1zM437.7 180.1h1v1h-1zM471.3 175.5h1v1h-1zM446.2 176.9h1v1h-1zM449.5 180.1h1v1h-1zM447.5 171.7h1v1h-1zM469.7 178.4h1v1h-1zM448.2 175.2h1v1h-1zM454.5 181.5h1v1h-1zM455.6 174.7h1v1h-1zM449.8 182.7h1v1h-1zM442.4 172.2h1v1h-1zM445.5 179.2h1v1h-1zM458.5 168.8h1v1h-1zM449.9 180.7h1v1h-1zM454.1 178.7h1v1h-1zM449.9 182.9h1v1h-1zM456.2 175.5h1v1h-1zM445.1 176.8h1v1h-1zM426.5 173.6h1v1h-1zM447.9 175.5h1v1h-1zM439.4 178.9h1v1h-1zM461.3 167.1h1v1h-1zM455.4 176.5h1v1h-1zM447.2 182.4h1v1h-1zM460.3 176.5h1v1h-1zM456.6 177.4h1v1h-1zM445.7 175.7h1v1h-1zM440.5 178.7h1v1h-1zM441.4 180.5h1v1h-1zM450.2 184.3h1v1h-1zM433.8 175.9h1v1h-1zM456.5 169.8h1v1h-1zM443.5 178.6h1v1h-1zM461.2 163.3h1v1h-1zM463.4 156.4h1v1h-1zM472.9 158.8h1v1h-1zM465.5 160.4h1v1h-1zM472.3 162.0h1v1h-1zM463.9 155.8h1v1h-1zM473.4 154.1h1v1h-1zM470.7 157.8h1v1h-1zM467.9 158.8h1v1h-1zM465.1 162.0h1v1h-1zM459.2 160.0h1v1h-1zM467.1 155.1h1v1h-1zM471.4 150.8h1v1h-1zM465.9 169.9h1v1h-1zM466.9 161.6h1v1h-1zM466.9 163.0h1v1h-1zM467.9 162.1h1v1h-1zM467.1 163.6h1v1h-1zM465.2 156.1h1v1h-1zM465.8 160.6h1v1h-1zM466.8 164.9h1v1h-1zM465.2 156.3h1v1h-1zM458.2 153.5h1v1h-1zM476.0 166.3h1v1h-1zM460.6 167.1h1v1h-1zM465.0 164.0h1v1h-1zM470.3 158.3h1v1h-1zM459.3 166.0h1v1h-1zM463.3 151.8h1v1h-1zM468.7 164.4h1v1h-1zM467.8 162.8h1v1h-1zM464.3 159.7h1v1h-1zM459.4 151.4h1v1h-1zM463.0 156.6h1v1h-1zM460.4 165.7h1v1h-1zM467.0 160.4h1v1h-1zM472.5 156.5h1v1h-1zM475.2 156.6h1v1h-1zM473.4 160.3h1v1h-1zM467.8 164.7h1v1h-1zM465.5 166.1h1v1h-1zM468.6 167.3h1v1h-1zM467.1 165.2h1v1h-1zM472.0 165.3h1v1h-1zM466.5 169.1h1v1h-1zM469.6 162.9h1v1h-1zM463.2 166.8h1v1h-1zM469.6 167.0h1v1h-1zM461.8 161.5h1v1h-1zM471.7 154.9h1v1h-1zM474.8 163.8h1v1h-1zM470.6 164.9h1v1h-1zM465.3 172.8h1v1h-1zM474.0 154.8h1v1h-1zM463.4 169.3h1v1h-1zM473.0 165.3h1v1h-1zM469.1 161.7h1v1h-1zM471.0 158.1h1v1h-1zM466.2 160.4h1v1h-1zM461.1 153.0h1v1h-1zM437.1 153.5h1v1h-1zM441.9 160.2h1v1h-1zM436.0 148.9h1v1h-1zM449.7 145.1h1v1h-1zM449.0 148.9h1v1h-1zM441.3 149.7h1v1h-1zM449.4 154.4h1v1h-1zM432.9 164.3h1v1h-1zM446.2 130.7h1v1h-1zM437.3 163.2h1v1h-1zM439.9 159.8h1v1h-1zM422.6 168.1h1v1h-1zM443.7 161.7h1v1h-1zM425.9 153.5h1v1h-1zM454.3 169.6h1v1h-1zM439.2 167.2h1v1h-1zM436.2 158.0h1v1h-1zM428.2 169.0h1v1h-1zM433.0 161.9h1v1h-1zM439.1 152.4h1v1h-1zM440.9 153.9h1v1h-1zM453.3 151.4h1v1h-1zM433.9 156.2h1v1h-1zM432.7 166.3h1v1h-1zM434.1 139.8h1v1h-1z" fill="#b83838" fill-opacity="0.5"/>
<path d="M456.6 167.2h1v1h-1zM465.7 165.0h1v1h-1zM458.4 174.8h1v1h-1zM455.6 177.5h1v1h-1zM451.0 174.0h1v1h-1zM463.9 173.1h1v1h-1zM457.9 165.5h1v1h-1zM458.8 173.8h1v1h-1zM456.3 164.2h1v1h-1zM455.8 173.0h1v1h-1zM454.2 175.4h1v1h-1zM449.6 175.5h1v1h-1zM458.2 175.1h1v1h-1zM459.7 169.6h1v1h-1zM461.4 173.0h1v1h-1zM457.5 173.6h1v1h-1zM457.5 173.1h1v1h-1zM461.1 164.4h1v1h-1zM452.4 178.7h1v1h-1zM448.1 174.8h1v1h-1zM454.7 178.5h1v1h-1zM452.8 171.5h1v1h-1zM454.0 173.2h1v1h-1zM456.5 173.6h1v1h-1zM452.3 175.5h1v1h-1zM454.4 171.9h1v1h-1zM454.4 167.6h1v1h-1zM452.5 176.2h1v1h-1zM458.0 170.4h1v1h-1zM459.8 176.5h1v1h-1zM463.1 171.9h1v1h-1zM458.2 167.7h1v1h-1zM465.4 172.3h1v1h-1zM453.4 179.3h1v1h-1zM460.5 174.8h1v1h-1zM463.9 167.9h1v1h-1zM467.0 161.3h1v1h-1zM454.2 175.1h1v1h-1zM457.1 174.6h1v1h-1zM459.5 170.7h1v1h-1zM459.7 167.6h1v1h-1zM459.5 171.8h1v1h-1zM455.5 169.2h1v1h-1zM454.9 178.9h1v1h-1zM448.0 174.8h1v1h-1zM457.9 167.3h1v1h-1zM458.3 173.4h1v1h-1zM461.0 169.6h1v1h-1zM444.8 180.5h1v1h-1zM467.2 168.7h1v1h-1zM443.6 176.7h1v1h-1zM449.7 178.4h1v1h-1zM451.8 173.3h1v1h-1zM455.0 171.1h1v1h-1zM464.1 170.9h1v1h-1zM453.4 179.1h1v1h-1zM466.4 162.3h1v1h-1zM450.8 181.3h1v1h-1zM466.3 166.6h1v1h-1zM453.2 179.2h1v1h-1zM449.8 175.5h1v1h-1zM446.8 172.0h1v1h-1zM459.7 173.6h1v1h-1zM453.0 170.3h1v1h-1zM450.5 175.6h1v1h-1zM447.6 176.8h1v1h-1zM455.7 174.4h1v1h-1zM455.1 176.7h1v1h-1zM459.4 173.9h1v1h-1zM463.6 165.9h1v1h-1zM451.7 175.1h1v1h-1zM453.2 166.8h1v1h-1zM452.0 176.4h1v1h-1zM453.2 174.5h1v1h-1zM462.3 176.6h1v1h-1zM466.8 170.1h1v1h-1zM455.9 174.8h1v1h-1zM457.6 171.1h1v1h-1zM446.3 173.5h1v1h-1zM445.5 176.5h1v1h-1zM453.9 177.7h1v1h-1zM453.1 176.2h1v1h-1zM447.6 182.1h1v1h-1zM448.7 177.6h1v1h-1zM452.2 177.3h1v1h-1zM461.9 170.9h1v1h-1zM465.0 169.8h1v1h-1zM455.8 175.2h1v1h-1zM461.9 167.3h1v1h-1zM453.8 176.7h1v1h-1zM458.8 169.1h1v1h-1zM459.4 171.0h1v1h-1zM456.4 167.6h1v1h-1zM458.6 170.1h1v1h-1zM454.9 174.2h1v1h-1zM450.5 180.0h1v1h-1zM450.0 174.4h1v1h-1zM455.1 174.6h1v1h-1zM460.0 172.1h1v1h-1zM456.2 167.8h1v1h-1zM452.3 174.2h1v1h-1zM450.6 174.1h1v1h-1zM456.3 172.6h1v1h-1zM455.9 176.5h1v1h-1zM452.2 173.5h1v1h-1zM458.0 170.7h1v1h-1zM455.8 167.9h1v1h-1zM458.7 171.1h1v1h-1zM450.8 183.8h1v1h-1zM458.9 176.0h1v1h-1zM453.8 174.4h1v1h-1zM455.4 169.3h1v1h-1zM449.6 173.6h1v1h-1zM455.2 171.6h1v1h-1zM461.1 171.0h1v1h-1zM444.8 176.4h1v1h-1zM451.2 184.8h1v1h-1zM447.9 182.5h1v1h-1zM451.2 174.3h1v1h-1zM457.5 174.1h1v1h-1zM457.1 175.8h1v1h-1zM454.7 174.8h1v1h-1zM442.4 177.0h1v1h-1zM460.5 180.3h1v1h-1zM450.0 177.9h1v1h-1zM458.7 175.7h1v1h-1zM464.8 169.3h1v1h-1zM459.9 177.9h1v1h-1zM461.8 168.5h1v1h-1zM460.0 176.6h1v1h-1zM446.7 178.2h1v1h-1zM452.9 173.3h1v1h-1zM449.3 171.2h1v1h-1zM452.3 176.1h1v1h-1zM454.5 175.3h1v1h-1zM451.3 172.8h1v1h-1zM456.3 177.2h1v1h-1zM452.2 172.0h1v1h-1zM461.5 171.7h1v1h-1zM453.0 175.1h1v1h-1zM462.6 164.9h1v1h-1zM469.2 168.1h1v1h-1zM457.2 170.5h1v1h-1zM449.0 176.1h1v1h-1zM450.6 169.8h1v1h-1zM457.2 173.8h1v1h-1zM451.6 169.8h1v1h-1zM460.9 166.7h1v1h-1zM455.2 174.6h1v1h-1zM452.2 171.9h1v1h-1zM453.3 175.8h1v1h-1zM464.6 168.2h1v1h-1zM440.5 180.3h1v1h-1zM454.1 174.1h1v1h-1zM457.7 175.6h1v1h-1zM465.1 173.0h1v1h-1zM456.6 169.4h1v1h-1zM448.8 179.2h1v1h-1zM456.2 172.2h1v1h-1zM455.9 172.8h1v1h-1zM458.4 166.9h1v1h-1zM452.0 177.2h1v1h-1zM459.9 177.4h1v1h-1zM453.1 176.8h1v1h-1zM457.5 177.2h1v1h-1zM465.0 168.4h1v1h-1zM449.0 176.5h1v1h-1zM451.5 169.1h1v1h-1zM450.7 178.7h1v1h-1zM469.0 165.8h1v1h-1zM459.0 175.1h1v1h-1zM458.1 172.8h1v1h-1zM462.0 167.5h1v1h-1zM463.0 174.0h1v1h-1zM456.8 166.8h1v1h-1zM447.0 174.1h1v1h-1zM453.3 172.8h1v1h-1zM454.0 173.7h1v1h-1zM456.0 177.7h1v1h-1zM453.4 169.3h1v1h-1zM453.5 174.4h1v1h-1zM442.5 176.7h1v1h-1zM452.6 175.9h1v1h-1zM449.1 176.7h1v1h-1zM457.2 174.7h1v1h-1zM451.6 178.4h1v1h-1zM454.5 177.8h1v1h-1zM457.4 173.5h1v1h-1zM458.5 173.0h1v1h-1zM460.6 172.5h1v1h-1zM450.6 180.3h1v1h-1zM453.4 171.1h1v1h-1zM457.6 174.1h1v1h-1zM458.6 181.8h1v1h-1zM448.9 174.4h1v1h-1zM452.7 168.6h1v1h-1zM466.4 169.9h1v1h-1zM445.7 185.3h1v1h-1zM441.4 173.9h1v1h-1zM448.2 179.1h1v1h-1zM457.1 175.3h1v1h-1zM460.2 167.8h1v1h-1zM454.1 171.4h1v1h-1zM450.9 171.4h1v1h-1zM444.2 175.4h1v1h-1zM455.7 174.8h1v1h-1zM462.3 169.9h1v1h-1zM459.7 175.1h1v1h-1zM457.6 173.2h1v1h-1zM451.9 180.2h1v1h-1zM461.7 169.6h1v1h-1zM461.8 171.6h1v1h-1zM449.1 180.0h1v1h-1zM448.8 177.5h1v1h-1zM458.6 175.1h1v1h-1zM446.7 177.9h1v1h-1zM459.0 176.6h1v1h-1zM455.2 167.7h1v1h-1zM451.6 173.3h1v1h-1zM461.9 170.0h1v1h-1zM448.4 180.1h1v1h-1zM453.7 174.0h1v1h-1zM454.0 179.3h1v1h-1zM450.7 173.1h1v1h-1zM460.2 169.4h1v1h-1zM447.3 181.2h1v1h-1zM448.6 175.1h1v1h-1zM455.5 167.4h1v1h-1zM447.9 175.0h1v1h-1zM458.4 180.7h1v1h-1zM462.1 165.3h1v1h-1zM446.9 174.3h1v1h-1zM457.2 175.0h1v1h-1zM450.0 172.8h1v1h-1zM452.1 181.6h1v1h-1zM453.8 170.1h1v1h-1zM457.0 174.5h1v1h-1zM454.6 172.2h1v1h-1zM456.1 170.5h1v1h-1zM459.0 168.7h1v1h-1zM451.5 180.0h1v1h-1zM452.9 175.0h1v1h-1zM453.1 169.1h1v1h-1zM456.6 175.8h1v1h-1zM462.8 165.5h1v1h-1zM462.4 170.6h1v1h-1zM473.3 157.5h1v1h-1zM465.6 174.2h1v1h-1zM450.2 177.9h1v1h-1zM453.4 171.7h1v1h-1zM448.3 174.1h1v1h-1zM446.2 184.3h1v1h-1zM448.2 183.8h1v1h-1zM455.0 176.4h1v1h-1zM456.1 174.8h1v1h-1zM448.4 173.8h1v1h-1zM453.6 174.8h1v1h-1zM464.4 171.7h1v1h-1zM445.9 168.4h1v1h-1zM456.4 172.6h1v1h-1zM469.9 147.5h1v1h-1zM470.0 152.7h1v1h-1zM474.5 148.9h1v1h-1zM480.3 155.9h1v1h-1zM475.8 146.8h1v1h-1zM477.1 158.4h1v1h-1zM478.7 152.8h1v1h-1zM475.1 153.1h1v1h-1zM474.2 155.0h1v1h-1zM477.3 148.4h1v1h-1zM479.0 154.3h1v1h-1zM472.7 152.3h1v1h-1zM473.8 151.3h1v1h-1zM478.1 156.2h1v1h-1zM480.1 152.0h1v1h-1zM477.2 160.2h1v1h-1zM476.7 153.1h1v1h-1zM478.5 155.8h1v1h-1zM474.7 154.5h1v1h-1zM473.9 156.9h1v1h-1zM481.6 156.6h1v1h-1zM480.4 149.5h1v1h-1zM476.2 156.9h1v1h-1zM476.6 154.3h1v1h-1zM479.7 158.4h1v1h-1zM476.6 152.2h1v1h-1zM475.5 159.2h1v1h-1zM479.7 158.1h1v1h-1zM475.2 152.6h1v1h-1zM474.0 151.8h1v1h-1zM474.9 157.9h1v1h-1zM472.1 156.8h1v1h-1zM476.5 153.6h1v1h-1zM476.0 160.6h1v1h-1zM478.7 157.3h1v1h-1zM477.1 157.1h1v1h-1zM477.8 154.4h1v1h-1zM476.9 151.8h1v1h-1zM475.8 151.0h1v1h-1zM476.6 143.4h1v1h-1zM477.2 153.9h1v1h-1zM475.5 155.2h1v1h-1zM484.1 146.4h1v1h-1zM478.2 155.5h1v1h-1zM476.3 154.2h1v1h-1zM478.6 150.0h1v1h-1zM481.3 147.7h1v1h-1zM473.9 150.8h1v1h-1zM476.4 161.6h1v1h-1zM474.2 158.7h1v1h-1zM477.9 152.4h1v1h-1zM475.2 158.0h1v1h-1zM480.1 162.0h1v1h-1zM472.8 145.0h1v1h-1zM480.5 160.2h1v1h-1zM481.1 148.8h1v1h-1zM476.9 156.9h1v1h-1zM475.9 156.6h1v1h-1zM478.1 153.2h1v1h-1zM485.6 159.2h1v1h-1zM474.4 154.3h1v1h-1zM469.9 154.7h1v1h-1zM473.9 153.1h1v1h-1zM480.2 145.2h1v1h-1zM476.6 155.0h1v1h-1zM475.5 154.0h1v1h-1zM472.5 148.9h1v1h-1zM476.3 155.5h1v1h-1zM477.8 150.8h1v1h-1zM471.0 157.4h1v1h-1zM480.1 160.8h1v1h-1zM482.1 158.8h1v1h-1zM476.0 158.2h1v1h-1zM470.5 154.5h1v1h-1zM485.9 161.7h1v1h-1zM478.3 155.7h1v1h-1zM478.5 142.8h1v1h-1zM477.8 151.1h1v1h-1zM473.9 155.8h1v1h-1zM469.4 157.9h1v1h-1zM474.5 155.3h1v1h-1zM480.9 157.8h1v1h-1zM478.6 159.1h1v1h-1zM476.4 145.3h1v1h-1zM470.2 153.1h1v1h-1zM477.8 152.6h1v1h-1zM472.6 148.8h1v1h-1zM475.5 147.7h1v1h-1zM480.9 157.9h1v1h-1zM479.5 154.9h1v1h-1zM473.8 156.5h1v1h-1zM469.6 151.8h1v1h-1zM476.8 157.3h1v1h-1zM474.5 149.0h1v1h-1zM478.7 153.4h1v1h-1zM477.7 145.0h1v1h-1zM481.5 156.8h1v1h-1zM475.0 154.9h1v1h-1zM472.8 154.3h1v1h-1zM478.9 154.3h1v1h-1zM472.1 155.1h1v1h-1zM472.7 157.2h1v1h-1zM478.0 156.1h1v1h-1zM480.0 157.8h1v1h-1zM476.2 153.7h1v1h-1zM473.2 151.1h1v1h-1zM470.8 150.9h1v1h-1zM467.7 157.3h1v1h-1zM477.3 145.8h1v1h-1zM473.2 158.0h1v1h-1zM479.0 147.2h1v1h-1zM472.8 144.8h1v1h-1zM479.1 142.9h1v1h-1zM480.3 145.4h1v1h-1zM482.4 144.6h1v1h-1zM484.4 140.1h1v1h-1zM477.3 148.1h1v1h-1zM472.0 146.4h1v1h-1zM481.6 145.0h1v1h-1zM481.7 146.1h1v1h-1zM481.7 148.0h1v1h-1zM473.8 146.1h1v1h-1zM482.7 144.7h1v1h-1zM479.6 146.9h1v1h-1zM475.4 140.9h1v1h-1zM479.6 149.0h1v1h-1zM482.3 144.7h1v1h-1zM472.3 147.7h1v1h-1zM488.5 144.3h1v1h-1zM483.8 144.9h1v1h-1zM486.0 147.2h1v1h-1zM482.5 146.9h1v1h-1zM476.4 150.0h1v1h-1zM482.3 146.6h1v1h-1zM475.3 141.5h1v1h-1zM486.9 150.6h1v1h-1zM479.7 145.3h1v1h-1zM480.0 149.6h1v1h-1zM473.5 149.8h1v1h-1zM481.3 144.6h1v1h-1zM482.1 144.7h1v1h-1zM476.3 141.8h1v1h-1zM476.6 146.8h1v1h-1zM473.2 141.2h1v1h-1zM476.6 150.7h1v1h-1zM475.8 148.0h1v1h-1zM478.3 147.7h1v1h-1zM478.3 145.6h1v1h-1zM481.9 146.1h1v1h-1zM483.0 144.7h1v1h-1zM478.2 138.0h1v1h-1zM473.9 144.8h1v1h-1zM481.9 144.7h1v1h-1zM484.2 148.5h1v1h-1zM478.9 142.5h1v1h-1zM480.8 146.6h1v1h-1zM475.6 147.8h1v1h-1zM483.6 147.5h1v1h-1zM482.5 143.2h1v1h-1zM475.6 144.6h1v1h-1zM478.3 142.8h1v1h-1zM474.9 144.5h1v1h-1zM478.9 146.6h1v1h-1zM479.7 144.4h1v1h-1zM482.4 145.9h1v1h-1zM479.3 145.9h1v1h-1zM479.3 148.1h1v1h-1zM480.0 147.6h1v1h-1zM477.0 147.7h1v1h-1zM478.0 148.5h1v1h-1zM477.0 145.1h1v1h-1zM481.3 148.8h1v1h-1zM479.4 146.5h1v1h-1zM473.0 149.4h1v1h-1zM478.0 146.7h1v1h-1zM480.0 149.8h1v1h-1zM479.0 146.6h1v1h-1zM475.3 142.1h1v1h-1zM475.1 144.5h1v1h-1zM476.6 146.7h1v1h-1zM477.3 146.4h1v1h-1zM479.7 147.2h1v1h-1zM477.1 144.9h1v1h-1zM474.2 144.8h1v1h-1zM478.6 141.0h1v1h-1zM481.2 148.7h1v1h-1zM477.3 148.9h1v1h-1zM483.4 148.6h1v1h-1zM483.6 140.3h1v1h-1zM475.3 144.0h1v1h-1zM459.5 144.6h1v1h-1zM462.6 144.6h1v1h-1zM456.1 145.1h1v1h-1zM473.9 146.8h1v1h-1zM467.8 144.6h1v1h-1zM462.1 144.9h1v1h-1zM460.2 145.4h1v1h-1zM452.8 147.0h1v1h-1zM468.5 144.3h1v1h-1zM464.5 148.8h1v1h-1zM464.7 145.3h1v1h-1zM468.2 145.1h1v1h-1zM457.0 145.7h1v1h-1zM449.0 144.9h1v1h-1zM475.7 145.0h1v1h-1zM459.7 144.3h1v1h-1zM466.8 147.8h1v1h-1zM454.4 144.2h1v1h-1zM466.4 146.4h1v1h-1zM473.1 146.3h1v1h-1zM465.3 145.2h1v1h-1zM454.6 146.4h1v1h-1zM459.1 146.6h1v1h-1zM452.3 146.4h1v1h-1zM461.4 143.6h1v1h-1zM468.2 146.7h1v1h-1zM466.6 146.5h1v1h-1zM460.1 145.7h1v1h-1zM464.1 144.8h1v1h-1zM462.7 145.1h1v1h-1zM454.5 142.6h1v1h-1zM457.5 146.7h1v1h-1zM464.8 143.4h1v1h-1zM473.7 146.9h1v1h-1zM462.5 145.9h1v1h-1zM463.3 147.2h1v1h-1zM455.5 144.1h1v1h-1zM466.5 144.6h1v1h-1zM453.5 145.3h1v1h-1zM464.8 142.8h1v1h-1zM465.8 144.0h1v1h-1zM462.5 146.1h1v1h-1zM458.8 148.0h1v1h-1zM458.4 144.0h1v1h-1zM470.8 146.5h1v1h-1zM467.9 144.7h1v1h-1zM464.3 145.6h1v1h-1zM468.3 146.3h1v1h-1zM460.2 145.2h1v1h-1zM462.8 145.4h1v1h-1zM472.5 162.1h1v1h-1zM473.6 174.2h1v1h-1zM475.5 168.0h1v1h-1zM477.3 177.9h1v1h-1zM471.8 168.9h1v1h-1zM471.5 171.6h1v1h-1zM471.4 175.5h1v1h-1zM469.4 177.6h1v1h-1zM475.2 166.8h1v1h-1zM479.2 173.5h1v1h-1zM480.0 168.5h1v1h-1zM468.2 177.4h1v1h-1zM471.0 166.3h1v1h-1zM473.1 162.7h1v1h-1zM475.3 180.1h1v1h-1zM480.0 151.7h1v1h-1zM472.9 180.9h1v1h-1zM468.7 167.6h1v1h-1zM480.0 168.2h1v1h-1zM479.3 176.5h1v1h-1zM474.3 160.9h1v1h-1zM472.5 174.9h1v1h-1zM468.0 176.6h1v1h-1zM472.2 157.7h1v1h-1zM466.7 157.6h1v1h-1zM472.9 168.7h1v1h-1zM473.5 170.3h1v1h-1zM476.0 167.2h1v1h-1zM479.0 166.4h1v1h-1zM469.6 171.3h1v1h-1zM473.6 173.5h1v1h-1zM475.1 173.7h1v1h-1zM480.4 173.3h1v1h-1zM470.2 175.2h1v1h-1zM478.0 167.3h1v1h-1zM478.5 179.5h1v1h-1zM473.1 166.2h1v1h-1zM481.8 162.7h1v1h-1zM469.2 172.2h1v1h-1zM476.6 171.2h1v1h-1zM472.5 166.5h1v1h-1zM474.5 170.8h1v1h-1zM476.3 158.8h1v1h-1zM484.3 164.2h1v1h-1zM466.4 171.7h1v1h-1zM482.5 175.6h1v1h-1zM468.4 176.1h1v1h-1zM465.5 169.1h1v1h-1zM475.9 169.9h1v1h-1zM473.6 181.0h1v1h-1zM478.5 156.5h1v1h-1zM471.8 160.8h1v1h-1zM476.3 168.0h1v1h-1zM466.1 161.6h1v1h-1zM470.7 173.6h1v1h-1zM468.1 171.8h1v1h-1zM466.5 163.1h1v1h-1zM473.0 181.0h1v1h-1zM484.8 170.1h1v1h-1zM471.5 170.4h1v1h-1zM478.4 179.8h1v1h-1zM472.4 164.9h1v1h-1zM479.9 163.7h1v1h-1zM480.3 156.8h1v1h-1zM474.7 172.1h1v1h-1zM467.8 169.4h1v1h-1zM468.4 163.6h1v1h-1zM478.5 163.3h1v1h-1zM475.6 165.9h1v1h-1zM467.7 180.9h1v1h-1zM467.0 161.6h1v1h-1zM470.4 169.0h1v1h-1zM468.2 167.3h1v1h-1zM474.1 181.8h1v1h-1zM485.1 174.6h1v1h-1zM476.2 170.6h1v1h-1zM469.9 165.5h1v1h-1zM476.3 177.6h1v1h-1zM471.3 177.5h1v1h-1zM470.1 177.9h1v1h-1zM475.9 168.0h1v1h-1zM462.7 165.1h1v1h-1zM470.6 163.6h1v1h-1zM488.2 169.3h1v1h-1zM469.1 161.3h1v1h-1zM474.8 176.9h1v1h-1zM477.2 185.1h1v1h-1zM469.8 168.1h1v1h-1zM471.0 160.5h1v1h-1zM482.9 172.7h1v1h-1zM474.2 166.6h1v1h-1zM470.9 169.3h1v1h-1zM468.1 170.7h1v1h-1zM480.9 178.3h1v1h-1zM479.6 174.2h1v1h-1zM473.8 161.1h1v1h-1zM479.1 163.8h1v1h-1zM473.7 184.2h1v1h-1zM472.4 162.8h1v1h-1zM469.3 166.0h1v1h-1zM478.1 163.4h1v1h-1zM471.7 163.4h1v1h-1zM473.1 171.2h1v1h-1zM477.8 179.6h1v1h-1zM480.2 160.9h1v1h-1zM465.4 181.5h1v1h-1zM474.9 171.5h1v1h-1zM477.2 179.2h1v1h-1zM476.7 165.6h1v1h-1zM463.6 163.9h1v1h-1zM476.5 171.2h1v1h-1zM470.4 167.9h1v1h-1zM478.7 168.7h1v1h-1zM481.7 167.9h1v1h-1zM473.2 172.8h1v1h-1zM477.7 153.3h1v1h-1zM470.7 167.6h1v1h-1zM477.9 176.2h1v1h-1zM477.7 168.0h1v1h-1zM473.4 166.8h1v1h-1zM474.8 174.1h1v1h-1zM468.2 168.1h1v1h-1zM471.7 168.4h1v1h-1zM460.9 173.5h1v1h-1zM476.4 176.3h1v1h-1zM473.9 174.7h1v1h-1zM462.0 166.3h1v1h-1zM469.6 159.2h1v1h-1zM471.3 177.6h1v1h-1zM481.2 164.6h1v1h-1zM473.0 160.4h1v1h-1zM475.8 162.9h1v1h-1zM475.2 161.3h1v1h-1zM466.7 166.5h1v1h-1zM474.8 161.2h1v1h-1zM480.9 171.5h1v1h-1zM477.6 176.8h1v1h-1zM467.0 171.9h1v1h-1zM468.6 163.8h1v1h-1zM476.8 163.6h1v1h-1zM484.3 165.0h1v1h-1zM467.7 169.7h1v1h-1zM474.3 160.8h1v1h-1zM483.2 172.8h1v1h-1zM476.0 165.6h1v1h-1zM478.0 167.4h1v1h-1zM469.2 167.4h1v1h-1zM469.1 180.8h1v1h-1zM463.4 173.4h1v1h-1zM477.4 166.3h1v1h-1zM484.5 174.3h1v1h-1zM467.1 154.8h1v1h-1zM481.0 170.6h1v1h-1zM474.6 173.6h1v1h-1zM476.8 160.3h1v1h-1zM467.5 161.8h1v1h-1zM476.9 166.0h1v1h-1zM476.7 164.4h1v1h-1zM482.0 182.0h1v1h-1zM477.2 169.8h1v1h-1zM476.7 160.7h1v1h-1zM472.5 173.7h1v1h-1zM482.1 173.9h1v1h-1zM483.7 173.9h1v1h-1zM478.3 174.7h1v1h-1zM466.9 164.6h1v1h-1zM469.6 171.3h1v1h-1zM470.2 174.2h1v1h-1zM484.4 174.3h1v1h-1zM472.4 166.1h1v1h-1zM479.1 175.9h1v1h-1zM476.9 170.0h1v1h-1zM474.7 168.3h1v1h-1zM472.5 165.3h1v1h-1zM476.9 163.3h1v1h-1zM482.3 162.9h1v1h-1zM476.3 155.4h1v1h-1zM467.3 168.4h1v1h-1zM473.7 158.8h1v1h-1zM478.2 168.3h1v1h-1zM479.4 172.2h1v1h-1zM466.7 181.7h1v1h-1zM477.2 169.5h1v1h-1zM480.0 164.8h1v1h-1zM475.6 163.2h1v1h-1zM470.7 163.9h1v1h-1zM474.0 180.2h1v1h-1zM471.6 161.3h1v1h-1zM475.1 171.7h1v1h-1zM471.4 176.1h1v1h-1zM498.4 180.2h1v1h-1zM468.8 179.5h1v1h-1zM469.7 176.2h1v1h-1zM473.0 165.3h1v1h-1zM475.3 175.6h1v1h-1zM466.8 170.4h1v1h-1zM465.3 172.9h1v1h-1zM474.5 164.2h1v1h-1zM486.7 184.1h1v1h-1zM475.7 181.1h1v1h-1zM480.4 177.7h1v1h-1zM475.6 175.5h1v1h-1zM478.0 172.2h1v1h-1zM483.3 180.2h1v1h-1zM476.7 171.4h1v1h-1zM479.2 181.7h1v1h-1zM480.7 174.0h1v1h-1zM469.9 172.5h1v1h-1zM481.0 174.7h1v1h-1zM478.7 174.4h1v1h-1zM479.6 180.6h1v1h-1zM480.2 179.9h1v1h-1zM479.6 179.9h1v1h-1zM479.9 173.9h1v1h-1zM477.8 180.0h1v1h-1zM483.3 175.2h1v1h-1zM482.1 184.0h1v1h-1zM482.2 175.5h1v1h-1zM482.2 178.0h1v1h-1zM479.9 183.5h1v1h-1zM475.6 174.4h1v1h-1zM479.9 173.9h1v1h-1zM483.0 178.6h1v1h-1zM481.2 176.8h1v1h-1zM483.2 178.4h1v1h-1zM481.8 181.6h1v1h-1zM484.5 182.0h1v1h-1zM478.8 179.5h1v1h-1zM480.9 184.3h1v1h-1zM483.4 175.6h1v1h-1zM480.8 184.5h1v1h-1zM474.0 175.0h1v1h-1zM482.8 180.1h1v1h-1zM481.8 174.5h1v1h-1zM473.9 182.4h1v1h-1zM477.7 178.7h1v1h-1zM480.9 183.2h1v1h-1zM475.7 172.3h1v1h-1zM480.3 178.0h1v1h-1zM476.4 179.2h1v1h-1zM481.0 177.7h1v1h-1zM478.1 171.7h1v1h-1zM476.0 180.4h1v1h-1zM481.8 173.2h1v1h-1zM474.8 176.7h1v1h-1zM479.8 179.1h1v1h-1zM473.8 177.9h1v1h-1zM478.7 169.8h1v1h-1zM486.3 178.9h1v1h-1zM483.8 182.8h1v1h-1zM481.1 182.3h1v1h-1zM479.3 181.0h1v1h-1zM477.0 177.3h1v1h-1zM475.9 174.4h1v1h-1zM481.0 180.3h1v1h-1zM477.8 176.6h1v1h-1zM474.9 175.2h1v1h-1zM474.7 171.5h1v1h-1zM481.1 177.4h1v1h-1zM483.8 180.1h1v1h-1zM492.5 174.7h1v1h-1zM476.9 184.4h1v1h-1zM487.2 177.8h1v1h-1zM473.3 179.2h1v1h-1zM479.8 171.1h1v1h-1zM482.1 173.9h1v1h-1zM476.3 184.8h1v1h-1zM480.3 174.3h1v1h-1zM479.7 182.0h1v1h-1zM479.3 184.5h1v1h-1zM477.5 177.5h1v1h-1zM478.8 179.7h1v1h-1zM482.7 177.7h1v1h-1zM477.3 178.5h1v1h-1zM482.4 177.3h1v1h-1zM475.9 179.9h1v1h-1zM485.0 176.5h1v1h-1zM485.6 177.2h1v1h-1zM480.1 179.4h1v1h-1zM478.0 182.8h1v1h-1zM473.7 174.4h1v1h-1zM484.9 171.4h1v1h-1zM474.8 185.2h1v1h-1zM478.7 181.4h1v1h-1zM477.7 180.6h1v1h-1zM482.1 176.7h1v1h-1zM480.5 179.1h1v1h-1zM481.5 179.9h1v1h-1zM484.1 178.9h1v1h-1zM476.4 177.6h1v1h-1zM478.4 178.3h1v1h-1zM479.1 175.3h1v1h-1zM480.0 178.4h1v1h-1zM483.4 175.4h1v1h-1zM477.0 183.5h1v1h-1zM473.4 184.1h1v1h-1zM484.9 179.8h1v1h-1zM484.2 180.0h1v1h-1zM474.4 180.5h1v1h-1zM486.9 175.0h1v1h-1zM481.2 180.9h1v1h-1zM479.0 175.3h1v1h-1zM484.3 181.5h1v1h-1zM480.9 176.4h1v1h-1zM480.1 178.0h1v1h-1zM482.8 171.8h1v1h-1zM481.6 181.9h1v1h-1z" fill="#cc1010" fill-opacity="0.7"/>
<path d="M437.9 182.6h1v1h-1zM441.5 179.6h1v1h-1zM434.0 184.9h1v1h-1zM443.3 178.9h1v1h-1zM425.3 185.2h1v1h-1zM443.0 184.1h1v1h-1zM445.6 182.2h1v1h-1zM428.9 181.7h1v1h-1zM445.6 181.9h1v1h-1zM433.6 183.4h1v1h-1zM432.0 184.5h1v1h-1zM437.9 181.2h1v1h-1zM442.7 180.1h1v1h-1zM439.7 179.5h1v1h-1zM445.1 183.3h1v1h-1zM445.4 182.9h1v1h-1zM437.9 184.5h1v1h-1zM438.3 184.1h1v1h-1zM430.4 183.2h1v1h-1zM434.3 183.9h1v1h-1zM427.6 181.2h1v1h-1zM434.8 180.0h1v1h-1zM440.5 181.0h1v1h-1zM439.7 181.8h1v1h-1zM442.8 180.4h1v1h-1zM427.2 185.0h1v1h-1zM438.7 180.2h1v1h-1zM424.3 184.6h1v1h-1zM431.7 182.7h1v1h-1zM424.9 185.0h1v1h-1zM427.2 182.0h1v1h-1zM446.4 181.2h1v1h-1zM443.9 178.7h1v1h-1zM443.8 180.8h1v1h-1zM434.8 181.9h1v1h-1zM448.6 182.7h1v1h-1zM428.4 185.1h1v1h-1zM441.5 183.4h1v1h-1zM445.5 181.4h1v1h-1zM439.4 184.2h1v1h-1zM432.8 185.6h1v1h-1zM434.7 183.6h1v1h-1zM437.6 182.9h1v1h-1zM436.2 181.8h1v1h-1zM424.9 185.1h1v1h-1zM442.1 184.3h1v1h-1zM430.2 183.0h1v1h-1zM423.0 184.6h1v1h-1zM440.1 185.3h1v1h-1zM443.6 180.2h1v1h-1zM444.7 181.1h1v1h-1zM443.9 180.4h1v1h-1zM447.4 184.8h1v1h-1zM433.6 182.5h1v1h-1zM447.9 183.7h1v1h-1zM444.1 178.5h1v1h-1zM435.2 180.5h1v1h-1zM435.3 182.5h1v1h-1zM435.7 179.5h1v1h-1zM429.8 183.6h1v1h-1zM435.9 182.4h1v1h-1zM445.6 180.0h1v1h-1zM435.4 185.7h1v1h-1zM436.8 182.6h1v1h-1zM441.3 185.1h1v1h-1zM442.3 185.3h1v1h-1zM448.0 183.5h1v1h-1zM437.8 180.4h1v1h-1zM440.4 181.8h1v1h-1zM441.6 183.2h1v1h-1zM428.5 184.4h1v1h-1zM444.5 185.1h1v1h-1zM444.0 183.0h1v1h-1zM447.1 181.2h1v1h-1zM423.8 184.4h1v1h-1zM435.1 185.2h1v1h-1zM446.4 182.3h1v1h-1zM444.2 178.7h1v1h-1zM428.8 185.2h1v1h-1zM438.5 179.5h1v1h-1zM441.1 185.2h1v1h-1zM437.7 181.4h1v1h-1zM442.0 185.0h1v1h-1zM428.2 183.7h1v1h-1zM440.1 183.6h1v1h-1zM441.8 183.2h1v1h-1zM442.4 183.9h1v1h-1zM432.3 185.6h1v1h-1zM434.9 185.3h1v1h-1zM426.6 183.7h1v1h-1zM445.8 180.1h1v1h-1zM439.6 183.1h1v1h-1zM446.1 179.0h1v1h-1zM444.7 180.0h1v1h-1zM439.7 180.3h1v1h-1zM430.4 182.5h1v1h-1zM435.6 180.4h1v1h-1zM447.2 183.2h1v1h-1zM429.3 182.0h1v1h-1zM448.0 185.2h1v1h-1zM427.0 182.8h1v1h-1zM423.9 183.4h1v1h-1zM445.6 185.4h1v1h-1zM441.6 182.2h1v1h-1zM425.9 183.3h1v1h-1zM433.8 181.4h1v1h-1zM444.9 178.8h1v1h-1zM447.5 182.5h1v1h-1zM422.7 184.9h1v1h-1zM438.3 183.5h1v1h-1zM424.0 182.8h1v1h-1zM433.8 181.8h1v1h-1zM439.8 183.1h1v1h-1zM436.7 183.1h1v1h-1zM429.2 185.2h1v1h-1zM443.9 182.3h1v1h-1zM443.7 179.3h1v1h-1zM440.2 181.1h1v1h-1zM447.3 183.9h1v1h-1zM432.0 181.8h1v1h-1zM432.5 183.1h1v1h-1zM444.3 178.0h1v1h-1zM442.2 182.8h1v1h-1zM442.4 177.5h1v1h-1zM441.8 180.1h1v1h-1zM442.6 181.2h1v1h-1zM436.5 184.7h1v1h-1zM429.7 182.8h1v1h-1zM433.0 183.7h1v1h-1zM439.5 183.3h1v1h-1zM435.4 181.4h1v1h-1zM424.6 183.5h1v1h-1zM431.4 184.6h1v1h-1zM427.7 184.6h1v1h-1zM442.4 181.0h1v1h-1zM431.8 183.7h1v1h-1zM424.5 184.1h1v1h-1zM445.9 181.6h1v1h-1zM447.5 184.6h1v1h-1zM445.8 180.7h1v1h-1zM440.9 180.4h1v1h-1zM444.6 183.3h1v1h-1zM441.2 184.2h1v1h-1zM441.2 185.6h1v1h-1zM436.6 184.0h1v1h-1zM447.4 181.6h1v1h-1zM428.2 182.7h1v1h-1zM440.7 185.1h1v1h-1zM446.5 181.9h1v1h-1zM440.0 184.3h1v1h-1zM436.6 182.6h1v1h-1zM432.3 183.7h1v1h-1zM431.2 184.8h1v1h-1zM440.8 181.3h1v1h-1zM445.5 184.0h1v1h-1zM429.9 185.6h1v1h-1zM437.6 180.6h1v1h-1zM444.3 183.6h1v1h-1zM430.2 183.2h1v1h-1zM434.7 183.8h1v1h-1zM439.9 183.3h1v1h-1zM446.3 185.3h1v1h-1zM439.9 180.4h1v1h-1zM422.7 184.5h1v1h-1zM429.1 183.5h1v1h-1zM435.5 184.6h1v1h-1zM435.6 180.5h1v1h-1zM448.2 183.7h1v1h-1zM441.6 180.4h1v1h-1zM434.8 183.5h1v1h-1zM422.6 184.8h1v1h-1zM442.5 184.7h1v1h-1zM437.1 183.7h1v1h-1zM439.9 182.2h1v1h-1zM447.3 182.3h1v1h-1zM439.5 184.7h1v1h-1zM439.7 185.0h1v1h-1zM442.5 180.6h1v1h-1zM433.7 184.6h1v1h-1zM441.8 185.7h1v1h-1zM431.7 182.2h1v1h-1zM441.3 185.4h1v1h-1zM442.8 180.9h1v1h-1zM443.4 179.0h1v1h-1zM447.2 182.5h1v1h-1zM434.4 181.4h1v1h-1zM440.9 182.2h1v1h-1zM447.7 178.1h1v1h-1zM447.2 181.8h1v1h-1zM431.1 183.0h1v1h-1zM440.0 184.4h1v1h-1zM425.6 184.0h1v1h-1zM439.2 179.9h1v1h-1zM435.1 181.2h1v1h-1zM441.9 182.1h1v1h-1zM427.4 184.0h1v1h-1zM448.8 185.2h1v1h-1zM427.9 184.5h1v1h-1zM446.5 179.8h1v1h-1zM438.4 180.3h1v1h-1zM429.5 184.7h1v1h-1zM444.0 182.2h1v1h-1zM430.6 185.6h1v1h-1zM443.5 183.1h1v1h-1zM438.2 182.2h1v1h-1zM425.5 184.0h1v1h-1zM447.2 179.0h1v1h-1zM444.1 179.7h1v1h-1zM439.8 181.1h1v1h-1zM423.9 184.8h1v1h-1zM438.5 182.9h1v1h-1zM441.5 183.1h1v1h-1zM427.3 181.4h1v1h-1zM434.2 183.2h1v1h-1zM444.3 181.7h1v1h-1zM425.6 183.0h1v1h-1zM446.8 182.0h1v1h-1zM440.9 185.0h1v1h-1zM435.0 183.1h1v1h-1zM444.8 184.6h1v1h-1zM444.5 185.2h1v1h-1zM434.8 183.4h1v1h-1zM442.1 179.2h1v1h-1zM441.4 182.6h1v1h-1zM446.7 178.9h1v1h-1zM428.1 182.7h1v1h-1zM432.4 181.8h1v1h-1zM434.8 181.3h1v1h-1zM431.4 185.6h1v1h-1zM433.2 184.1h1v1h-1zM447.8 182.3h1v1h-1zM448.4 183.1h1v1h-1zM428.5 184.5h1v1h-1zM433.0 180.4h1v1h-1zM424.9 185.0h1v1h-1zM436.3 184.5h1v1h-1zM434.9 181.9h1v1h-1zM443.5 178.9h1v1h-1zM439.4 181.4h1v1h-1zM436.2 184.7h1v1h-1zM439.2 185.3h1v1h-1zM447.4 181.4h1v1h-1zM446.6 185.4h1v1h-1zM441.2 181.9h1v1h-1zM433.2 181.5h1v1h-1zM430.0 185.4h1v1h-1zM448.5 180.5h1v1h-1zM441.5 184.5h1v1h-1zM440.3 180.0h1v1h-1zM436.1 181.2h1v1h-1zM435.0 184.3h1v1h-1zM445.8 181.8h1v1h-1zM441.0 179.8h1v1h-1zM429.2 184.5h1v1h-1zM428.4 182.4h1v1h-1zM432.7 184.8h1v1h-1zM446.6 182.0h1v1h-1zM442.0 184.3h1v1h-1zM436.9 182.2h1v1h-1zM432.5 184.1h1v1h-1zM439.7 184.1h1v1h-1zM440.1 182.0h1v1h-1zM441.8 180.2h1v1h-1zM431.1 180.7h1v1h-1zM433.1 183.2h1v1h-1zM428.5 185.1h1v1h-1zM430.9 183.9h1v1h-1zM430.1 183.3h1v1h-1zM435.2 184.6h1v1h-1zM441.6 184.4h1v1h-1zM428.4 184.7h1v1h-1zM445.2 185.0h1v1h-1zM435.7 180.9h1v1h-1zM442.8 178.2h1v1h-1zM429.5 184.7h1v1h-1zM424.7 183.8h1v1h-1zM434.7 182.4h1v1h-1zM427.3 182.5h1v1h-1zM422.7 185.3h1v1h-1zM442.3 183.1h1v1h-1zM447.2 180.6h1v1h-1zM440.9 179.1h1v1h-1zM432.0 182.5h1v1h-1zM441.5 180.6h1v1h-1zM438.0 181.9h1v1h-1zM447.2 182.9h1v1h-1zM429.4 181.0h1v1h-1zM427.4 184.8h1v1h-1zM442.1 184.5h1v1h-1zM427.6 183.4h1v1h-1zM433.6 184.5h1v1h-1zM426.9 182.1h1v1h-1zM443.2 184.9h1v1h-1zM437.1 180.1h1v1h-1zM443.3 183.4h1v1h-1zM448.2 180.1h1v1h-1zM435.6 185.1h1v1h-1zM428.9 181.9h1v1h-1zM438.2 181.2h1v1h-1zM425.9 185.2h1v1h-1zM444.5 183.7h1v1h-1zM444.6 182.6h1v1h-1zM441.4 183.3h1v1h-1zM434.2 183.5h1v1h-1zM447.0 184.2h1v1h-1zM427.7 184.2h1v1h-1zM428.4 181.9h1v1h-1zM436.9 181.5h1v1h-1zM446.2 179.6h1v1h-1zM422.9 184.3h1v1h-1zM444.4 181.2h1v1h-1zM444.4 179.6h1v1h-1zM444.8 182.6h1v1h-1zM445.7 181.2h1v1h-1zM437.3 183.3h1v1h-1zM431.9 181.1h1v1h-1zM440.2 179.9h1v1h-1zM439.1 181.2h1v1h-1zM425.9 183.8h1v1h-1zM432.3 183.7h1v1h-1zM444.9 183.4h1v1h-1zM435.3 183.1h1v1h-1zM441.2 181.9h1v1h-1zM434.1 184.5h1v1h-1zM424.3 184.9h1v1h-1zM444.7 184.0h1v1h-1zM446.1 183.8h1v1h-1zM443.3 185.4h1v1h-1zM443.3 182.8h1v1h-1zM445.3 185.7h1v1h-1zM445.9 178.3h1v1h-1zM434.4 183.5h1v1h-1zM433.7 181.4h1v1h-1zM425.7 182.8h1v1h-1zM427.4 183.6h1v1h-1zM441.1 183.5h1v1h-1zM441.2 178.8h1v1h-1zM426.0 183.2h1v1h-1zM447.3 185.6h1v1h-1zM447.0 183.8h1v1h-1zM432.3 182.6h1v1h-1zM431.9 183.2h1v1h-1zM429.6 183.7h1v1h-1zM446.1 179.9h1v1h-1zM434.3 184.6h1v1h-1zM441.7 179.1h1v1h-1zM425.4 185.2h1v1h-1zM436.4 183.1h1v1h-1zM434.7 182.4h1v1h-1zM430.6 181.6h1v1h-1zM441.0 182.4h1v1h-1zM436.0 180.9h1v1h-1zM436.8 183.2h1v1h-1zM447.7 179.5h1v1h-1zM444.2 184.8h1v1h-1zM446.6 185.0h1v1h-1zM444.5 184.1h1v1h-1zM446.0 184.8h1v1h-1zM432.1 183.0h1v1h-1zM435.1 185.4h1v1h-1zM442.1 181.1h1v1h-1zM426.6 183.8h1v1h-1zM441.6 182.2h1v1h-1zM435.0 180.2h1v1h-1zM446.3 183.6h1v1h-1zM441.5 184.4h1v1h-1zM445.7 185.3h1v1h-1zM432.1 182.8h1v1h-1zM437.7 180.5h1v1h-1zM439.5 182.4h1v1h-1zM429.2 182.3h1v1h-1zM448.6 183.1h1v1h-1zM431.0 183.5h1v1h-1zM447.2 182.0h1v1h-1zM429.3 184.9h1v1h-1zM423.2 185.0h1v1h-1zM441.5 183.2h1v1h-1zM427.2 183.9h1v1h-1zM424.0 183.5h1v1h-1zM437.2 180.8h1v1h-1zM435.5 185.4h1v1h-1zM434.3 181.5h1v1h-1zM442.7 181.4h1v1h-1zM430.6 180.9h1v1h-1zM440.6 181.2h1v1h-1zM443.0 184.6h1v1h-1zM437.7 184.5h1v1h-1zM427.1 185.1h1v1h-1zM438.8 182.4h1v1h-1zM441.0 184.5h1v1h-1zM424.7 185.0h1v1h-1zM436.9 181.6h1v1h-1zM434.5 184.8h1v1h-1zM436.2 182.8h1v1h-1zM446.2 185.3h1v1h-1zM423.3 184.8h1v1h-1zM425.0 185.1h1v1h-1zM444.3 181.8h1v1h-1zM436.3 183.0h1v1h-1zM423.4 185.2h1v1h-1zM434.9 180.0h1v1h-1zM424.2 184.4h1v1h-1zM444.3 180.3h1v1h-1zM440.1 182.1h1v1h-1zM449.0 182.1h1v1h-1zM427.1 185.3h1v1h-1zM423.8 185.4h1v1h-1zM432.5 180.6h1v1h-1zM437.5 182.8h1v1h-1zM447.7 182.0h1v1h-1zM445.5 178.2h1v1h-1zM426.2 185.2h1v1h-1zM430.8 181.1h1v1h-1zM441.9 184.1h1v1h-1zM444.9 179.1h1v1h-1zM428.2 183.6h1v1h-1zM437.8 181.7h1v1h-1zM440.0 182.6h1v1h-1zM430.3 182.0h1v1h-1zM437.0 182.6h1v1h-1zM434.8 182.9h1v1h-1zM426.7 185.6h1v1h-1zM432.2 181.8h1v1h-1zM444.7 184.4h1v1h-1zM447.2 184.3h1v1h-1zM430.4 184.2h1v1h-1zM437.9 181.0h1v1h-1zM444.8 183.9h1v1h-1zM438.4 185.6h1v1h-1zM437.2 185.0h1v1h-1zM436.4 184.3h1v1h-1zM432.7 183.9h1v1h-1zM445.8 179.6h1v1h-1zM435.5 181.3h1v1h-1zM444.5 180.2h1v1h-1zM437.7 181.8h1v1h-1zM423.7 183.8h1v1h-1zM426.7 183.6h1v1h-1zM431.5 185.3h1v1h-1zM431.4 183.5h1v1h-1zM446.6 182.1h1v1h-1zM441.6 183.8h1v1h-1zM429.4 182.4h1v1h-1zM440.6 185.2h1v1h-1zM429.7 183.9h1v1h-1zM433.4 185.1h1v1h-1zM445.5 179.5h1v1h-1zM439.3 181.9h1v1h-1zM425.4 182.8h1v1h-1zM443.7 182.7h1v1h-1zM440.2 184.8h1v1h-1zM442.2 178.5h1v1h-1zM433.0 184.6h1v1h-1zM426.7 184.5h1v1h-1zM430.4 181.8h1v1h-1zM443.9 184.8h1v1h-1zM438.2 179.7h1v1h-1zM430.2 185.6h1v1h-1zM446.6 180.7h1v1h-1zM439.0 180.1h1v1h-1zM427.0 182.5h1v1h-1zM444.1 180.9h1v1h-1zM433.0 184.6h1v1h-1zM448.8 183.8h1v1h-1zM436.9 184.0h1v1h-1zM432.7 180.8h1v1h-1zM434.0 180.7h1v1h-1zM439.8 179.9h1v1h-1zM427.8 181.6h1v1h-1zM443.6 178.7h1v1h-1zM442.8 185.0h1v1h-1zM440.2 183.0h1v1h-1zM440.8 184.5h1v1h-1zM446.0 185.0h1v1h-1zM431.2 184.8h1v1h-1zM441.6 179.9h1v1h-1zM430.9 182.1h1v1h-1zM422.9 185.6h1v1h-1zM422.9 185.0h1v1h-1zM445.1 183.6h1v1h-1zM431.8 183.9h1v1h-1zM423.8 185.5h1v1h-1zM438.6 184.2h1v1h-1zM432.9 181.5h1v1h-1zM441.8 181.7h1v1h-1zM438.7 181.4h1v1h-1zM427.1 182.7h1v1h-1zM431.9 185.6h1v1h-1zM440.9 180.6h1v1h-1zM430.6 182.3h1v1h-1zM433.0 185.5h1v1h-1zM438.0 184.7h1v1h-1zM427.1 184.4h1v1h-1zM477.0 144.6h1v1h-1zM479.6 150.1h1v1h-1zM476.1 145.2h1v1h-1zM481.7 146.3h1v1h-1zM482.7 142.6h1v1h-1zM477.7 145.0h1v1h-1zM481.8 144.4h1v1h-1zM480.8 149.1h1v1h-1zM480.4 147.2h1v1h-1zM481.6 145.3h1v1h-1zM477.7 146.9h1v1h-1zM476.7 149.0h1v1h-1zM479.1 144.5h1v1h-1zM483.5 145.7h1v1h-1zM476.7 145.7h1v1h-1zM481.8 146.9h1v1h-1zM482.1 144.0h1v1h-1zM476.9 147.6h1v1h-1zM479.2 141.7h1v1h-1zM476.4 143.3h1v1h-1zM481.3 145.5h1v1h-1zM480.2 148.0h1v1h-1zM478.0 144.9h1v1h-1zM480.3 142.6h1v1h-1zM481.5 142.4h1v1h-1zM480.7 148.3h1v1h-1zM475.0 144.4h1v1h-1zM476.3 147.7h1v1h-1zM480.4 149.4h1v1h-1zM479.2 149.6h1v1h-1zM478.1 147.3h1v1h-1zM478.2 145.8h1v1h-1zM479.6 144.5h1v1h-1zM480.4 147.8h1v1h-1zM482.0 144.5h1v1h-1zM473.7 146.9h1v1h-1zM480.6 147.2h1v1h-1zM480.8 147.7h1v1h-1zM482.9 147.2h1v1h-1zM478.3 145.0h1v1h-1zM478.7 143.2h1v1h-1zM483.1 146.4h1v1h-1zM475.8 144.1h1v1h-1zM482.7 146.1h1v1h-1zM483.2 146.5h1v1h-1zM483.5 148.3h1v1h-1zM478.1 148.0h1v1h-1zM483.8 145.7h1v1h-1zM481.9 149.5h1v1h-1zM481.1 148.3h1v1h-1zM475.9 149.6h1v1h-1zM479.2 142.9h1v1h-1zM479.8 147.8h1v1h-1zM475.7 146.7h1v1h-1zM477.7 145.4h1v1h-1zM478.9 148.0h1v1h-1zM476.2 149.1h1v1h-1zM475.7 149.1h1v1h-1zM478.6 142.0h1v1h-1zM476.3 149.1h1v1h-1zM477.6 141.8h1v1h-1zM478.6 146.3h1v1h-1zM477.3 150.2h1v1h-1zM476.6 142.8h1v1h-1zM478.9 148.0h1v1h-1zM481.6 144.2h1v1h-1zM477.3 149.1h1v1h-1zM476.8 147.6h1v1h-1zM480.5 149.9h1v1h-1zM476.0 142.9h1v1h-1zM479.9 141.5h1v1h-1zM479.7 146.1h1v1h-1zM475.2 148.7h1v1h-1zM479.3 145.0h1v1h-1zM477.2 150.4h1v1h-1zM474.8 148.1h1v1h-1zM480.3 146.5h1v1h-1zM478.2 146.9h1v1h-1zM477.5 143.6h1v1h-1zM481.6 148.7h1v1h-1zM476.2 144.5h1v1h-1zM475.9 146.8h1v1h-1zM483.4 144.6h1v1h-1zM482.5 143.5h1v1h-1zM475.0 150.1h1v1h-1zM482.9 146.7h1v1h-1zM480.4 142.8h1v1h-1zM482.5 145.1h1v1h-1zM482.0 143.6h1v1h-1zM483.3 144.5h1v1h-1zM474.7 145.8h1v1h-1zM481.2 149.5h1v1h-1zM480.2 148.0h1v1h-1zM480.3 149.8h1v1h-1zM481.5 148.1h1v1h-1zM479.2 146.2h1v1h-1zM481.7 147.5h1v1h-1zM478.0 144.9h1v1h-1zM475.6 147.8h1v1h-1zM476.1 146.7h1v1h-1zM483.8 148.7h1v1h-1zM478.9 143.2h1v1h-1zM477.5 145.9h1v1h-1zM483.9 148.6h1v1h-1zM480.7 144.4h1v1h-1zM477.8 142.4h1v1h-1zM475.7 147.3h1v1h-1zM481.9 148.2h1v1h-1zM476.6 144.5h1v1h-1zM482.8 142.4h1v1h-1zM476.0 145.8h1v1h-1zM482.7 143.7h1v1h-1zM476.3 148.8h1v1h-1zM477.9 145.3h1v1h-1zM481.5 142.6h1v1h-1zM476.5 144.5h1v1h-1zM476.4 144.9h1v1h-1zM476.0 145.7h1v1h-1zM475.1 149.2h1v1h-1zM475.7 142.4h1v1h-1zM480.8 148.5h1v1h-1zM476.5 146.0h1v1h-1zM477.7 143.7h1v1h-1zM477.1 147.3h1v1h-1zM479.4 151.6h1v1h-1zM479.3 149.1h1v1h-1zM478.5 147.4h1v1h-1zM481.7 148.8h1v1h-1zM478.8 147.2h1v1h-1zM478.0 147.1h1v1h-1zM481.4 149.5h1v1h-1zM477.5 149.9h1v1h-1zM476.6 145.5h1v1h-1zM477.8 141.8h1v1h-1zM480.3 146.2h1v1h-1zM479.4 148.1h1v1h-1zM482.6 148.6h1v1h-1zM477.6 147.0h1v1h-1zM481.6 146.7h1v1h-1zM478.9 145.5h1v1h-1zM477.5 144.0h1v1h-1zM474.6 144.8h1v1h-1zM482.6 147.4h1v1h-1zM474.7 148.6h1v1h-1zM478.6 150.3h1v1h-1zM480.8 149.6h1v1h-1zM476.9 144.3h1v1h-1zM479.6 142.8h1v1h-1zM482.0 149.8h1v1h-1zM477.6 146.3h1v1h-1zM483.2 144.8h1v1h-1zM482.9 147.3h1v1h-1zM482.7 149.7h1v1h-1zM475.9 149.2h1v1h-1zM477.9 143.1h1v1h-1zM476.5 144.1h1v1h-1zM479.2 147.8h1v1h-1zM478.8 146.9h1v1h-1zM480.3 143.5h1v1h-1zM481.0 146.4h1v1h-1zM478.1 147.9h1v1h-1zM474.8 149.4h1v1h-1zM480.1 149.8h1v1h-1zM481.0 148.8h1v1h-1zM475.1 145.3h1v1h-1zM481.7 147.6h1v1h-1zM474.8 147.9h1v1h-1zM476.0 147.7h1v1h-1zM483.2 145.9h1v1h-1zM482.4 143.7h1v1h-1zM478.1 148.5h1v1h-1zM476.0 147.2h1v1h-1zM480.2 142.0h1v1h-1zM478.1 145.6h1v1h-1zM477.8 143.6h1v1h-1zM476.5 145.7h1v1h-1zM484.4 149.3h1v1h-1zM479.0 145.1h1v1h-1zM479.3 142.2h1v1h-1zM482.1 141.3h1v1h-1zM475.4 145.2h1v1h-1zM475.6 144.7h1v1h-1zM474.5 148.0h1v1h-1zM476.1 150.1h1v1h-1zM477.1 146.9h1v1h-1zM479.4 141.1h1v1h-1zM480.3 147.0h1v1h-1zM482.2 148.4h1v1h-1zM483.5 145.7h1v1h-1zM478.0 144.1h1v1h-1zM475.6 148.1h1v1h-1zM483.5 148.4h1v1h-1zM479.0 144.4h1v1h-1zM476.5 147.4h1v1h-1zM478.4 144.0h1v1h-1zM484.5 147.5h1v1h-1zM482.1 142.9h1v1h-1zM475.3 148.5h1v1h-1zM481.4 144.5h1v1h-1zM477.9 172.3h1v1h-1zM472.7 172.6h1v1h-1zM472.8 165.0h1v1h-1zM475.8 165.5h1v1h-1zM474.2 163.1h1v1h-1zM480.8 165.3h1v1h-1zM477.0 167.2h1v1h-1zM476.7 167.6h1v1h-1zM472.9 162.8h1v1h-1zM477.9 161.8h1v1h-1zM476.8 169.7h1v1h-1zM474.5 161.7h1v1h-1zM474.2 174.1h1v1h-1zM476.3 172.7h1v1h-1zM475.8 168.3h1v1h-1zM473.5 170.3h1v1h-1zM470.6 168.2h1v1h-1zM475.7 166.2h1v1h-1zM481.1 170.6h1v1h-1zM480.0 163.9h1v1h-1zM475.5 169.0h1v1h-1zM472.0 164.8h1v1h-1zM480.2 167.4h1v1h-1zM475.4 162.7h1v1h-1zM472.9 163.2h1v1h-1zM478.5 165.4h1v1h-1zM472.0 166.2h1v1h-1zM476.3 165.0h1v1h-1zM475.2 167.2h1v1h-1zM474.1 173.6h1v1h-1zM470.9 166.0h1v1h-1zM477.2 164.4h1v1h-1zM479.2 161.4h1v1h-1zM472.7 172.9h1v1h-1zM474.3 171.6h1v1h-1zM473.6 163.6h1v1h-1zM477.6 165.7h1v1h-1zM477.7 165.2h1v1h-1zM477.8 163.1h1v1h-1zM473.2 170.2h1v1h-1zM475.7 175.0h1v1h-1zM474.6 166.2h1v1h-1zM479.0 171.3h1v1h-1zM477.0 168.4h1v1h-1zM477.0 164.1h1v1h-1zM477.8 162.2h1v1h-1zM478.1 171.6h1v1h-1zM472.7 170.2h1v1h-1zM474.8 174.2h1v1h-1zM479.5 163.1h1v1h-1zM474.5 162.9h1v1h-1zM480.1 165.4h1v1h-1zM471.8 170.1h1v1h-1zM477.6 173.5h1v1h-1zM472.1 168.0h1v1h-1zM474.4 172.5h1v1h-1zM476.9 171.2h1v1h-1zM473.2 165.9h1v1h-1zM475.0 166.7h1v1h-1zM481.4 165.4h1v1h-1zM471.7 164.5h1v1h-1zM471.7 168.3h1v1h-1zM475.1 172.4h1v1h-1zM471.8 169.1h1v1h-1zM480.9 172.1h1v1h-1zM472.2 166.8h1v1h-1zM473.0 161.5h1v1h-1zM472.2 166.5h1v1h-1zM474.9 166.1h1v1h-1zM473.8 173.9h1v1h-1zM472.3 168.2h1v1h-1zM473.0 166.7h1v1h-1zM474.0 161.5h1v1h-1zM469.8 173.5h1v1h-1zM480.4 170.7h1v1h-1zM471.4 165.9h1v1h-1zM473.8 166.2h1v1h-1zM472.2 171.7h1v1h-1zM477.9 171.1h1v1h-1zM478.3 162.2h1v1h-1zM470.2 169.8h1v1h-1zM476.5 168.1h1v1h-1zM471.6 162.9h1v1h-1zM475.4 171.4h1v1h-1zM471.7 174.6h1v1h-1zM472.4 169.2h1v1h-1zM478.2 170.6h1v1h-1zM471.7 163.2h1v1h-1zM476.0 166.2h1v1h-1zM479.3 169.3h1v1h-1zM477.0 166.2h1v1h-1zM475.9 167.8h1v1h-1zM473.9 174.0h1v1h-1zM477.9 169.9h1v1h-1zM472.0 170.5h1v1h-1zM479.5 167.0h1v1h-1zM478.7 163.6h1v1h-1zM479.4 161.6h1v1h-1zM480.2 168.9h1v1h-1zM470.5 168.9h1v1h-1zM471.7 168.6h1v1h-1zM474.9 170.2h1v1h-1zM473.9 166.8h1v1h-1zM473.2 165.2h1v1h-1zM478.0 171.1h1v1h-1zM473.8 166.7h1v1h-1zM474.7 161.7h1v1h-1zM478.6 162.0h1v1h-1zM478.9 166.3h1v1h-1zM472.9 170.8h1v1h-1zM472.2 161.2h1v1h-1zM478.7 172.3h1v1h-1zM474.8 170.3h1v1h-1zM480.4 171.3h1v1h-1zM476.5 161.8h1v1h-1zM479.4 165.7h1v1h-1zM478.6 171.0h1v1h-1zM471.5 163.9h1v1h-1zM473.6 168.9h1v1h-1zM473.8 170.2h1v1h-1zM476.2 166.9h1v1h-1zM477.1 168.3h1v1h-1zM477.8 162.4h1v1h-1zM473.2 166.0h1v1h-1zM480.4 164.5h1v1h-1zM477.8 167.7h1v1h-1zM472.6 169.8h1v1h-1zM473.0 172.1h1v1h-1zM477.6 164.1h1v1h-1zM476.1 172.9h1v1h-1zM471.5 172.3h1v1h-1zM473.3 163.2h1v1h-1zM476.0 160.8h1v1h-1zM475.0 166.8h1v1h-1zM475.0 173.4h1v1h-1zM477.2 166.3h1v1h-1zM480.6 165.4h1v1h-1zM471.2 170.8h1v1h-1zM477.8 161.5h1v1h-1zM474.1 167.6h1v1h-1zM472.9 173.0h1v1h-1zM477.4 169.9h1v1h-1zM476.1 163.4h1v1h-1zM479.6 171.4h1v1h-1zM473.3 162.8h1v1h-1zM476.3 172.1h1v1h-1zM477.6 166.8h1v1h-1zM474.8 160.5h1v1h-1zM472.6 165.3h1v1h-1zM473.3 163.6h1v1h-1zM472.2 169.9h1v1h-1zM476.3 172.3h1v1h-1zM472.9 172.0h1v1h-1zM472.1 168.5h1v1h-1zM470.8 165.3h1v1h-1zM472.4 164.8h1v1h-1zM474.2 170.8h1v1h-1zM479.6 165.5h1v1h-1zM471.8 163.3h1v1h-1zM479.2 171.4h1v1h-1zM475.4 172.6h1v1h-1zM472.2 161.8h1v1h-1zM477.5 164.1h1v1h-1zM479.6 168.3h1v1h-1zM478.5 170.7h1v1h-1zM474.1 168.0h1v1h-1zM479.0 170.8h1v1h-1zM471.2 172.1h1v1h-1zM479.0 167.3h1v1h-1zM477.3 176.8h1v1h-1zM484.5 183.5h1v1h-1zM481.0 176.4h1v1h-1zM483.3 182.4h1v1h-1zM479.9 176.3h1v1h-1zM479.9 176.8h1v1h-1zM477.4 177.6h1v1h-1zM478.1 182.6h1v1h-1zM481.1 177.7h1v1h-1zM480.5 175.6h1v1h-1zM477.7 183.6h1v1h-1zM481.5 184.6h1v1h-1zM477.1 176.1h1v1h-1zM481.8 179.7h1v1h-1zM482.8 179.1h1v1h-1zM479.6 185.4h1v1h-1zM481.5 179.2h1v1h-1zM476.9 183.3h1v1h-1zM475.8 180.2h1v1h-1zM479.2 174.5h1v1h-1zM477.8 178.3h1v1h-1zM477.9 176.8h1v1h-1zM477.2 178.8h1v1h-1zM478.5 175.9h1v1h-1zM477.4 182.8h1v1h-1zM477.5 181.1h1v1h-1zM482.8 182.9h1v1h-1zM479.5 183.9h1v1h-1zM482.4 178.2h1v1h-1zM477.3 183.4h1v1h-1zM482.7 177.1h1v1h-1zM482.7 180.0h1v1h-1zM478.3 180.8h1v1h-1zM475.9 182.4h1v1h-1zM481.9 184.5h1v1h-1zM482.5 180.0h1v1h-1zM480.4 181.0h1v1h-1zM481.1 179.4h1v1h-1zM481.2 178.5h1v1h-1zM482.7 182.9h1v1h-1zM478.4 179.7h1v1h-1zM478.4 184.2h1v1h-1zM478.0 180.8h1v1h-1zM476.9 183.8h1v1h-1zM476.7 180.6h1v1h-1zM478.4 182.5h1v1h-1zM479.8 177.8h1v1h-1zM484.0 183.8h1v1h-1zM481.1 176.1h1v1h-1zM483.0 184.9h1v1h-1zM481.9 176.1h1v1h-1zM480.3 179.7h1v1h-1zM479.0 180.2h1v1h-1zM476.8 177.1h1v1h-1zM477.6 184.9h1v1h-1zM481.7 177.1h1v1h-1zM481.3 180.0h1v1h-1zM477.2 180.3h1v1h-1zM483.5 184.4h1v1h-1zM479.7 176.7h1v1h-1zM477.2 176.8h1v1h-1zM476.0 177.5h1v1h-1zM482.6 176.7h1v1h-1zM480.2 179.2h1v1h-1zM477.4 178.9h1v1h-1zM477.8 183.2h1v1h-1zM481.7 182.1h1v1h-1zM483.5 177.3h1v1h-1zM477.9 177.1h1v1h-1zM480.0 183.8h1v1h-1zM477.2 179.2h1v1h-1zM478.2 184.5h1v1h-1zM483.1 176.1h1v1h-1zM482.4 178.6h1v1h-1zM482.0 177.7h1v1h-1zM483.7 183.7h1v1h-1zM480.1 184.8h1v1h-1zM478.0 175.9h1v1h-1zM475.6 180.5h1v1h-1zM482.4 182.7h1v1h-1zM482.3 176.8h1v1h-1zM480.6 174.9h1v1h-1zM482.9 182.8h1v1h-1zM477.5 176.9h1v1h-1zM483.4 183.6h1v1h-1zM479.9 179.3h1v1h-1zM481.6 180.4h1v1h-1zM481.3 181.1h1v1h-1zM480.0 182.5h1v1h-1zM481.1 178.1h1v1h-1zM479.4 178.9h1v1h-1zM482.1 181.3h1v1h-1zM476.7 177.0h1v1h-1zM483.8 181.6h1v1h-1zM476.7 179.9h1v1h-1zM476.3 180.4h1v1h-1zM478.9 184.9h1v1h-1zM476.3 183.4h1v1h-1zM483.6 183.0h1v1h-1zM481.2 178.7h1v1h-1zM482.5 182.2h1v1h-1zM476.0 179.4h1v1h-1zM481.0 185.3h1v1h-1zM476.0 183.9h1v1h-1zM476.3 182.8h1v1h-1zM477.4 181.4h1v1h-1zM476.4 183.9h1v1h-1zM477.8 177.6h1v1h-1zM481.2 181.8h1v1h-1zM479.9 178.3h1v1h-1zM479.6 180.5h1v1h-1zM478.5 178.3h1v1h-1zM483.4 180.8h1v1h-1zM479.7 177.5h1v1h-1zM482.1 182.3h1v1h-1zM478.6 177.8h1v1h-1zM479.8 183.7h1v1h-1zM482.7 180.3h1v1h-1zM480.9 177.6h1v1h-1zM477.9 175.4h1v1h-1zM478.4 185.7h1v1h-1zM478.5 185.2h1v1h-1zM477.3 175.8h1v1h-1zM478.4 178.0h1v1h-1zM481.7 180.4h1v1h-1z" fill="#d00000" fill-opacity="0.9"/>
<path d="M423.0 238.5h1v1h-1zM428.3 224.7h1v1h-1zM513.8 231.2h1v1h-1zM433.5 220.2h1v1h-1zM514.3 234.1h1v1h-1zM465.5 227.5h1v1h-1zM483.5 249.7h1v1h-1zM452.0 260.4h1v1h-1zM448.2 222.2h1v1h-1zM455.4 254.8h1v1h-1zM488.7 242.3h1v1h-1zM488.7 239.9h1v1h-1zM448.6 224.9h1v1h-1zM486.7 247.2h1v1h-1zM446.1 237.2h1v1h-1zM441.5 236.1h1v1h-1zM424.1 228.2h1v1h-1zM495.2 221.1h1v1h-1zM492.7 244.2h1v1h-1zM442.7 241.4h1v1h-1zM435.2 255.9h1v1h-1zM483.2 254.2h1v1h-1zM505.4 254.3h1v1h-1zM443.0 238.1h1v1h-1zM480.5 246.9h1v1h-1zM479.4 242.5h1v1h-1zM431.9 262.9h1v1h-1zM457.4 222.5h1v1h-1zM498.1 254.8h1v1h-1zM506.2 247.6h1v1h-1zM469.2 255.1h1v1h-1zM468.9 225.0h1v1h-1zM456.3 228.0h1v1h-1zM505.4 236.2h1v1h-1zM478.4 229.7h1v1h-1zM432.7 251.1h1v1h-1zM428.6 257.5h1v1h-1zM428.1 235.4h1v1h-1zM425.0 251.8h1v1h-1zM474.0 203.5h1v1h-1zM511.8 202.4h1v1h-1zM501.5 208.9h1v1h-1zM476.8 210.5h1v1h-1zM423.4 216.7h1v1h-1zM431.1 201.8h1v1h-1zM479.6 200.9h1v1h-1zM457.8 248.7h1v1h-1zM453.9 244.1h1v1h-1zM461.6 248.7h1v1h-1zM455.8 257.5h1v1h-1zM458.3 243.6h1v1h-1zM457.3 247.4h1v1h-1zM468.4 242.1h1v1h-1zM450.6 251.5h1v1h-1zM469.1 243.0h1v1h-1zM451.9 251.8h1v1h-1zM457.8 240.7h1v1h-1zM446.7 252.1h1v1h-1zM452.4 260.5h1v1h-1zM439.6 260.1h1v1h-1zM465.8 246.0h1v1h-1zM446.6 247.8h1v1h-1zM462.8 243.7h1v1h-1zM461.1 249.3h1v1h-1zM468.0 233.3h1v1h-1zM445.8 257.1h1v1h-1zM456.7 245.9h1v1h-1zM452.3 245.7h1v1h-1zM454.5 257.1h1v1h-1zM456.4 249.8h1v1h-1zM458.3 243.4h1v1h-1zM468.6 238.8h1v1h-1zM461.9 246.5h1v1h-1zM452.2 244.2h1v1h-1zM451.9 252.7h1v1h-1zM451.7 261.3h1v1h-1zM454.5 250.4h1v1h-1zM450.6 250.1h1v1h-1zM469.8 237.2h1v1h-1zM464.1 242.5h1v1h-1zM455.2 248.8h1v1h-1zM445.6 254.2h1v1h-1zM458.7 261.0h1v1h-1zM458.1 248.4h1v1h-1zM457.8 246.6h1v1h-1zM459.9 248.8h1v1h-1zM453.1 256.6h1v1h-1zM453.9 252.9h1v1h-1zM456.9 241.4h1v1h-1zM446.0 260.9h1v1h-1zM456.2 253.6h1v1h-1zM454.1 246.2h1v1h-1zM455.1 247.8h1v1h-1zM457.7 245.6h1v1h-1zM452.1 254.0h1v1h-1zM444.8 258.3h1v1h-1zM443.1 255.9h1v1h-1zM454.9 252.8h1v1h-1zM460.3 243.6h1v1h-1zM461.0 247.1h1v1h-1zM468.0 249.6h1v1h-1zM445.2 251.5h1v1h-1zM468.4 233.7h1v1h-1zM454.8 249.2h1v1h-1zM451.4 247.7h1v1h-1zM465.0 246.1h1v1h-1zM466.3 240.1h1v1h-1zM452.2 251.9h1v1h-1zM457.0 247.4h1v1h-1zM456.1 256.5h1v1h-1zM459.1 247.5h1v1h-1zM446.7 251.8h1v1h-1zM459.1 251.3h1v1h-1zM454.5 247.2h1v1h-1zM446.9 255.6h1v1h-1zM448.3 237.7h1v1h-1zM456.9 249.2h1v1h-1zM459.9 243.0h1v1h-1zM449.3 245.3h1v1h-1zM452.2 258.0h1v1h-1zM449.2 254.0h1v1h-1zM464.6 239.1h1v1h-1zM455.7 244.1h1v1h-1zM465.7 249.1h1v1h-1zM444.7 260.0h1v1h-1zM451.4 253.1h1v1h-1zM455.6 241.3h1v1h-1zM463.3 242.9h1v1h-1zM466.8 247.1h1v1h-1zM449.7 253.7h1v1h-1zM452.0 250.9h1v1h-1zM460.9 249.8h1v1h-1zM463.0 242.7h1v1h-1zM460.3 246.2h1v1h-1zM441.0 246.0h1v1h-1zM451.7 248.8h1v1h-1zM451.6 257.2h1v1h-1zM456.1 255.2h1v1h-1zM468.4 234.3h1v1h-1zM455.5 247.9h1v1h-1zM454.1 242.7h1v1h-1zM458.7 247.1h1v1h-1zM457.8 247.7h1v1h-1zM452.0 245.4h1v1h-1zM453.2 254.7h1v1h-1zM457.2 247.6h1v1h-1zM460.2 252.8h1v1h-1zM443.9 264.0h1v1h-1zM451.7 242.5h1v1h-1zM454.3 254.5h1v1h-1zM465.7 243.1h1v1h-1zM456.2 251.9h1v1h-1zM455.5 243.6h1v1h-1zM460.2 253.4h1v1h-1zM463.4 239.0h1v1h-1zM468.1 239.2h1v1h-1zM452.7 252.3h1v1h-1zM454.4 253.1h1v1h-1zM464.2 254.3h1v1h-1zM452.5 260.3h1v1h-1zM459.2 252.3h1v1h-1zM457.2 249.8h1v1h-1zM460.1 244.8h1v1h-1zM455.8 254.4h1v1h-1zM451.5 237.8h1v1h-1zM452.1 241.7h1v1h-1zM450.3 253.5h1v1h-1zM452.5 253.2h1v1h-1zM456.2 254.3h1v1h-1zM445.5 246.5h1v1h-1zM444.9 262.0h1v1h-1zM461.2 244.2h1v1h-1zM458.0 248.7h1v1h-1zM453.4 252.8h1v1h-1zM454.5 252.1h1v1h-1zM463.6 241.9h1v1h-1zM450.6 254.4h1v1h-1zM459.4 240.5h1v1h-1zM457.5 249.8h1v1h-1zM436.9 263.0h1v1h-1zM453.2 256.8h1v1h-1zM456.9 250.9h1v1h-1zM452.1 242.2h1v1h-1zM454.8 262.7h1v1h-1zM455.4 254.3h1v1h-1zM452.3 257.3h1v1h-1zM446.5 246.5h1v1h-1zM462.7 248.3h1v1h-1zM451.7 260.6h1v1h-1zM458.7 245.8h1v1h-1zM452.8 261.1h1v1h-1zM450.0 248.5h1v1h-1zM466.8 252.3h1v1h-1zM449.5 257.6h1v1h-1zM457.3 255.4h1v1h-1zM462.1 249.6h1v1h-1zM459.8 250.6h1v1h-1zM456.2 248.1h1v1h-1zM449.1 242.9h1v1h-1zM467.0 245.8h1v1h-1zM456.5 251.0h1v1h-1zM451.5 258.8h1v1h-1zM452.7 245.4h1v1h-1zM454.2 245.7h1v1h-1zM453.9 250.2h1v1h-1zM446.9 252.5h1v1h-1zM446.1 245.9h1v1h-1zM462.9 249.5h1v1h-1zM457.4 260.2h1v1h-1zM458.2 251.7h1v1h-1zM447.1 254.3h1v1h-1zM447.4 259.3h1v1h-1zM454.4 257.5h1v1h-1zM460.8 255.1h1v1h-1zM455.2 256.1h1v1h-1zM457.0 246.0h1v1h-1zM447.9 246.1h1v1h-1zM455.1 246.1h1v1h-1zM460.0 248.7h1v1h-1zM450.3 254.6h1v1h-1zM453.0 249.5h1v1h-1zM461.6 249.3h1v1h-1zM460.1 241.6h1v1h-1zM449.2 247.0h1v1h-1zM453.2 260.3h1v1h-1zM455.8 238.2h1v1h-1zM437.1 256.3h1v1h-1zM451.0 248.6h1v1h-1zM457.6 244.0h1v1h-1zM463.5 249.5h1v1h-1zM447.3 254.6h1v1h-1zM453.1 257.0h1v1h-1zM457.0 247.6h1v1h-1zM466.3 248.4h1v1h-1zM449.7 242.9h1v1h-1zM471.6 247.2h1v1h-1zM453.2 257.2h1v1h-1zM454.0 254.8h1v1h-1zM452.6 249.2h1v1h-1zM448.6 255.7h1v1h-1zM457.8 245.5h1v1h-1zM454.8 245.4h1v1h-1zM447.0 253.6h1v1h-1zM464.7 249.7h1v1h-1zM448.9 262.5h1v1h-1zM454.0 248.2h1v1h-1zM457.4 248.8h1v1h-1zM460.0 249.0h1v1h-1zM456.9 243.9h1v1h-1zM473.0 237.5h1v1h-1zM448.8 262.6h1v1h-1zM455.7 257.7h1v1h-1zM449.0 259.3h1v1h-1zM460.8 244.4h1v1h-1zM446.4 256.4h1v1h-1zM458.6 254.3h1v1h-1zM458.8 245.2h1v1h-1zM457.7 252.3h1v1h-1zM454.5 247.6h1v1h-1zM459.4 252.8h1v1h-1zM466.4 246.3h1v1h-1zM453.5 249.7h1v1h-1zM451.7 249.4h1v1h-1zM450.2 241.0h1v1h-1zM471.1 241.1h1v1h-1zM467.4 240.0h1v1h-1zM458.9 251.1h1v1h-1zM455.2 249.0h1v1h-1zM449.8 242.7h1v1h-1zM458.5 252.0h1v1h-1zM451.6 248.5h1v1h-1zM470.1 242.9h1v1h-1zM443.8 256.8h1v1h-1zM453.5 244.3h1v1h-1zM447.1 253.0h1v1h-1zM462.2 242.1h1v1h-1zM455.6 257.1h1v1h-1zM439.9 254.7h1v1h-1zM453.4 243.8h1v1h-1zM463.5 257.4h1v1h-1zM461.7 248.1h1v1h-1zM454.8 250.4h1v1h-1zM455.2 257.2h1v1h-1zM456.0 241.0h1v1h-1zM467.5 238.5h1v1h-1zM469.4 229.4h1v1h-1zM463.5 221.5h1v1h-1zM474.5 239.8h1v1h-1zM473.0 231.1h1v1h-1zM464.4 241.2h1v1h-1zM469.0 234.2h1v1h-1zM467.2 226.5h1v1h-1zM475.4 226.5h1v1h-1zM468.7 219.9h1v1h-1zM472.2 228.7h1v1h-1zM474.1 232.2h1v1h-1zM472.2 232.9h1v1h-1zM474.1 238.3h1v1h-1zM470.6 225.4h1v1h-1zM463.7 223.8h1v1h-1zM474.6 229.7h1v1h-1zM466.2 234.5h1v1h-1zM472.1 231.9h1v1h-1zM465.0 232.7h1v1h-1zM465.3 230.0h1v1h-1zM470.6 218.2h1v1h-1zM469.6 226.9h1v1h-1zM464.3 233.6h1v1h-1zM475.5 225.8h1v1h-1zM473.1 230.9h1v1h-1zM464.4 242.2h1v1h-1zM479.0 224.5h1v1h-1zM470.1 231.7h1v1h-1zM469.0 231.1h1v1h-1zM472.6 223.6h1v1h-1zM471.1 227.5h1v1h-1zM470.4 242.3h1v1h-1zM477.0 231.4h1v1h-1zM475.7 227.7h1v1h-1zM461.4 232.7h1v1h-1zM470.9 231.4h1v1h-1zM469.5 223.7h1v1h-1zM464.4 225.0h1v1h-1zM472.4 236.4h1v1h-1zM474.5 230.4h1v1h-1zM458.8 232.0h1v1h-1zM473.4 234.8h1v1h-1zM467.2 228.8h1v1h-1zM469.4 233.1h1v1h-1zM475.7 227.8h1v1h-1zM468.7 227.4h1v1h-1zM470.8 236.2h1v1h-1zM469.2 230.9h1v1h-1zM472.3 239.0h1v1h-1zM476.3 232.6h1v1h-1zM464.9 232.7h1v1h-1zM471.6 230.1h1v1h-1zM463.9 236.8h1v1h-1zM469.9 228.8h1v1h-1zM464.2 230.2h1v1h-1zM470.1 236.5h1v1h-1zM464.3 232.5h1v1h-1zM469.1 235.8h1v1h-1zM474.5 233.8h1v1h-1zM479.2 235.3h1v1h-1zM462.2 231.1h1v1h-1zM478.5 232.1h1v1h-1zM471.4 224.9h1v1h-1zM460.1 227.6h1v1h-1zM471.7 230.2h1v1h-1zM474.0 241.8h1v1h-1zM464.2 228.7h1v1h-1zM464.3 230.0h1v1h-1zM468.2 227.0h1v1h-1zM478.5 231.1h1v1h-1zM473.5 232.0h1v1h-1zM473.3 237.9h1v1h-1zM461.5 233.6h1v1h-1zM475.5 232.9h1v1h-1zM474.4 226.8h1v1h-1zM467.5 229.7h1v1h-1zM476.1 242.0h1v1h-1zM477.4 226.9h1v1h-1zM468.9 219.9h1v1h-1zM471.4 232.9h1v1h-1zM471.5 233.5h1v1h-1zM469.7 227.9h1v1h-1zM466.4 243.6h1v1h-1zM468.0 232.5h1v1h-1zM472.4 228.6h1v1h-1zM464.8 239.3h1v1h-1zM467.4 231.9h1v1h-1zM471.5 228.3h1v1h-1zM476.7 236.6h1v1h-1zM466.4 231.8h1v1h-1zM464.6 237.0h1v1h-1zM468.9 220.9h1v1h-1zM469.4 237.7h1v1h-1zM472.7 235.8h1v1h-1zM466.8 239.5h1v1h-1zM464.2 231.3h1v1h-1zM458.5 227.7h1v1h-1zM476.1 233.0h1v1h-1zM474.8 232.1h1v1h-1zM474.8 238.3h1v1h-1zM465.1 235.1h1v1h-1zM476.9 236.3h1v1h-1zM467.2 228.8h1v1h-1zM472.8 227.0h1v1h-1zM460.9 237.5h1v1h-1zM477.6 237.1h1v1h-1zM474.9 229.1h1v1h-1zM467.5 242.6h1v1h-1zM466.1 228.5h1v1h-1zM476.0 230.2h1v1h-1zM478.1 228.8h1v1h-1zM472.1 228.0h1v1h-1zM472.5 230.9h1v1h-1zM467.1 229.9h1v1h-1zM461.8 236.5h1v1h-1zM470.4 227.9h1v1h-1zM469.4 223.4h1v1h-1zM466.7 234.7h1v1h-1zM473.8 221.9h1v1h-1zM480.9 225.4h1v1h-1zM469.1 228.8h1v1h-1zM473.0 230.4h1v1h-1zM472.5 224.8h1v1h-1zM467.5 228.6h1v1h-1zM471.3 239.4h1v1h-1zM463.1 227.3h1v1h-1zM465.7 223.0h1v1h-1zM467.9 225.6h1v1h-1zM476.2 230.3h1v1h-1zM470.9 228.4h1v1h-1zM468.4 234.2h1v1h-1zM459.1 229.0h1v1h-1zM471.2 228.3h1v1h-1zM463.7 228.7h1v1h-1zM472.1 229.1h1v1h-1zM467.3 233.7h1v1h-1zM468.2 236.0h1v1h-1zM467.2 233.1h1v1h-1zM459.0 220.6h1v1h-1zM473.5 230.9h1v1h-1zM462.4 232.1h1v1h-1zM461.5 241.0h1v1h-1zM473.4 238.0h1v1h-1zM471.5 234.9h1v1h-1zM466.0 231.1h1v1h-1zM468.6 226.6h1v1h-1zM471.7 225.0h1v1h-1zM469.4 240.7h1v1h-1zM466.2 240.5h1v1h-1zM467.1 237.9h1v1h-1zM455.5 238.4h1v1h-1zM461.3 236.4h1v1h-1zM460.2 243.6h1v1h-1zM459.7 238.8h1v1h-1zM467.0 237.9h1v1h-1zM461.9 239.5h1v1h-1zM462.9 237.4h1v1h-1zM454.7 236.2h1v1h-1zM463.0 237.9h1v1h-1zM458.6 234.3h1v1h-1zM461.8 235.3h1v1h-1zM461.1 231.1h1v1h-1zM460.8 241.3h1v1h-1zM459.4 236.2h1v1h-1zM459.3 233.3h1v1h-1zM459.6 238.0h1v1h-1zM463.6 238.9h1v1h-1zM471.2 245.3h1v1h-1zM458.9 248.6h1v1h-1zM465.7 242.7h1v1h-1zM457.1 242.6h1v1h-1zM459.5 230.7h1v1h-1zM458.8 244.8h1v1h-1zM465.8 241.7h1v1h-1zM469.3 241.4h1v1h-1zM456.7 237.6h1v1h-1zM460.1 238.2h1v1h-1zM457.1 245.7h1v1h-1zM469.2 237.0h1v1h-1zM450.2 244.1h1v1h-1zM462.6 239.6h1v1h-1zM461.0 230.2h1v1h-1zM462.0 240.5h1v1h-1zM466.1 241.3h1v1h-1zM459.5 234.5h1v1h-1zM465.5 242.1h1v1h-1zM459.1 239.7h1v1h-1zM462.2 241.3h1v1h-1zM472.4 233.1h1v1h-1zM459.6 241.0h1v1h-1zM457.3 242.6h1v1h-1zM464.7 234.1h1v1h-1zM465.0 237.1h1v1h-1zM461.5 240.6h1v1h-1zM460.0 235.1h1v1h-1zM456.3 241.6h1v1h-1zM463.7 231.2h1v1h-1zM465.2 242.5h1v1h-1zM453.2 235.5h1v1h-1zM464.9 235.1h1v1h-1zM461.8 241.2h1v1h-1zM461.0 236.5h1v1h-1zM463.5 238.8h1v1h-1zM458.0 238.6h1v1h-1zM462.0 233.1h1v1h-1zM468.2 239.3h1v1h-1zM461.9 239.4h1v1h-1zM455.5 240.4h1v1h-1zM461.8 245.5h1v1h-1zM471.9 233.7h1v1h-1zM470.6 244.0h1v1h-1zM455.2 239.7h1v1h-1zM470.5 237.3h1v1h-1zM459.5 235.5h1v1h-1zM468.9 238.9h1v1h-1zM455.6 231.4h1v1h-1zM464.6 245.2h1v1h-1zM470.7 239.6h1v1h-1zM462.5 241.4h1v1h-1zM456.7 244.4h1v1h-1zM466.8 237.8h1v1h-1zM454.4 237.5h1v1h-1zM457.3 240.6h1v1h-1zM465.0 247.2h1v1h-1zM464.8 230.6h1v1h-1zM462.7 237.0h1v1h-1zM452.7 234.5h1v1h-1zM464.1 242.8h1v1h-1zM460.9 231.2h1v1h-1zM464.0 229.3h1v1h-1zM456.2 244.2h1v1h-1zM454.6 241.4h1v1h-1zM460.1 239.9h1v1h-1zM458.4 236.5h1v1h-1zM463.8 248.6h1v1h-1zM456.2 232.9h1v1h-1zM456.1 242.5h1v1h-1zM465.7 244.1h1v1h-1zM465.2 237.8h1v1h-1zM465.2 234.1h1v1h-1zM457.5 240.6h1v1h-1zM463.8 235.8h1v1h-1zM467.6 237.7h1v1h-1zM465.1 240.3h1v1h-1zM454.5 242.6h1v1h-1zM463.7 235.3h1v1h-1zM456.7 240.8h1v1h-1zM454.4 237.8h1v1h-1zM465.5 239.5h1v1h-1zM465.7 236.2h1v1h-1zM459.1 235.1h1v1h-1zM459.3 241.9h1v1h-1zM460.4 241.0h1v1h-1zM468.9 236.6h1v1h-1zM457.6 237.1h1v1h-1zM461.4 240.6h1v1h-1zM454.3 239.2h1v1h-1zM460.5 241.8h1v1h-1zM457.9 225.4h1v1h-1zM468.2 238.6h1v1h-1zM464.7 239.5h1v1h-1zM465.9 241.8h1v1h-1zM464.9 237.5h1v1h-1zM467.0 240.7h1v1h-1zM459.1 242.1h1v1h-1zM467.4 236.2h1v1h-1zM457.7 236.6h1v1h-1zM455.8 240.6h1v1h-1zM465.1 235.4h1v1h-1zM440.6 256.9h1v1h-1zM436.8 259.7h1v1h-1zM428.7 255.3h1v1h-1zM434.5 258.9h1v1h-1zM453.7 264.4h1v1h-1zM452.2 257.5h1v1h-1zM427.7 263.4h1v1h-1zM450.0 254.0h1v1h-1zM436.6 262.4h1v1h-1zM460.1 258.2h1v1h-1zM434.1 258.5h1v1h-1zM443.9 256.8h1v1h-1zM440.6 262.4h1v1h-1zM452.7 259.8h1v1h-1zM443.6 252.9h1v1h-1zM454.4 263.3h1v1h-1zM442.3 252.6h1v1h-1zM451.8 253.8h1v1h-1zM444.9 260.7h1v1h-1zM447.7 261.8h1v1h-1zM455.7 260.5h1v1h-1zM453.9 258.2h1v1h-1zM452.3 252.5h1v1h-1zM447.1 261.7h1v1h-1zM437.0 262.8h1v1h-1zM456.3 262.4h1v1h-1zM441.6 259.4h1v1h-1zM423.2 251.9h1v1h-1zM456.0 260.4h1v1h-1zM441.3 254.4h1v1h-1zM444.3 258.8h1v1h-1zM444.6 261.5h1v1h-1zM455.5 261.7h1v1h-1zM446.1 254.1h1v1h-1zM432.5 257.6h1v1h-1zM451.2 256.2h1v1h-1zM432.6 260.3h1v1h-1zM453.4 255.8h1v1h-1zM433.9 257.4h1v1h-1zM444.1 250.2h1v1h-1zM451.7 256.8h1v1h-1zM435.9 258.0h1v1h-1zM439.2 265.5h1v1h-1zM449.8 258.6h1v1h-1zM442.3 260.2h1v1h-1zM450.2 263.7h1v1h-1zM451.0 261.5h1v1h-1zM440.2 259.4h1v1h-1zM445.7 258.5h1v1h-1zM442.7 257.9h1v1h-1zM452.4 264.2h1v1h-1zM457.1 257.1h1v1h-1zM435.3 258.0h1v1h-1zM448.0 263.0h1v1h-1zM446.8 263.8h1v1h-1zM453.6 259.3h1v1h-1zM454.3 252.8h1v1h-1zM436.7 253.1h1v1h-1zM448.1 261.8h1v1h-1zM448.3 253.5h1v1h-1zM452.4 257.6h1v1h-1zM458.8 257.8h1v1h-1zM443.4 252.1h1v1h-1zM446.3 261.9h1v1h-1zM446.4 259.2h1v1h-1zM444.0 260.0h1v1h-1zM455.9 257.2h1v1h-1zM452.4 262.8h1v1h-1zM442.9 260.2h1v1h-1zM442.0 257.9h1v1h-1zM447.5 264.0h1v1h-1zM424.8 255.4h1v1h-1zM452.4 257.0h1v1h-1zM442.1 260.5h1v1h-1zM454.5 252.9h1v1h-1zM443.7 260.6h1v1h-1zM447.1 256.8h1v1h-1zM432.9 254.3h1v1h-1zM449.7 260.7h1v1h-1zM451.7 258.1h1v1h-1zM439.5 261.1h1v1h-1zM447.8 257.7h1v1h-1zM439.3 258.1h1v1h-1zM446.6 258.7h1v1h-1zM444.0 264.0h1v1h-1zM448.8 263.6h1v1h-1zM450.1 262.8h1v1h-1zM454.4 258.1h1v1h-1zM449.5 258.3h1v1h-1zM447.5 261.8h1v1h-1zM456.8 259.2h1v1h-1zM454.2 253.8h1v1h-1zM449.0 260.7h1v1h-1zM456.1 256.9h1v1h-1zM441.8 259.6h1v1h-1zM442.2 257.5h1v1h-1zM454.2 261.7h1v1h-1zM452.0 258.0h1v1h-1zM435.1 258.1h1v1h-1zM439.1 251.6h1v1h-1zM445.8 257.4h1v1h-1zM448.8 259.2h1v1h-1zM433.0 264.5h1v1h-1zM445.8 251.8h1v1h-1zM447.5 259.7h1v1h-1zM441.6 250.6h1v1h-1zM455.5 265.5h1v1h-1zM460.7 262.1h1v1h-1zM435.8 253.6h1v1h-1zM439.5 265.1h1v1h-1zM447.9 263.3h1v1h-1zM442.9 252.6h1v1h-1zM457.6 264.0h1v1h-1zM453.5 256.4h1v1h-1zM441.9 263.0h1v1h-1zM456.7 261.3h1v1h-1zM458.3 253.1h1v1h-1zM441.9 258.2h1v1h-1zM445.7 260.7h1v1h-1zM444.8 252.9h1v1h-1zM455.9 264.2h1v1h-1zM439.7 260.9h1v1h-1zM446.4 257.3h1v1h-1zM451.8 260.8h1v1h-1zM447.9 262.3h1v1h-1zM436.5 264.6h1v1h-1zM435.8 256.4h1v1h-1zM452.7 258.9h1v1h-1zM450.4 255.1h1v1h-1zM449.4 259.3h1v1h-1zM465.9 258.0h1v1h-1zM446.9 256.3h1v1h-1zM449.0 259.4h1v1h-1zM444.0 257.2h1v1h-1zM455.9 261.7h1v1h-1zM441.2 257.2h1v1h-1zM444.6 257.3h1v1h-1zM458.8 259.2h1v1h-1zM448.3 252.3h1v1h-1zM441.5 262.9h1v1h-1zM456.7 263.4h1v1h-1zM445.8 262.3h1v1h-1zM434.5 260.0h1v1h-1zM442.5 260.8h1v1h-1zM455.6 257.1h1v1h-1zM450.1 254.9h1v1h-1zM445.4 257.0h1v1h-1zM449.8 255.0h1v1h-1zM443.4 256.9h1v1h-1zM441.1 256.1h1v1h-1zM439.9 248.8h1v1h-1zM454.2 255.0h1v1h-1zM450.9 263.3h1v1h-1zM483.7 224.2h1v1h-1zM481.8 216.9h1v1h-1zM481.8 213.6h1v1h-1zM482.1 211.8h1v1h-1zM480.5 214.6h1v1h-1zM489.5 216.7h1v1h-1zM480.4 220.5h1v1h-1zM482.9 226.5h1v1h-1zM481.4 215.5h1v1h-1zM483.8 211.9h1v1h-1zM477.2 220.7h1v1h-1zM478.7 217.1h1v1h-1zM477.9 219.4h1v1h-1zM481.6 217.0h1v1h-1zM479.9 219.6h1v1h-1zM479.9 217.9h1v1h-1zM479.4 222.1h1v1h-1zM481.0 214.0h1v1h-1zM481.7 216.9h1v1h-1zM478.8 222.3h1v1h-1zM483.3 213.3h1v1h-1zM480.8 219.0h1v1h-1zM480.9 217.7h1v1h-1zM480.0 214.8h1v1h-1zM478.2 205.3h1v1h-1zM475.2 214.7h1v1h-1zM482.5 214.0h1v1h-1zM481.2 224.0h1v1h-1zM486.3 209.6h1v1h-1zM486.5 219.9h1v1h-1zM478.8 216.8h1v1h-1zM483.5 219.8h1v1h-1zM475.2 216.8h1v1h-1zM477.2 213.9h1v1h-1zM477.8 212.8h1v1h-1zM482.0 220.6h1v1h-1zM480.0 212.3h1v1h-1zM477.7 214.6h1v1h-1zM479.6 215.7h1v1h-1zM489.8 206.3h1v1h-1zM481.4 253.5h1v1h-1zM474.2 253.8h1v1h-1zM474.1 264.1h1v1h-1zM469.5 254.6h1v1h-1zM482.3 265.1h1v1h-1zM475.7 248.7h1v1h-1zM462.0 262.1h1v1h-1zM473.5 240.2h1v1h-1zM473.2 250.8h1v1h-1zM468.7 248.9h1v1h-1zM473.4 248.2h1v1h-1zM461.1 257.6h1v1h-1zM488.8 254.9h1v1h-1zM478.8 254.9h1v1h-1zM473.3 264.6h1v1h-1zM475.2 260.5h1v1h-1zM460.3 254.6h1v1h-1zM456.0 247.5h1v1h-1zM488.9 262.8h1v1h-1zM480.4 256.1h1v1h-1zM478.6 265.4h1v1h-1zM485.7 253.2h1v1h-1zM467.2 257.9h1v1h-1zM472.9 256.3h1v1h-1zM479.2 254.1h1v1h-1zM491.2 263.0h1v1h-1zM469.6 251.1h1v1h-1zM470.6 264.4h1v1h-1zM490.1 251.3h1v1h-1zM462.8 256.0h1v1h-1zM474.4 250.5h1v1h-1zM465.9 252.0h1v1h-1zM478.6 258.6h1v1h-1zM464.4 253.0h1v1h-1zM474.0 256.1h1v1h-1zM465.8 251.7h1v1h-1zM469.8 262.0h1v1h-1zM469.7 258.4h1v1h-1zM478.3 258.6h1v1h-1zM468.3 252.5h1v1h-1zM472.6 257.7h1v1h-1zM474.2 265.1h1v1h-1zM481.4 256.8h1v1h-1zM459.3 256.9h1v1h-1zM467.5 251.5h1v1h-1zM473.4 249.8h1v1h-1zM488.5 258.2h1v1h-1zM465.7 255.0h1v1h-1zM479.8 256.7h1v1h-1zM481.1 252.6h1v1h-1zM477.4 251.0h1v1h-1zM475.8 252.8h1v1h-1zM474.3 260.6h1v1h-1zM484.5 263.0h1v1h-1zM464.0 243.4h1v1h-1zM478.2 237.7h1v1h-1zM491.1 237.0h1v1h-1zM462.0 260.9h1v1h-1zM474.4 260.9h1v1h-1zM477.2 260.8h1v1h-1zM466.0 250.1h1v1h-1zM469.5 253.8h1v1h-1zM468.4 258.8h1v1h-1zM474.4 256.5h1v1h-1zM479.3 256.4h1v1h-1zM473.2 264.9h1v1h-1zM461.7 258.6h1v1h-1zM462.1 262.1h1v1h-1zM478.9 259.5h1v1h-1zM481.2 251.4h1v1h-1zM483.6 256.2h1v1h-1zM476.7 250.8h1v1h-1zM482.9 251.8h1v1h-1zM473.8 250.7h1v1h-1zM478.1 250.1h1v1h-1zM473.5 254.1h1v1h-1zM471.2 251.3h1v1h-1zM482.6 252.6h1v1h-1zM468.4 260.3h1v1h-1zM471.6 247.5h1v1h-1zM474.7 257.1h1v1h-1zM461.7 257.3h1v1h-1zM481.4 255.7h1v1h-1zM484.2 255.5h1v1h-1zM472.7 253.1h1v1h-1zM467.8 260.9h1v1h-1zM481.8 245.7h1v1h-1zM484.1 260.1h1v1h-1zM464.7 246.3h1v1h-1zM486.3 264.6h1v1h-1zM469.4 261.7h1v1h-1zM464.5 243.2h1v1h-1zM479.4 253.8h1v1h-1zM450.7 258.1h1v1h-1zM473.9 253.4h1v1h-1zM474.2 255.5h1v1h-1zM476.4 253.7h1v1h-1zM468.2 259.8h1v1h-1zM474.8 254.8h1v1h-1zM480.2 249.3h1v1h-1zM482.3 257.8h1v1h-1zM474.9 260.8h1v1h-1zM474.0 249.5h1v1h-1zM463.1 252.7h1v1h-1zM469.1 261.5h1v1h-1zM473.1 244.3h1v1h-1zM466.4 261.2h1v1h-1zM480.3 252.7h1v1h-1zM469.5 248.1h1v1h-1zM461.5 264.6h1v1h-1zM468.6 263.0h1v1h-1zM478.3 249.4h1v1h-1zM482.7 258.9h1v1h-1zM481.4 259.8h1v1h-1zM476.3 248.2h1v1h-1zM473.0 257.3h1v1h-1zM465.3 257.2h1v1h-1zM469.6 264.3h1v1h-1zM466.0 246.0h1v1h-1zM476.5 262.5h1v1h-1zM476.2 246.7h1v1h-1zM474.4 255.0h1v1h-1zM468.9 262.1h1v1h-1zM478.3 255.1h1v1h-1zM475.8 252.5h1v1h-1zM468.9 253.0h1v1h-1zM462.2 258.6h1v1h-1zM473.5 263.7h1v1h-1zM482.9 251.7h1v1h-1zM469.5 242.6h1v1h-1zM464.7 255.6h1v1h-1zM462.8 258.9h1v1h-1zM474.2 244.6h1v1h-1zM475.7 244.2h1v1h-1zM469.8 242.7h1v1h-1zM464.9 248.0h1v1h-1zM485.3 248.8h1v1h-1zM469.7 254.0h1v1h-1zM474.2 245.2h1v1h-1zM475.5 249.7h1v1h-1zM476.6 252.4h1v1h-1zM470.9 258.9h1v1h-1z" fill="#b83838" fill-opacity="0.5"/>
<path d="M461.2 251.4h1v1h-1zM460.6 243.9h1v1h-1zM460.5 242.0h1v1h-1zM460.6 259.9h1v1h-1zM453.2 257.2h1v1h-1zM455.4 252.9h1v1h-1zM450.8 263.0h1v1h-1zM455.5 249.8h1v1h-1zM456.0 247.0h1v1h-1zM462.5 247.8h1v1h-1zM458.0 244.3h1v1h-1zM456.0 250.5h1v1h-1zM463.5 251.6h1v1h-1zM457.1 248.8h1v1h-1zM467.4 247.2h1v1h-1zM454.6 253.4h1v1h-1zM448.1 261.1h1v1h-1zM452.8 249.4h1v1h-1zM456.2 254.0h1v1h-1zM461.9 240.3h1v1h-1zM459.1 251.8h1v1h-1zM452.2 252.6h1v1h-1zM455.4 252.0h1v1h-1zM454.5 254.2h1v1h-1zM455.9 248.3h1v1h-1zM464.1 238.1h1v1h-1zM457.4 252.9h1v1h-1zM457.9 257.2h1v1h-1zM458.6 251.6h1v1h-1zM456.5 247.6h1v1h-1zM451.8 258.5h1v1h-1zM468.6 246.3h1v1h-1zM452.9 260.1h1v1h-1zM455.2 251.4h1v1h-1zM453.0 255.9h1v1h-1zM458.5 244.7h1v1h-1zM462.0 248.0h1v1h-1zM456.6 257.1h1v1h-1zM463.9 247.0h1v1h-1zM457.0 257.2h1v1h-1zM455.2 249.4h1v1h-1zM455.7 254.9h1v1h-1zM475.3 241.9h1v1h-1zM452.8 259.9h1v1h-1zM453.2 251.2h1v1h-1zM471.4 234.8h1v1h-1zM455.9 255.7h1v1h-1zM458.1 249.7h1v1h-1zM450.6 261.9h1v1h-1zM447.1 253.1h1v1h-1zM449.0 252.6h1v1h-1zM455.0 253.8h1v1h-1zM453.9 258.1h1v1h-1zM457.7 250.8h1v1h-1zM459.2 250.8h1v1h-1zM453.2 253.8h1v1h-1zM451.2 262.3h1v1h-1zM450.5 252.3h1v1h-1zM455.6 254.8h1v1h-1zM455.9 252.3h1v1h-1zM456.7 251.1h1v1h-1zM458.5 245.8h1v1h-1zM463.6 241.8h1v1h-1zM456.5 254.7h1v1h-1zM453.9 257.7h1v1h-1zM463.6 236.5h1v1h-1zM455.8 256.3h1v1h-1zM454.6 252.7h1v1h-1zM457.6 252.7h1v1h-1zM457.8 260.1h1v1h-1zM461.2 246.8h1v1h-1zM452.7 256.7h1v1h-1zM456.3 247.9h1v1h-1zM454.3 255.1h1v1h-1zM463.6 247.6h1v1h-1zM458.1 253.4h1v1h-1zM449.3 259.8h1v1h-1zM453.0 263.0h1v1h-1zM463.3 250.0h1v1h-1zM463.6 245.0h1v1h-1zM457.1 251.0h1v1h-1zM459.4 246.6h1v1h-1zM458.5 250.0h1v1h-1zM454.1 246.1h1v1h-1zM461.6 243.5h1v1h-1zM456.4 244.2h1v1h-1zM448.2 260.0h1v1h-1zM448.0 248.8h1v1h-1zM451.4 258.1h1v1h-1zM455.4 247.7h1v1h-1zM457.7 251.2h1v1h-1zM456.2 257.2h1v1h-1zM461.3 243.3h1v1h-1zM454.2 260.9h1v1h-1zM462.4 248.5h1v1h-1zM462.9 247.0h1v1h-1zM452.3 263.3h1v1h-1zM453.1 258.3h1v1h-1zM463.4 247.7h1v1h-1zM469.6 242.0h1v1h-1zM454.7 251.1h1v1h-1zM456.2 254.9h1v1h-1zM450.5 257.5h1v1h-1zM456.9 250.8h1v1h-1zM459.3 253.4h1v1h-1zM462.6 249.1h1v1h-1zM464.6 250.2h1v1h-1zM454.9 253.0h1v1h-1zM458.0 256.9h1v1h-1zM452.0 262.8h1v1h-1zM454.9 257.4h1v1h-1zM461.7 250.3h1v1h-1zM454.7 254.0h1v1h-1zM453.4 256.1h1v1h-1zM458.9 242.3h1v1h-1zM448.4 260.6h1v1h-1zM459.3 243.9h1v1h-1zM454.4 255.7h1v1h-1zM461.8 256.1h1v1h-1zM452.1 258.9h1v1h-1zM449.2 250.9h1v1h-1zM452.9 246.7h1v1h-1zM455.8 251.3h1v1h-1zM462.0 248.8h1v1h-1zM445.4 257.1h1v1h-1zM460.5 250.4h1v1h-1zM465.4 246.4h1v1h-1zM451.1 253.7h1v1h-1zM455.1 252.8h1v1h-1zM462.4 248.2h1v1h-1zM457.9 248.9h1v1h-1zM458.7 254.5h1v1h-1zM458.3 251.1h1v1h-1zM458.9 253.3h1v1h-1zM456.8 251.0h1v1h-1zM456.1 248.2h1v1h-1zM451.5 254.6h1v1h-1zM459.5 248.0h1v1h-1zM463.0 240.1h1v1h-1zM453.4 250.9h1v1h-1zM455.7 250.5h1v1h-1zM457.1 255.9h1v1h-1zM448.4 263.9h1v1h-1zM453.3 254.4h1v1h-1zM447.8 250.5h1v1h-1zM442.8 261.3h1v1h-1zM452.8 259.6h1v1h-1zM459.6 249.7h1v1h-1zM451.7 254.4h1v1h-1zM456.2 254.0h1v1h-1zM444.4 264.1h1v1h-1zM455.6 248.9h1v1h-1zM457.1 242.7h1v1h-1zM447.6 255.8h1v1h-1zM462.2 240.7h1v1h-1zM454.4 244.4h1v1h-1zM450.1 255.7h1v1h-1zM456.9 250.7h1v1h-1zM450.4 255.2h1v1h-1zM446.2 259.7h1v1h-1zM459.1 252.2h1v1h-1zM456.8 248.2h1v1h-1zM452.1 255.6h1v1h-1zM456.4 250.0h1v1h-1zM450.4 261.7h1v1h-1zM461.5 254.4h1v1h-1zM466.9 251.6h1v1h-1zM453.6 254.4h1v1h-1zM466.2 242.7h1v1h-1zM456.4 253.2h1v1h-1zM463.5 252.9h1v1h-1zM459.8 249.1h1v1h-1zM460.6 251.7h1v1h-1zM455.0 262.0h1v1h-1zM458.7 248.9h1v1h-1zM455.3 246.6h1v1h-1zM456.3 250.2h1v1h-1zM455.5 256.1h1v1h-1zM456.9 247.4h1v1h-1zM453.7 254.3h1v1h-1zM461.8 257.5h1v1h-1zM453.4 254.5h1v1h-1zM449.4 257.9h1v1h-1zM457.2 251.6h1v1h-1zM454.7 249.1h1v1h-1zM447.5 260.2h1v1h-1zM464.8 253.4h1v1h-1zM448.5 262.2h1v1h-1zM460.2 255.2h1v1h-1zM465.1 245.8h1v1h-1zM457.5 251.5h1v1h-1zM457.8 254.3h1v1h-1zM452.0 250.0h1v1h-1zM455.9 251.8h1v1h-1zM448.0 253.2h1v1h-1zM472.2 244.3h1v1h-1zM462.8 249.0h1v1h-1zM457.4 250.7h1v1h-1zM461.8 247.4h1v1h-1zM455.7 248.0h1v1h-1zM452.0 250.3h1v1h-1zM455.8 252.3h1v1h-1zM455.3 248.6h1v1h-1zM461.0 245.6h1v1h-1zM454.9 252.9h1v1h-1zM448.1 262.4h1v1h-1zM462.2 248.3h1v1h-1zM457.1 255.9h1v1h-1zM454.7 252.5h1v1h-1zM458.6 252.9h1v1h-1zM459.6 252.6h1v1h-1zM457.5 253.1h1v1h-1zM451.7 257.3h1v1h-1zM447.7 260.5h1v1h-1zM463.6 258.0h1v1h-1zM456.2 260.3h1v1h-1zM453.1 253.5h1v1h-1zM452.5 256.8h1v1h-1zM458.6 247.2h1v1h-1zM451.7 252.9h1v1h-1zM461.1 250.4h1v1h-1zM450.9 264.8h1v1h-1zM463.3 248.9h1v1h-1zM440.7 265.1h1v1h-1zM456.0 249.0h1v1h-1zM460.5 246.5h1v1h-1zM454.6 252.7h1v1h-1zM458.1 250.5h1v1h-1zM455.6 251.6h1v1h-1zM460.1 249.2h1v1h-1zM462.3 254.2h1v1h-1zM452.5 250.8h1v1h-1zM460.4 249.0h1v1h-1zM456.2 258.5h1v1h-1zM461.7 251.3h1v1h-1zM463.4 252.1h1v1h-1zM445.0 261.1h1v1h-1zM461.7 244.8h1v1h-1zM459.0 245.9h1v1h-1zM457.8 259.6h1v1h-1zM455.4 252.8h1v1h-1zM462.1 250.0h1v1h-1zM448.8 252.7h1v1h-1zM462.4 249.4h1v1h-1zM462.9 248.4h1v1h-1zM456.5 249.8h1v1h-1zM461.3 248.4h1v1h-1zM458.7 262.0h1v1h-1zM456.3 259.8h1v1h-1zM450.6 252.2h1v1h-1zM453.8 251.9h1v1h-1zM464.8 236.2h1v1h-1zM464.1 247.3h1v1h-1zM460.7 248.1h1v1h-1zM459.4 244.2h1v1h-1zM461.7 253.0h1v1h-1zM462.7 253.7h1v1h-1zM451.4 253.5h1v1h-1zM449.9 253.0h1v1h-1zM461.2 248.7h1v1h-1zM461.5 252.3h1v1h-1zM452.4 253.1h1v1h-1zM456.3 259.3h1v1h-1zM461.8 246.8h1v1h-1zM468.6 252.7h1v1h-1zM465.4 243.5h1v1h-1zM454.5 252.5h1v1h-1zM461.0 249.8h1v1h-1zM456.6 256.4h1v1h-1zM463.3 252.5h1v1h-1zM463.5 247.5h1v1h-1zM457.8 258.3h1v1h-1zM459.8 249.6h1v1h-1zM453.0 254.1h1v1h-1zM459.5 245.7h1v1h-1zM449.3 264.5h1v1h-1zM454.0 253.8h1v1h-1zM466.1 246.4h1v1h-1zM461.5 242.0h1v1h-1zM463.3 232.7h1v1h-1zM467.1 231.7h1v1h-1zM468.2 232.7h1v1h-1zM466.0 241.6h1v1h-1zM462.0 234.8h1v1h-1zM465.8 239.9h1v1h-1zM463.7 239.2h1v1h-1zM461.2 234.8h1v1h-1zM463.0 233.5h1v1h-1zM460.8 238.6h1v1h-1zM462.0 230.2h1v1h-1zM460.7 233.0h1v1h-1zM460.8 229.2h1v1h-1zM465.6 233.4h1v1h-1zM467.7 238.0h1v1h-1zM461.6 235.4h1v1h-1zM461.2 238.2h1v1h-1zM460.1 233.1h1v1h-1zM468.0 234.9h1v1h-1zM460.9 237.4h1v1h-1zM464.5 234.4h1v1h-1zM463.4 231.3h1v1h-1zM461.5 235.7h1v1h-1zM465.6 232.2h1v1h-1zM467.2 239.6h1v1h-1zM462.1 238.8h1v1h-1zM463.7 234.3h1v1h-1zM465.3 239.2h1v1h-1zM460.5 239.6h1v1h-1zM457.9 234.6h1v1h-1zM462.5 232.2h1v1h-1zM462.8 231.8h1v1h-1zM462.7 235.4h1v1h-1zM461.8 233.6h1v1h-1zM464.2 240.2h1v1h-1zM461.7 233.6h1v1h-1zM465.9 231.0h1v1h-1zM465.1 233.1h1v1h-1zM465.2 238.2h1v1h-1zM465.2 234.7h1v1h-1zM462.5 225.9h1v1h-1zM468.6 228.5h1v1h-1zM467.4 238.4h1v1h-1zM457.2 238.4h1v1h-1zM465.3 242.3h1v1h-1zM464.4 229.7h1v1h-1zM461.4 244.0h1v1h-1zM465.1 237.9h1v1h-1zM468.0 238.9h1v1h-1zM463.0 231.5h1v1h-1zM463.3 235.9h1v1h-1zM465.4 241.1h1v1h-1zM469.9 237.8h1v1h-1zM461.2 237.0h1v1h-1zM460.1 242.5h1v1h-1zM462.5 233.3h1v1h-1zM460.7 237.9h1v1h-1zM464.7 236.8h1v1h-1zM466.0 240.7h1v1h-1zM461.0 239.4h1v1h-1zM466.3 238.5h1v1h-1zM462.7 229.0h1v1h-1zM455.9 235.8h1v1h-1zM468.4 237.8h1v1h-1zM466.1 237.3h1v1h-1zM464.3 223.8h1v1h-1zM461.6 231.4h1v1h-1zM460.8 238.0h1v1h-1zM465.7 239.4h1v1h-1zM463.1 237.8h1v1h-1zM462.4 232.3h1v1h-1zM461.4 238.8h1v1h-1zM461.1 239.7h1v1h-1zM463.0 236.9h1v1h-1zM461.9 234.6h1v1h-1zM462.7 236.5h1v1h-1zM463.9 240.0h1v1h-1zM467.7 230.3h1v1h-1zM468.0 234.0h1v1h-1zM458.9 243.0h1v1h-1zM465.0 238.6h1v1h-1zM466.3 241.0h1v1h-1zM461.2 244.0h1v1h-1zM458.9 241.6h1v1h-1zM461.3 235.4h1v1h-1zM459.9 231.9h1v1h-1zM461.1 235.8h1v1h-1zM456.7 234.7h1v1h-1zM460.2 229.0h1v1h-1zM461.4 237.6h1v1h-1zM456.7 232.2h1v1h-1zM464.9 240.7h1v1h-1zM462.6 238.2h1v1h-1zM464.9 238.6h1v1h-1zM461.1 234.4h1v1h-1zM463.8 231.4h1v1h-1zM464.3 230.0h1v1h-1zM457.9 232.2h1v1h-1zM461.3 234.1h1v1h-1zM459.8 239.8h1v1h-1zM459.7 227.0h1v1h-1zM463.7 235.8h1v1h-1zM462.8 239.1h1v1h-1zM461.3 225.9h1v1h-1zM460.5 232.8h1v1h-1zM464.7 236.5h1v1h-1zM468.2 231.5h1v1h-1zM464.3 236.0h1v1h-1zM466.9 235.5h1v1h-1zM459.7 239.8h1v1h-1zM461.1 231.3h1v1h-1zM465.3 240.0h1v1h-1zM462.2 233.9h1v1h-1zM462.9 232.2h1v1h-1zM467.3 234.3h1v1h-1zM460.3 240.5h1v1h-1zM462.4 238.2h1v1h-1zM462.6 234.1h1v1h-1zM461.0 228.1h1v1h-1zM469.1 258.0h1v1h-1zM468.0 248.9h1v1h-1zM469.2 247.8h1v1h-1zM466.1 240.3h1v1h-1zM471.1 263.6h1v1h-1zM473.4 241.3h1v1h-1zM468.2 234.1h1v1h-1zM468.3 255.1h1v1h-1zM471.8 257.4h1v1h-1zM471.0 241.4h1v1h-1zM470.8 261.9h1v1h-1zM474.9 230.1h1v1h-1zM468.6 245.5h1v1h-1zM474.2 246.2h1v1h-1zM483.4 253.6h1v1h-1zM467.3 233.5h1v1h-1zM468.3 249.5h1v1h-1zM472.6 255.6h1v1h-1zM475.1 242.1h1v1h-1zM479.5 254.6h1v1h-1zM466.4 244.2h1v1h-1zM465.1 257.5h1v1h-1zM469.8 235.7h1v1h-1zM478.8 247.5h1v1h-1zM464.1 217.1h1v1h-1zM471.0 242.8h1v1h-1zM477.8 242.4h1v1h-1zM475.0 252.9h1v1h-1zM462.9 228.2h1v1h-1zM467.0 246.3h1v1h-1zM478.9 249.0h1v1h-1zM469.8 262.6h1v1h-1zM482.2 242.7h1v1h-1zM462.9 241.0h1v1h-1zM465.7 251.1h1v1h-1zM450.0 251.1h1v1h-1zM472.9 260.3h1v1h-1zM463.7 237.3h1v1h-1zM461.3 260.9h1v1h-1zM467.4 232.9h1v1h-1zM471.3 247.2h1v1h-1zM462.4 232.0h1v1h-1zM476.3 248.9h1v1h-1zM470.2 250.4h1v1h-1zM479.4 244.2h1v1h-1zM473.3 239.5h1v1h-1zM460.8 239.9h1v1h-1zM467.6 251.3h1v1h-1zM474.8 241.9h1v1h-1zM464.8 244.4h1v1h-1zM474.6 244.5h1v1h-1zM472.8 255.0h1v1h-1zM470.9 241.2h1v1h-1zM475.1 243.3h1v1h-1zM462.6 251.3h1v1h-1zM467.1 249.5h1v1h-1zM470.6 256.7h1v1h-1zM464.2 258.0h1v1h-1zM467.7 248.7h1v1h-1zM468.0 252.7h1v1h-1zM470.0 250.6h1v1h-1zM467.2 239.8h1v1h-1zM479.0 252.2h1v1h-1zM460.3 253.7h1v1h-1zM470.0 244.3h1v1h-1zM466.8 262.1h1v1h-1zM476.0 214.0h1v1h-1zM468.0 242.5h1v1h-1zM478.6 240.5h1v1h-1zM474.4 236.1h1v1h-1zM478.8 239.9h1v1h-1zM476.8 247.8h1v1h-1zM470.4 253.8h1v1h-1zM476.7 251.7h1v1h-1zM472.6 238.1h1v1h-1zM472.4 243.7h1v1h-1zM482.5 247.6h1v1h-1zM466.2 257.7h1v1h-1zM474.9 239.6h1v1h-1zM466.8 254.1h1v1h-1zM462.2 230.6h1v1h-1zM474.0 242.7h1v1h-1zM471.4 223.0h1v1h-1zM473.7 239.9h1v1h-1zM470.6 261.8h1v1h-1zM468.6 239.4h1v1h-1zM471.4 236.1h1v1h-1zM465.6 252.0h1v1h-1zM475.6 258.6h1v1h-1zM469.4 232.8h1v1h-1zM478.1 239.6h1v1h-1zM476.4 251.4h1v1h-1zM468.5 249.5h1v1h-1zM461.6 251.2h1v1h-1zM483.5 256.8h1v1h-1zM472.7 234.9h1v1h-1zM478.0 253.3h1v1h-1zM459.7 241.7h1v1h-1zM478.8 239.1h1v1h-1zM473.3 244.4h1v1h-1zM469.0 258.8h1v1h-1zM469.6 242.3h1v1h-1zM476.9 228.8h1v1h-1zM466.1 251.5h1v1h-1zM477.0 264.5h1v1h-1zM460.0 252.3h1v1h-1zM467.6 240.8h1v1h-1zM465.6 242.4h1v1h-1zM462.5 256.6h1v1h-1zM466.8 239.1h1v1h-1zM464.7 245.0h1v1h-1zM472.3 245.4h1v1h-1zM472.7 245.8h1v1h-1zM472.4 234.0h1v1h-1zM474.1 244.8h1v1h-1zM462.4 237.9h1v1h-1zM471.1 235.2h1v1h-1zM475.4 259.9h1v1h-1zM466.3 250.6h1v1h-1zM470.9 242.9h1v1h-1zM470.1 235.8h1v1h-1zM473.4 234.5h1v1h-1zM467.9 236.9h1v1h-1zM463.4 235.1h1v1h-1zM463.4 255.6h1v1h-1zM463.9 242.5h1v1h-1zM474.6 254.0h1v1h-1zM470.0 233.4h1v1h-1zM468.5 249.5h1v1h-1zM478.3 236.8h1v1h-1zM470.1 247.6h1v1h-1zM457.2 258.8h1v1h-1zM467.8 238.9h1v1h-1zM467.9 254.0h1v1h-1zM467.6 246.0h1v1h-1zM469.8 240.3h1v1h-1zM480.7 241.6h1v1h-1zM472.1 240.9h1v1h-1zM466.2 245.7h1v1h-1zM462.0 241.7h1v1h-1zM480.3 254.4h1v1h-1zM470.4 254.2h1v1h-1zM472.9 220.0h1v1h-1zM462.9 257.9h1v1h-1zM478.1 247.0h1v1h-1zM476.7 226.8h1v1h-1zM477.6 246.0h1v1h-1zM468.6 257.7h1v1h-1zM476.3 241.6h1v1h-1zM467.5 249.4h1v1h-1zM470.3 236.0h1v1h-1zM462.2 252.1h1v1h-1zM477.2 231.0h1v1h-1zM455.8 235.6h1v1h-1zM467.6 237.6h1v1h-1zM465.7 249.7h1v1h-1zM482.7 246.0h1v1h-1zM478.0 252.5h1v1h-1zM469.0 240.8h1v1h-1zM461.5 236.7h1v1h-1zM473.2 264.3h1v1h-1zM465.8 244.5h1v1h-1zM467.1 247.1h1v1h-1zM467.1 234.4h1v1h-1zM479.3 235.7h1v1h-1zM470.3 247.7h1v1h-1zM465.9 249.5h1v1h-1zM476.0 235.6h1v1h-1zM475.9 238.5h1v1h-1zM477.5 243.5h1v1h-1zM475.8 255.1h1v1h-1zM482.4 242.0h1v1h-1zM465.0 260.0h1v1h-1zM468.3 252.0h1v1h-1zM477.5 258.2h1v1h-1zM475.1 244.2h1v1h-1zM471.0 247.1h1v1h-1zM474.1 238.5h1v1h-1zM474.2 245.0h1v1h-1zM461.9 248.9h1v1h-1zM472.0 234.2h1v1h-1zM467.5 241.2h1v1h-1zM468.8 245.9h1v1h-1zM479.2 242.7h1v1h-1zM468.2 229.9h1v1h-1zM474.3 248.2h1v1h-1zM469.8 243.6h1v1h-1zM467.6 234.6h1v1h-1zM466.2 247.3h1v1h-1zM460.6 239.3h1v1h-1zM468.7 240.3h1v1h-1zM468.0 256.5h1v1h-1zM469.7 236.0h1v1h-1zM463.7 252.3h1v1h-1zM467.6 246.7h1v1h-1zM463.6 249.2h1v1h-1zM469.8 246.8h1v1h-1zM470.9 253.5h1v1h-1z" fill="#cc1010" fill-opacity="0.7"/>
<path d="M449.0 262.4h1v1h-1zM446.3 261.2h1v1h-1zM431.8 262.7h1v1h-1zM443.9 262.1h1v1h-1zM437.4 261.0h1v1h-1zM444.9 258.1h1v1h-1zM449.1 257.7h1v1h-1zM447.5 257.2h1v1h-1zM447.2 264.1h1v1h-1zM435.1 261.1h1v1h-1zM429.1 261.6h1v1h-1zM438.0 259.3h1v1h-1zM438.6 265.2h1v1h-1zM448.3 262.7h1v1h-1zM446.2 264.4h1v1h-1zM429.1 265.6h1v1h-1zM452.7 262.1h1v1h-1zM437.6 261.1h1v1h-1zM427.1 263.7h1v1h-1zM426.2 264.0h1v1h-1zM441.3 263.0h1v1h-1zM433.4 264.9h1v1h-1zM430.7 264.4h1v1h-1zM425.4 264.5h1v1h-1zM452.2 263.3h1v1h-1zM447.2 262.1h1v1h-1zM446.1 264.9h1v1h-1zM440.3 265.6h1v1h-1zM446.1 258.4h1v1h-1zM426.4 263.9h1v1h-1zM446.2 263.5h1v1h-1zM451.0 264.7h1v1h-1zM443.0 261.5h1v1h-1zM439.1 259.2h1v1h-1zM443.8 256.6h1v1h-1zM439.2 263.7h1v1h-1zM443.8 261.4h1v1h-1zM444.5 264.9h1v1h-1zM443.6 259.8h1v1h-1zM443.6 263.2h1v1h-1zM446.9 258.3h1v1h-1zM449.6 258.0h1v1h-1zM424.2 263.9h1v1h-1zM447.7 257.7h1v1h-1zM448.2 257.7h1v1h-1zM444.9 259.3h1v1h-1zM445.4 264.7h1v1h-1zM449.8 264.4h1v1h-1zM441.7 260.7h1v1h-1zM441.2 261.5h1v1h-1zM446.6 263.2h1v1h-1zM451.2 261.0h1v1h-1zM449.2 265.5h1v1h-1zM432.8 262.8h1v1h-1zM451.2 264.4h1v1h-1zM443.7 263.3h1v1h-1zM436.0 260.7h1v1h-1zM449.7 257.9h1v1h-1zM442.3 258.4h1v1h-1zM437.4 262.9h1v1h-1zM441.4 261.1h1v1h-1zM425.8 265.1h1v1h-1zM445.5 261.7h1v1h-1zM429.1 263.8h1v1h-1zM443.2 263.6h1v1h-1zM452.3 263.8h1v1h-1zM436.4 261.9h1v1h-1zM448.9 264.0h1v1h-1zM450.3 260.3h1v1h-1zM449.0 263.0h1v1h-1zM451.8 262.7h1v1h-1zM424.8 265.1h1v1h-1zM447.5 264.1h1v1h-1zM438.3 263.9h1v1h-1zM446.6 260.2h1v1h-1zM446.2 265.2h1v1h-1zM430.1 265.5h1v1h-1zM434.0 262.5h1v1h-1zM425.3 265.0h1v1h-1zM451.6 264.7h1v1h-1zM436.7 265.2h1v1h-1zM447.0 261.3h1v1h-1zM448.5 260.0h1v1h-1zM434.0 264.8h1v1h-1zM449.2 262.0h1v1h-1zM446.0 260.5h1v1h-1zM450.6 257.6h1v1h-1zM425.1 263.8h1v1h-1zM448.7 260.1h1v1h-1zM446.5 258.2h1v1h-1zM432.5 264.4h1v1h-1zM440.7 264.5h1v1h-1zM430.7 264.6h1v1h-1zM438.1 262.7h1v1h-1zM441.0 258.8h1v1h-1zM449.1 265.0h1v1h-1zM447.3 262.8h1v1h-1zM446.8 264.2h1v1h-1zM434.2 261.3h1v1h-1zM435.2 260.6h1v1h-1zM438.4 265.1h1v1h-1zM441.1 261.0h1v1h-1zM449.0 265.6h1v1h-1zM437.6 261.2h1v1h-1zM439.4 259.0h1v1h-1zM450.2 265.5h1v1h-1zM439.7 262.5h1v1h-1zM449.0 260.9h1v1h-1zM449.6 265.0h1v1h-1zM450.9 264.2h1v1h-1zM430.5 263.2h1v1h-1zM442.0 263.3h1v1h-1zM443.5 259.1h1v1h-1zM447.1 259.3h1v1h-1zM440.1 260.8h1v1h-1zM429.2 264.9h1v1h-1zM425.9 264.2h1v1h-1zM447.7 265.3h1v1h-1zM445.2 259.6h1v1h-1zM448.2 257.9h1v1h-1zM445.4 263.1h1v1h-1zM447.4 257.9h1v1h-1zM448.7 264.0h1v1h-1zM446.2 260.6h1v1h-1zM449.6 262.1h1v1h-1zM449.0 263.2h1v1h-1zM451.7 265.2h1v1h-1zM449.5 257.6h1v1h-1zM445.2 265.3h1v1h-1zM447.9 264.6h1v1h-1zM449.4 258.5h1v1h-1zM434.5 262.3h1v1h-1zM442.9 261.9h1v1h-1zM442.0 262.2h1v1h-1zM442.4 265.3h1v1h-1zM448.3 258.9h1v1h-1zM424.5 265.0h1v1h-1zM432.2 261.5h1v1h-1zM433.4 261.6h1v1h-1zM437.3 264.3h1v1h-1zM430.7 263.5h1v1h-1zM433.0 261.7h1v1h-1zM444.2 264.6h1v1h-1zM446.4 260.8h1v1h-1zM435.7 260.2h1v1h-1zM440.9 265.1h1v1h-1zM426.7 263.9h1v1h-1zM446.1 265.6h1v1h-1zM445.6 257.6h1v1h-1zM448.3 258.9h1v1h-1zM447.1 261.0h1v1h-1zM446.0 263.7h1v1h-1zM431.7 264.2h1v1h-1zM426.2 264.5h1v1h-1zM441.9 265.1h1v1h-1zM445.0 261.9h1v1h-1zM448.5 260.1h1v1h-1zM451.6 258.9h1v1h-1zM445.5 264.7h1v1h-1zM447.2 261.1h1v1h-1zM439.0 264.6h1v1h-1zM450.8 261.4h1v1h-1zM449.3 261.7h1v1h-1zM448.7 259.5h1v1h-1zM443.8 259.2h1v1h-1zM433.8 265.5h1v1h-1zM426.5 265.4h1v1h-1zM431.6 262.7h1v1h-1zM432.1 261.3h1v1h-1zM446.6 257.7h1v1h-1zM444.5 260.0h1v1h-1zM444.4 260.3h1v1h-1zM425.5 264.7h1v1h-1zM446.9 260.2h1v1h-1zM444.3 263.7h1v1h-1zM444.9 264.4h1v1h-1zM435.5 261.1h1v1h-1zM428.7 264.9h1v1h-1zM443.4 265.5h1v1h-1zM451.5 263.4h1v1h-1zM434.6 262.9h1v1h-1zM434.0 262.4h1v1h-1zM431.7 261.6h1v1h-1zM449.1 258.4h1v1h-1zM450.5 262.4h1v1h-1zM447.9 258.0h1v1h-1zM443.7 260.8h1v1h-1zM429.4 264.3h1v1h-1zM430.1 264.4h1v1h-1zM434.4 261.0h1v1h-1zM447.2 264.5h1v1h-1zM441.8 264.6h1v1h-1zM433.6 262.1h1v1h-1zM441.8 264.4h1v1h-1zM442.5 263.7h1v1h-1zM440.2 260.7h1v1h-1zM436.4 264.0h1v1h-1zM446.4 264.6h1v1h-1zM445.5 258.5h1v1h-1zM433.4 262.1h1v1h-1zM444.4 257.4h1v1h-1zM445.8 262.3h1v1h-1zM439.5 260.8h1v1h-1zM449.5 263.3h1v1h-1zM437.0 260.5h1v1h-1zM434.4 260.3h1v1h-1zM433.4 263.3h1v1h-1zM450.0 257.6h1v1h-1zM432.0 265.5h1v1h-1zM441.1 261.4h1v1h-1zM447.3 258.0h1v1h-1zM443.6 257.2h1v1h-1zM443.9 265.1h1v1h-1zM430.1 264.3h1v1h-1zM443.8 260.7h1v1h-1zM447.6 260.7h1v1h-1zM438.6 264.8h1v1h-1zM439.2 264.6h1v1h-1zM436.9 263.8h1v1h-1zM438.3 265.1h1v1h-1zM436.6 264.6h1v1h-1zM451.4 264.2h1v1h-1zM445.1 264.3h1v1h-1zM448.3 263.2h1v1h-1zM440.7 265.6h1v1h-1zM431.6 264.5h1v1h-1zM452.0 263.2h1v1h-1zM441.0 264.5h1v1h-1zM429.6 262.7h1v1h-1zM438.0 262.4h1v1h-1zM438.8 261.0h1v1h-1zM432.9 261.3h1v1h-1zM448.5 258.0h1v1h-1zM445.3 260.2h1v1h-1zM438.5 262.8h1v1h-1zM444.1 260.2h1v1h-1zM444.4 264.1h1v1h-1zM427.3 261.7h1v1h-1zM441.1 259.0h1v1h-1zM452.5 264.1h1v1h-1zM452.2 262.9h1v1h-1zM430.4 264.0h1v1h-1zM444.3 260.4h1v1h-1zM428.9 265.2h1v1h-1zM450.3 265.2h1v1h-1zM448.9 259.2h1v1h-1zM429.9 263.9h1v1h-1zM450.8 261.4h1v1h-1zM441.3 260.3h1v1h-1zM451.3 263.0h1v1h-1zM444.9 264.3h1v1h-1zM445.0 264.7h1v1h-1zM425.1 263.0h1v1h-1zM442.7 265.3h1v1h-1zM434.8 264.2h1v1h-1zM424.3 264.9h1v1h-1zM443.9 264.6h1v1h-1zM443.2 258.1h1v1h-1zM443.4 264.4h1v1h-1zM449.5 265.3h1v1h-1zM439.2 263.5h1v1h-1zM437.0 261.4h1v1h-1zM440.9 261.3h1v1h-1zM444.0 262.0h1v1h-1zM443.0 262.2h1v1h-1zM444.9 262.7h1v1h-1zM447.2 262.1h1v1h-1zM442.6 264.0h1v1h-1zM438.7 264.5h1v1h-1zM443.0 258.9h1v1h-1zM428.8 263.7h1v1h-1zM448.4 262.4h1v1h-1zM448.6 264.3h1v1h-1zM441.2 264.3h1v1h-1zM426.2 263.9h1v1h-1zM432.1 264.8h1v1h-1zM431.9 263.3h1v1h-1zM436.9 263.7h1v1h-1zM433.7 264.0h1v1h-1zM448.3 260.9h1v1h-1zM449.1 260.7h1v1h-1zM439.5 259.3h1v1h-1zM427.8 263.9h1v1h-1zM439.7 261.4h1v1h-1zM450.7 259.8h1v1h-1zM433.5 262.3h1v1h-1zM446.2 261.0h1v1h-1zM449.4 261.1h1v1h-1zM450.1 264.6h1v1h-1zM441.7 264.8h1v1h-1zM449.5 262.3h1v1h-1zM443.3 261.7h1v1h-1zM440.6 262.3h1v1h-1zM427.6 263.6h1v1h-1zM424.9 264.8h1v1h-1zM448.3 264.4h1v1h-1zM447.8 257.7h1v1h-1zM437.6 260.2h1v1h-1zM436.4 264.2h1v1h-1zM436.1 262.7h1v1h-1zM448.1 258.8h1v1h-1zM432.3 261.1h1v1h-1zM441.9 260.1h1v1h-1zM442.0 259.1h1v1h-1zM441.3 258.6h1v1h-1zM435.6 262.9h1v1h-1zM435.5 260.4h1v1h-1zM440.3 264.8h1v1h-1zM447.8 261.7h1v1h-1zM432.5 264.2h1v1h-1zM438.1 263.5h1v1h-1zM447.0 262.2h1v1h-1zM436.5 261.9h1v1h-1zM450.3 261.9h1v1h-1zM432.1 262.0h1v1h-1zM447.2 257.5h1v1h-1zM433.1 261.8h1v1h-1zM431.6 265.2h1v1h-1zM442.8 262.9h1v1h-1zM437.5 261.2h1v1h-1zM448.2 261.3h1v1h-1zM440.2 264.0h1v1h-1zM432.9 262.4h1v1h-1zM445.9 258.7h1v1h-1zM448.8 262.8h1v1h-1zM429.2 265.4h1v1h-1zM442.3 261.6h1v1h-1zM448.8 257.1h1v1h-1zM444.8 260.9h1v1h-1zM451.4 264.8h1v1h-1zM443.5 258.0h1v1h-1zM439.7 265.5h1v1h-1zM446.7 262.9h1v1h-1zM428.7 261.9h1v1h-1zM451.8 264.8h1v1h-1zM430.5 263.4h1v1h-1zM445.9 265.1h1v1h-1zM439.0 260.4h1v1h-1zM450.5 264.9h1v1h-1zM432.1 264.5h1v1h-1zM451.0 260.6h1v1h-1zM448.7 265.2h1v1h-1zM449.2 258.6h1v1h-1zM445.1 262.5h1v1h-1zM446.6 262.0h1v1h-1zM443.7 265.6h1v1h-1zM444.7 264.8h1v1h-1zM435.3 261.8h1v1h-1zM430.4 264.4h1v1h-1zM449.0 258.3h1v1h-1zM450.4 264.2h1v1h-1zM445.4 259.9h1v1h-1zM451.0 256.4h1v1h-1zM440.9 263.1h1v1h-1zM450.5 259.7h1v1h-1zM449.1 260.7h1v1h-1zM428.0 264.1h1v1h-1zM439.8 261.8h1v1h-1zM425.6 264.1h1v1h-1zM449.0 263.8h1v1h-1zM428.9 265.2h1v1h-1zM438.8 263.0h1v1h-1zM434.7 263.2h1v1h-1zM438.0 259.4h1v1h-1zM438.2 262.0h1v1h-1zM434.2 264.1h1v1h-1zM444.8 262.7h1v1h-1zM428.9 261.8h1v1h-1zM442.6 263.2h1v1h-1zM448.0 258.5h1v1h-1zM428.6 263.6h1v1h-1zM439.1 264.7h1v1h-1zM440.0 260.6h1v1h-1zM446.1 259.6h1v1h-1zM446.3 260.4h1v1h-1zM428.0 262.7h1v1h-1zM438.6 261.8h1v1h-1zM442.9 263.0h1v1h-1zM445.6 259.6h1v1h-1zM443.5 259.2h1v1h-1zM442.8 262.4h1v1h-1zM436.0 263.5h1v1h-1zM443.5 262.5h1v1h-1zM439.4 264.7h1v1h-1zM441.0 263.2h1v1h-1zM441.8 259.1h1v1h-1zM440.0 259.7h1v1h-1zM449.0 262.4h1v1h-1zM432.2 265.5h1v1h-1zM447.6 264.6h1v1h-1zM440.8 258.6h1v1h-1zM433.6 263.0h1v1h-1zM438.7 264.2h1v1h-1zM434.4 265.1h1v1h-1zM442.6 259.1h1v1h-1zM439.8 262.8h1v1h-1zM438.4 265.5h1v1h-1zM435.7 260.4h1v1h-1zM446.8 265.1h1v1h-1zM444.1 261.9h1v1h-1zM450.0 261.1h1v1h-1zM444.6 263.5h1v1h-1zM443.3 258.3h1v1h-1zM445.5 259.9h1v1h-1zM428.8 261.5h1v1h-1zM427.8 265.6h1v1h-1zM442.5 262.8h1v1h-1zM451.1 258.7h1v1h-1zM434.6 263.6h1v1h-1zM443.3 259.2h1v1h-1zM450.1 260.4h1v1h-1zM443.6 264.1h1v1h-1zM437.1 264.7h1v1h-1zM444.5 264.2h1v1h-1zM429.7 261.3h1v1h-1zM450.8 264.5h1v1h-1zM447.7 260.2h1v1h-1zM446.6 265.5h1v1h-1zM443.9 259.7h1v1h-1zM435.2 262.5h1v1h-1zM425.4 265.5h1v1h-1zM445.5 264.5h1v1h-1zM427.6 263.5h1v1h-1zM434.7 263.4h1v1h-1zM445.7 259.7h1v1h-1zM434.1 261.9h1v1h-1zM444.1 263.4h1v1h-1zM432.8 263.9h1v1h-1zM429.1 265.5h1v1h-1zM448.9 260.8h1v1h-1zM441.6 261.1h1v1h-1zM443.7 261.4h1v1h-1zM447.1 259.9h1v1h-1zM448.8 257.4h1v1h-1zM446.4 264.4h1v1h-1zM444.3 262.3h1v1h-1zM434.5 262.1h1v1h-1zM439.6 263.3h1v1h-1zM429.1 263.8h1v1h-1zM433.0 261.8h1v1h-1zM445.8 263.1h1v1h-1zM440.0 258.8h1v1h-1zM445.8 260.9h1v1h-1zM448.8 258.0h1v1h-1zM440.8 261.8h1v1h-1zM429.8 263.2h1v1h-1zM442.7 260.3h1v1h-1zM439.2 262.4h1v1h-1zM438.3 263.1h1v1h-1zM431.5 262.1h1v1h-1zM432.6 264.6h1v1h-1zM449.2 264.6h1v1h-1zM434.1 261.7h1v1h-1zM446.1 259.6h1v1h-1zM442.7 259.3h1v1h-1zM437.0 261.2h1v1h-1zM450.5 263.0h1v1h-1zM428.6 264.5h1v1h-1zM425.9 263.0h1v1h-1zM434.9 262.3h1v1h-1zM435.9 264.2h1v1h-1zM446.5 258.5h1v1h-1zM442.4 263.3h1v1h-1zM444.0 264.5h1v1h-1zM446.0 265.2h1v1h-1zM427.8 262.9h1v1h-1zM451.2 262.8h1v1h-1zM448.0 261.3h1v1h-1zM439.7 263.7h1v1h-1zM425.8 263.6h1v1h-1zM443.8 262.4h1v1h-1zM430.3 262.4h1v1h-1zM450.5 258.2h1v1h-1zM437.5 261.4h1v1h-1zM439.0 262.4h1v1h-1zM440.4 260.0h1v1h-1zM443.9 259.7h1v1h-1zM430.6 263.6h1v1h-1zM443.0 259.0h1v1h-1zM446.1 257.0h1v1h-1zM446.1 257.4h1v1h-1zM432.4 262.3h1v1h-1zM448.1 263.9h1v1h-1zM437.5 263.6h1v1h-1zM447.3 264.1h1v1h-1zM437.3 264.9h1v1h-1zM429.4 262.5h1v1h-1zM440.4 261.8h1v1h-1zM449.1 265.3h1v1h-1zM435.4 261.0h1v1h-1zM425.5 264.9h1v1h-1zM441.2 262.6h1v1h-1zM447.0 263.2h1v1h-1zM440.4 262.5h1v1h-1zM447.9 258.5h1v1h-1zM440.2 263.6h1v1h-1zM446.8 263.4h1v1h-1zM436.0 261.4h1v1h-1zM443.8 259.0h1v1h-1zM448.2 258.5h1v1h-1zM433.6 265.3h1v1h-1zM438.2 263.7h1v1h-1zM427.9 264.7h1v1h-1zM433.2 262.6h1v1h-1zM433.4 264.0h1v1h-1zM448.3 261.4h1v1h-1zM444.6 263.3h1v1h-1zM432.5 264.7h1v1h-1zM440.8 264.7h1v1h-1zM442.7 261.9h1v1h-1zM434.0 263.7h1v1h-1zM447.2 259.4h1v1h-1zM450.2 259.1h1v1h-1zM443.7 261.0h1v1h-1zM443.7 264.0h1v1h-1zM474.1 229.9h1v1h-1zM468.3 246.0h1v1h-1zM468.8 233.6h1v1h-1zM470.5 254.8h1v1h-1zM468.7 237.0h1v1h-1zM476.1 230.8h1v1h-1zM478.3 256.4h1v1h-1zM471.0 260.4h1v1h-1zM477.1 255.5h1v1h-1zM474.3 251.6h1v1h-1zM468.0 239.0h1v1h-1zM476.7 237.0h1v1h-1zM469.9 241.6h1v1h-1zM469.6 233.9h1v1h-1zM475.0 241.3h1v1h-1zM470.6 234.9h1v1h-1zM472.8 234.2h1v1h-1zM473.2 248.0h1v1h-1zM475.4 250.7h1v1h-1zM478.8 237.0h1v1h-1zM471.3 258.6h1v1h-1zM472.4 251.8h1v1h-1zM466.8 236.0h1v1h-1zM472.1 261.8h1v1h-1zM471.7 262.4h1v1h-1zM476.0 236.7h1v1h-1zM476.3 248.9h1v1h-1zM478.1 228.5h1v1h-1zM477.6 253.6h1v1h-1zM475.1 250.5h1v1h-1zM476.0 265.2h1v1h-1zM475.7 256.4h1v1h-1zM470.5 238.7h1v1h-1zM468.9 237.3h1v1h-1zM469.2 263.3h1v1h-1zM466.9 250.7h1v1h-1zM468.3 247.9h1v1h-1zM478.4 240.8h1v1h-1zM475.5 259.1h1v1h-1zM475.7 255.4h1v1h-1zM478.5 259.1h1v1h-1zM478.5 233.4h1v1h-1zM477.9 259.4h1v1h-1zM468.4 232.5h1v1h-1zM476.0 254.7h1v1h-1zM473.7 260.2h1v1h-1zM469.1 241.5h1v1h-1zM474.7 260.3h1v1h-1zM477.8 257.8h1v1h-1zM469.7 258.6h1v1h-1zM468.2 254.0h1v1h-1zM474.6 243.2h1v1h-1zM473.8 238.8h1v1h-1zM472.2 240.0h1v1h-1zM473.0 243.3h1v1h-1zM477.6 244.7h1v1h-1zM470.5 258.1h1v1h-1zM472.2 247.8h1v1h-1zM472.9 233.1h1v1h-1zM475.2 240.9h1v1h-1zM472.7 254.9h1v1h-1zM474.2 257.8h1v1h-1zM475.1 256.4h1v1h-1zM475.7 250.7h1v1h-1zM478.5 258.4h1v1h-1zM469.6 243.1h1v1h-1zM467.5 245.8h1v1h-1zM471.4 231.8h1v1h-1zM468.7 251.1h1v1h-1zM474.6 258.4h1v1h-1zM476.7 229.0h1v1h-1zM470.5 261.2h1v1h-1zM477.0 229.5h1v1h-1zM470.1 239.6h1v1h-1zM476.7 245.3h1v1h-1zM476.6 229.2h1v1h-1zM474.8 254.5h1v1h-1zM475.5 240.5h1v1h-1zM475.9 259.8h1v1h-1zM475.5 225.8h1v1h-1zM475.3 243.8h1v1h-1zM468.7 256.9h1v1h-1zM470.7 252.3h1v1h-1zM477.5 237.5h1v1h-1zM476.0 260.6h1v1h-1zM470.7 262.4h1v1h-1zM468.5 245.0h1v1h-1zM467.6 243.4h1v1h-1zM473.5 228.5h1v1h-1zM478.4 229.8h1v1h-1zM471.6 260.6h1v1h-1zM468.1 265.3h1v1h-1zM469.2 242.8h1v1h-1zM467.3 251.2h1v1h-1zM472.6 247.3h1v1h-1zM474.8 244.8h1v1h-1zM470.8 259.4h1v1h-1zM473.1 234.5h1v1h-1zM473.7 227.0h1v1h-1zM474.7 264.5h1v1h-1zM473.1 241.7h1v1h-1zM475.6 264.2h1v1h-1zM469.9 256.5h1v1h-1zM477.4 237.0h1v1h-1zM474.4 231.3h1v1h-1zM467.7 254.6h1v1h-1zM471.7 245.7h1v1h-1zM469.3 257.0h1v1h-1zM471.8 251.7h1v1h-1zM470.3 254.3h1v1h-1zM468.0 265.2h1v1h-1zM474.1 262.0h1v1h-1zM475.9 259.0h1v1h-1zM469.1 247.5h1v1h-1zM469.9 246.8h1v1h-1zM477.5 241.8h1v1h-1zM467.4 253.2h1v1h-1zM467.1 239.4h1v1h-1zM466.4 240.7h1v1h-1zM477.5 230.9h1v1h-1zM472.6 237.0h1v1h-1zM477.0 236.5h1v1h-1zM473.2 227.7h1v1h-1zM466.4 256.6h1v1h-1zM476.3 262.1h1v1h-1zM473.2 258.3h1v1h-1zM476.1 256.9h1v1h-1zM469.6 243.7h1v1h-1zM477.0 256.4h1v1h-1zM474.4 253.9h1v1h-1zM471.4 245.2h1v1h-1zM470.6 249.1h1v1h-1zM467.8 246.6h1v1h-1zM477.8 260.0h1v1h-1zM469.2 238.0h1v1h-1zM470.6 230.0h1v1h-1zM470.0 253.5h1v1h-1zM477.3 247.1h1v1h-1zM475.8 265.3h1v1h-1zM468.3 236.6h1v1h-1zM473.2 257.5h1v1h-1zM471.5 261.4h1v1h-1zM469.1 263.7h1v1h-1zM472.1 264.5h1v1h-1zM479.4 230.8h1v1h-1zM476.0 247.6h1v1h-1zM476.9 254.2h1v1h-1zM473.9 231.4h1v1h-1zM468.2 233.4h1v1h-1zM466.9 249.5h1v1h-1zM467.7 238.9h1v1h-1zM478.3 264.5h1v1h-1zM477.4 244.2h1v1h-1zM472.5 252.4h1v1h-1zM469.3 236.4h1v1h-1zM477.9 255.5h1v1h-1zM472.7 264.8h1v1h-1zM474.4 260.9h1v1h-1zM471.2 234.2h1v1h-1zM466.5 258.2h1v1h-1zM475.1 226.1h1v1h-1zM468.2 249.5h1v1h-1zM473.1 241.1h1v1h-1zM469.5 245.0h1v1h-1zM474.5 249.0h1v1h-1zM477.4 242.8h1v1h-1zM477.4 230.4h1v1h-1zM471.0 233.6h1v1h-1zM471.9 243.8h1v1h-1zM475.6 238.8h1v1h-1zM475.4 250.5h1v1h-1zM471.8 256.7h1v1h-1zM476.8 241.4h1v1h-1zM475.1 262.1h1v1h-1zM471.6 259.6h1v1h-1zM478.6 230.7h1v1h-1zM468.1 238.3h1v1h-1zM472.7 238.8h1v1h-1zM473.2 226.6h1v1h-1zM478.5 248.8h1v1h-1zM475.4 233.2h1v1h-1zM472.4 243.7h1v1h-1zM469.8 238.7h1v1h-1zM474.2 236.7h1v1h-1zM477.9 237.3h1v1h-1zM474.1 241.0h1v1h-1zM469.7 245.7h1v1h-1zM477.9 238.0h1v1h-1zM468.5 241.6h1v1h-1zM469.5 249.3h1v1h-1zM472.9 234.7h1v1h-1zM475.5 230.0h1v1h-1zM477.2 257.6h1v1h-1zM469.0 232.1h1v1h-1zM470.3 243.9h1v1h-1zM468.1 239.7h1v1h-1zM473.8 246.5h1v1h-1zM469.0 237.7h1v1h-1zM477.3 225.8h1v1h-1zM467.3 247.5h1v1h-1zM467.1 255.2h1v1h-1zM477.4 251.4h1v1h-1zM474.3 231.5h1v1h-1zM474.9 256.6h1v1h-1zM472.4 251.3h1v1h-1zM468.1 238.3h1v1h-1zM478.0 245.4h1v1h-1zM467.6 251.9h1v1h-1zM468.6 260.5h1v1h-1zM469.7 253.4h1v1h-1zM473.9 241.7h1v1h-1zM479.2 248.9h1v1h-1zM470.9 233.7h1v1h-1zM476.1 260.7h1v1h-1zM476.0 227.1h1v1h-1zM472.8 255.2h1v1h-1zM472.2 255.3h1v1h-1zM474.9 246.1h1v1h-1zM469.8 239.8h1v1h-1zM467.4 246.6h1v1h-1zM472.8 248.0h1v1h-1zM474.7 239.5h1v1h-1zM469.1 235.0h1v1h-1zM475.6 244.0h1v1h-1zM467.5 261.6h1v1h-1zM467.6 239.7h1v1h-1zM467.8 255.3h1v1h-1zM474.1 232.0h1v1h-1zM470.7 243.1h1v1h-1zM467.3 256.0h1v1h-1zM472.8 238.7h1v1h-1zM472.8 255.6h1v1h-1zM474.8 255.1h1v1h-1zM476.3 230.0h1v1h-1zM476.3 256.2h1v1h-1zM476.5 242.4h1v1h-1zM476.6 238.6h1v1h-1zM471.0 235.5h1v1h-1zM474.7 255.0h1v1h-1zM471.8 242.3h1v1h-1zM477.6 229.4h1v1h-1zM467.4 254.0h1v1h-1zM478.0 235.1h1v1h-1zM477.9 262.9h1v1h-1zM472.5 248.6h1v1h-1zM468.1 245.3h1v1h-1zM478.2 234.0h1v1h-1zM470.5 234.9h1v1h-1zM477.7 259.2h1v1h-1zM477.3 256.9h1v1h-1zM475.5 236.6h1v1h-1zM474.9 248.6h1v1h-1zM476.6 227.0h1v1h-1zM470.9 238.9h1v1h-1zM478.5 261.0h1v1h-1zM470.9 237.2h1v1h-1zM469.0 240.9h1v1h-1zM470.8 237.2h1v1h-1zM466.9 241.6h1v1h-1zM470.7 229.3h1v1h-1zM468.8 239.5h1v1h-1zM473.5 231.1h1v1h-1zM476.0 259.2h1v1h-1zM467.4 261.1h1v1h-1zM478.2 234.1h1v1h-1zM470.8 246.9h1v1h-1zM467.9 244.1h1v1h-1zM467.6 245.4h1v1h-1zM477.9 264.9h1v1h-1zM469.6 259.7h1v1h-1zM470.2 251.0h1v1h-1zM472.4 261.9h1v1h-1zM472.2 245.0h1v1h-1zM468.9 263.6h1v1h-1zM475.4 245.8h1v1h-1zM469.0 259.5h1v1h-1zM469.0 248.7h1v1h-1zM473.1 228.1h1v1h-1zM470.5 237.3h1v1h-1zM467.5 233.4h1v1h-1zM473.1 236.6h1v1h-1zM467.7 257.6h1v1h-1zM474.4 260.7h1v1h-1zM469.6 237.7h1v1h-1zM468.5 247.1h1v1h-1zM472.1 228.9h1v1h-1zM467.3 261.8h1v1h-1zM477.5 238.2h1v1h-1zM473.7 239.6h1v1h-1zM476.4 233.3h1v1h-1zM474.3 246.3h1v1h-1zM470.6 239.0h1v1h-1zM474.6 236.7h1v1h-1zM473.9 229.8h1v1h-1zM467.9 240.1h1v1h-1zM467.1 249.7h1v1h-1zM470.5 262.3h1v1h-1zM466.4 247.3h1v1h-1zM473.7 230.5h1v1h-1zM472.2 228.2h1v1h-1zM474.9 240.9h1v1h-1zM477.5 244.7h1v1h-1zM476.4 242.8h1v1h-1zM472.3 230.4h1v1h-1zM475.1 239.5h1v1h-1zM474.8 250.6h1v1h-1zM475.9 237.7h1v1h-1zM474.9 264.9h1v1h-1zM471.1 242.6h1v1h-1zM472.0 247.2h1v1h-1zM477.4 249.1h1v1h-1zM468.7 260.9h1v1h-1zM474.7 250.5h1v1h-1zM469.1 241.9h1v1h-1zM467.2 257.6h1v1h-1zM475.6 240.4h1v1h-1zM468.9 263.1h1v1h-1zM468.3 253.3h1v1h-1zM477.2 258.8h1v1h-1zM476.5 230.7h1v1h-1zM477.2 252.7h1v1h-1zM468.4 257.0h1v1h-1zM474.8 253.7h1v1h-1zM471.4 239.9h1v1h-1zM470.0 261.4h1v1h-1zM477.2 226.4h1v1h-1zM475.2 244.8h1v1h-1zM475.5 252.7h1v1h-1zM472.8 241.4h1v1h-1zM474.9 263.4h1v1h-1zM468.6 236.1h1v1h-1zM478.8 233.7h1v1h-1zM476.3 232.8h1v1h-1zM471.7 262.5h1v1h-1zM470.6 248.8h1v1h-1zM470.8 238.7h1v1h-1zM478.2 247.7h1v1h-1zM472.5 254.1h1v1h-1zM478.1 254.6h1v1h-1zM475.3 243.3h1v1h-1zM469.5 242.6h1v1h-1zM469.8 255.5h1v1h-1zM477.2 244.5h1v1h-1zM474.3 235.4h1v1h-1zM470.2 247.8h1v1h-1zM471.4 265.0h1v1h-1zM474.2 251.9h1v1h-1zM473.6 261.2h1v1h-1zM467.7 245.2h1v1h-1zM478.1 260.4h1v1h-1zM475.1 233.1h1v1h-1zM475.0 232.8h1v1h-1zM476.2 264.0h1v1h-1zM468.1 235.0h1v1h-1zM478.8 234.4h1v1h-1zM473.8 256.1h1v1h-1zM477.8 231.6h1v1h-1zM472.0 229.0h1v1h-1zM476.5 245.4h1v1h-1zM467.3 259.6h1v1h-1zM473.8 265.4h1v1h-1zM472.6 245.6h1v1h-1zM467.6 251.8h1v1h-1zM476.9 225.9h1v1h-1zM470.7 264.5h1v1h-1zM473.4 255.9h1v1h-1zM475.4 249.1h1v1h-1zM471.6 237.6h1v1h-1zM468.3 265.0h1v1h-1zM477.1 233.3h1v1h-1zM477.0 242.6h1v1h-1zM470.2 251.3h1v1h-1zM472.8 232.4h1v1h-1zM472.8 265.1h1v1h-1zM470.8 251.5h1v1h-1zM474.6 225.4h1v1h-1zM467.8 263.1h1v1h-1zM475.7 249.8h1v1h-1zM473.2 248.8h1v1h-1zM477.9 246.5h1v1h-1zM470.0 245.0h1v1h-1zM476.1 246.1h1v1h-1zM476.3 237.2h1v1h-1zM470.2 264.2h1v1h-1zM472.4 249.1h1v1h-1zM476.2 244.7h1v1h-1zM472.2 254.2h1v1h-1zM473.0 248.6h1v1h-1zM468.7 250.8h1v1h-1zM479.0 234.5h1v1h-1zM472.1 264.7h1v1h-1zM476.4 234.6h1v1h-1zM474.8 231.2h1v1h-1zM476.4 264.1h1v1h-1zM475.8 265.2h1v1h-1zM467.8 238.4h1v1h-1zM473.8 247.3h1v1h-1zM478.2 242.8h1v1h-1zM469.8 240.1h1v1h-1zM473.8 248.2h1v1h-1zM472.7 250.5h1v1h-1zM477.2 263.4h1v1h-1zM466.5 241.2h1v1h-1zM478.8 227.5h1v1h-1zM472.3 231.4h1v1h-1zM469.4 238.0h1v1h-1zM470.9 250.7h1v1h-1zM471.3 233.2h1v1h-1zM467.1 236.6h1v1h-1zM467.6 262.9h1v1h-1zM477.2 226.2h1v1h-1zM476.1 260.4h1v1h-1zM476.0 265.1h1v1h-1zM471.8 247.8h1v1h-1zM469.7 249.4h1v1h-1zM470.5 238.8h1v1h-1zM471.2 239.7h1v1h-1zM477.7 258.6h1v1h-1zM468.4 258.7h1v1h-1zM475.1 263.2h1v1h-1zM474.0 230.0h1v1h-1zM469.4 246.2h1v1h-1zM477.9 260.3h1v1h-1zM476.5 255.6h1v1h-1zM478.3 256.0h1v1h-1zM478.9 228.1h1v1h-1zM471.7 248.9h1v1h-1zM468.6 235.2h1v1h-1zM471.1 242.0h1v1h-1zM470.0 233.3h1v1h-1zM470.7 230.4h1v1h-1zM478.0 250.0h1v1h-1zM470.0 251.1h1v1h-1zM470.1 237.5h1v1h-1zM473.6 263.0h1v1h-1zM479.6 231.4h1v1h-1zM476.7 261.0h1v1h-1zM472.8 265.2h1v1h-1zM469.6 246.6h1v1h-1zM477.0 230.6h1v1h-1zM473.0 264.7h1v1h-1zM467.0 255.8h1v1h-1zM468.7 237.6h1v1h-1zM473.6 263.0h1v1h-1zM471.2 265.3h1v1h-1zM468.7 241.3h1v1h-1zM474.1 235.4h1v1h-1zM471.8 263.8h1v1h-1zM471.3 229.6h1v1h-1zM469.8 246.2h1v1h-1zM471.2 256.7h1v1h-1zM475.7 247.2h1v1h-1zM467.9 241.7h1v1h-1zM470.3 233.8h1v1h-1zM474.3 262.2h1v1h-1zM473.7 264.3h1v1h-1zM477.0 243.5h1v1h-1zM472.9 254.1h1v1h-1zM472.8 252.0h1v1h-1zM469.7 251.5h1v1h-1zM470.8 260.6h1v1h-1zM469.7 262.0h1v1h-1zM477.3 247.3h1v1h-1zM470.9 242.9h1v1h-1zM477.4 242.5h1v1h-1zM474.9 257.4h1v1h-1zM477.4 229.4h1v1h-1zM476.1 252.5h1v1h-1zM467.1 234.5h1v1h-1zM471.0 231.6h1v1h-1zM477.0 232.4h1v1h-1zM466.7 263.0h1v1h-1zM466.3 261.6h1v1h-1zM472.5 261.0h1v1h-1zM477.0 245.6h1v1h-1zM469.2 254.3h1v1h-1zM475.3 241.1h1v1h-1zM471.8 263.8h1v1h-1zM473.2 229.1h1v1h-1zM474.7 240.5h1v1h-1zM469.2 239.1h1v1h-1zM472.9 258.8h1v1h-1zM468.3 259.4h1v1h-1zM470.7 245.4h1v1h-1zM476.8 243.4h1v1h-1zM470.5 242.0h1v1h-1zM468.0 252.9h1v1h-1zM474.3 245.4h1v1h-1zM476.5 260.9h1v1h-1zM475.3 261.7h1v1h-1zM476.4 257.1h1v1h-1zM470.0 261.9h1v1h-1zM476.3 257.6h1v1h-1zM468.9 248.1h1v1h-1zM470.3 260.0h1v1h-1zM475.2 256.7h1v1h-1zM472.2 242.3h1v1h-1zM470.4 251.8h1v1h-1zM468.6 235.3h1v1h-1zM473.4 259.5h1v1h-1zM477.3 257.2h1v1h-1zM468.0 251.0h1v1h-1zM478.0 246.7h1v1h-1zM477.3 226.8h1v1h-1zM476.1 231.7h1v1h-1zM470.1 262.6h1v1h-1zM475.6 230.2h1v1h-1zM466.6 249.5h1v1h-1zM471.6 262.0h1v1h-1zM472.5 260.0h1v1h-1zM475.7 255.8h1v1h-1zM472.0 263.7h1v1h-1zM467.0 233.3h1v1h-1zM469.4 233.3h1v1h-1zM476.8 260.8h1v1h-1zM468.1 232.3h1v1h-1zM467.1 240.2h1v1h-1zM473.7 230.0h1v1h-1zM467.9 256.7h1v1h-1zM474.8 254.9h1v1h-1zM472.1 235.3h1v1h-1zM469.2 243.3h1v1h-1zM468.1 241.2h1v1h-1zM474.2 243.3h1v1h-1zM471.7 236.6h1v1h-1zM477.3 258.2h1v1h-1zM477.6 232.9h1v1h-1zM468.3 237.0h1v1h-1zM478.8 256.0h1v1h-1zM476.7 262.1h1v1h-1zM478.9 246.7h1v1h-1zM478.2 240.9h1v1h-1zM475.0 255.0h1v1h-1zM478.3 262.4h1v1h-1zM475.1 245.0h1v1h-1zM474.5 251.2h1v1h-1zM468.6 242.7h1v1h-1zM476.2 250.9h1v1h-1zM474.0 260.8h1v1h-1zM468.4 232.7h1v1h-1zM467.8 247.8h1v1h-1zM478.3 226.7h1v1h-1zM467.4 253.9h1v1h-1zM476.7 251.6h1v1h-1zM474.4 252.1h1v1h-1zM469.7 232.5h1v1h-1zM468.4 260.6h1v1h-1zM475.6 250.3h1v1h-1zM477.5 242.2h1v1h-1zM475.2 263.4h1v1h-1zM472.1 242.9h1v1h-1zM468.5 242.6h1v1h-1zM470.7 234.6h1v1h-1zM475.8 230.0h1v1h-1zM470.7 235.3h1v1h-1zM475.8 262.5h1v1h-1zM467.0 237.9h1v1h-1zM475.1 253.5h1v1h-1zM470.7 244.8h1v1h-1zM478.3 241.2h1v1h-1zM470.9 243.6h1v1h-1zM477.8 230.0h1v1h-1zM468.2 253.8h1v1h-1zM467.4 245.3h1v1h-1zM476.2 236.2h1v1h-1zM467.6 237.6h1v1h-1zM477.5 240.2h1v1h-1zM478.8 227.1h1v1h-1zM466.5 254.1h1v1h-1zM468.0 258.7h1v1h-1zM474.2 248.8h1v1h-1zM469.7 234.5h1v1h-1zM477.2 237.4h1v1h-1zM466.9 258.1h1v1h-1zM471.6 255.7h1v1h-1zM477.7 233.3h1v1h-1zM466.7 261.7h1v1h-1zM471.8 233.1h1v1h-1zM472.2 233.2h1v1h-1zM470.4 247.3h1v1h-1zM470.8 264.7h1v1h-1zM471.9 247.9h1v1h-1zM469.4 245.8h1v1h-1zM476.4 242.3h1v1h-1zM473.7 250.9h1v1h-1zM478.0 232.6h1v1h-1zM467.3 263.3h1v1h-1zM467.0 235.8h1v1h-1zM475.5 264.7h1v1h-1zM473.8 243.7h1v1h-1zM468.8 259.5h1v1h-1zM466.0 253.9h1v1h-1zM478.5 234.0h1v1h-1zM473.7 261.7h1v1h-1zM469.9 258.9h1v1h-1zM470.3 235.7h1v1h-1zM468.3 242.0h1v1h-1zM471.7 257.6h1v1h-1zM471.2 245.8h1v1h-1zM467.0 238.6h1v1h-1zM477.0 240.7h1v1h-1zM468.4 242.3h1v1h-1zM472.3 253.7h1v1h-1zM475.8 250.5h1v1h-1zM470.4 254.3h1v1h-1zM468.3 265.4h1v1h-1zM477.7 245.7h1v1h-1zM477.2 265.3h1v1h-1zM478.4 254.7h1v1h-1zM470.8 241.4h1v1h-1zM470.1 243.6h1v1h-1zM477.7 243.9h1v1h-1zM468.2 256.3h1v1h-1zM477.6 253.5h1v1h-1zM475.7 236.0h1v1h-1zM473.7 231.5h1v1h-1zM468.5 236.7h1v1h-1zM477.3 258.9h1v1h-1zM478.0 246.0h1v1h-1zM474.1 253.7h1v1h-1zM466.7 240.9h1v1h-1zM474.7 236.5h1v1h-1zM469.5 236.7h1v1h-1zM466.3 259.6h1v1h-1zM471.2 264.6h1v1h-1zM471.0 256.4h1v1h-1zM471.8 247.8h1v1h-1zM472.6 247.1h1v1h-1zM470.7 254.2h1v1h-1zM469.9 254.0h1v1h-1zM466.5 241.4h1v1h-1zM479.6 233.5h1v1h-1zM474.0 261.5h1v1h-1zM467.3 234.8h1v1h-1zM475.1 260.4h1v1h-1zM470.4 237.6h1v1h-1zM473.9 231.6h1v1h-1zM478.4 256.0h1v1h-1zM474.5 237.3h1v1h-1zM478.3 250.7h1v1h-1zM468.1 239.0h1v1h-1zM469.4 234.1h1v1h-1zM475.9 239.2h1v1h-1zM475.0 239.7h1v1h-1zM472.2 253.8h1v1h-1zM475.7 228.5h1v1h-1zM469.5 230.4h1v1h-1zM475.8 250.0h1v1h-1zM478.1 262.1h1v1h-1zM474.0 257.7h1v1h-1zM475.0 256.1h1v1h-1zM477.8 264.2h1v1h-1zM467.3 261.0h1v1h-1zM469.6 248.3h1v1h-1zM476.7 250.8h1v1h-1zM476.4 237.0h1v1h-1zM466.0 258.1h1v1h-1zM473.7 256.6h1v1h-1zM470.8 261.4h1v1h-1zM471.4 259.5h1v1h-1zM474.8 254.1h1v1h-1zM478.3 259.2h1v1h-1zM472.3 231.9h1v1h-1zM472.9 243.2h1v1h-1zM478.4 234.4h1v1h-1zM473.6 255.1h1v1h-1zM469.5 238.5h1v1h-1zM477.9 232.9h1v1h-1zM470.3 261.8h1v1h-1zM468.3 241.0h1v1h-1zM470.2 257.9h1v1h-1zM470.8 247.0h1v1h-1zM476.1 261.5h1v1h-1zM469.9 258.9h1v1h-1zM474.7 264.3h1v1h-1zM471.7 261.9h1v1h-1zM473.2 238.6h1v1h-1zM469.2 240.9h1v1h-1zM468.4 258.3h1v1h-1zM477.5 239.6h1v1h-1zM468.2 243.7h1v1h-1zM476.3 233.7h1v1h-1zM471.1 232.9h1v1h-1zM470.6 263.4h1v1h-1zM467.6 244.2h1v1h-1zM472.2 230.6h1v1h-1zM471.7 261.7h1v1h-1zM468.2 252.2h1v1h-1zM474.6 231.8h1v1h-1zM472.2 262.0h1v1h-1zM471.7 244.5h1v1h-1zM468.9 238.8h1v1h-1zM472.2 230.3h1v1h-1zM471.3 245.5h1v1h-1zM471.3 249.5h1v1h-1zM466.1 239.9h1v1h-1zM473.9 235.0h1v1h-1zM476.4 230.0h1v1h-1zM467.5 249.5h1v1h-1zM476.0 235.7h1v1h-1zM470.6 233.1h1v1h-1zM475.7 257.7h1v1h-1zM467.0 247.9h1v1h-1zM473.7 244.1h1v1h-1zM468.5 237.2h1v1h-1zM473.1 241.6h1v1h-1zM476.4 251.4h1v1h-1zM476.1 263.0h1v1h-1zM472.9 238.0h1v1h-1zM468.8 235.3h1v1h-1zM467.1 233.2h1v1h-1zM472.5 228.6h1v1h-1zM474.9 250.7h1v1h-1zM467.1 250.6h1v1h-1zM468.4 259.2h1v1h-1zM475.4 259.4h1v1h-1zM469.3 236.4h1v1h-1zM479.3 258.6h1v1h-1zM477.0 261.9h1v1h-1zM473.4 261.1h1v1h-1zM476.6 241.3h1v1h-1zM467.1 240.1h1v1h-1zM470.9 234.3h1v1h-1zM469.6 256.2h1v1h-1zM470.8 257.1h1v1h-1zM471.8 231.0h1v1h-1zM470.1 238.2h1v1h-1zM475.7 230.9h1v1h-1zM477.1 258.7h1v1h-1zM468.9 264.5h1v1h-1zM474.9 250.7h1v1h-1zM469.1 244.4h1v1h-1zM478.1 239.5h1v1h-1zM468.8 244.9h1v1h-1zM478.7 247.0h1v1h-1zM473.2 233.3h1v1h-1zM472.8 228.9h1v1h-1zM469.9 262.4h1v1h-1zM468.8 235.4h1v1h-1zM471.9 229.7h1v1h-1zM473.5 259.9h1v1h-1zM470.0 256.5h1v1h-1zM475.0 254.9h1v1h-1zM470.5 246.5h1v1h-1zM471.4 235.8h1v1h-1zM472.8 258.9h1v1h-1zM478.3 229.0h1v1h-1zM474.0 249.9h1v1h-1zM474.9 258.4h1v1h-1zM475.3 236.9h1v1h-1zM468.2 235.8h1v1h-1zM478.7 237.6h1v1h-1zM467.8 252.1h1v1h-1zM477.9 236.1h1v1h-1zM477.8 228.1h1v1h-1zM478.4 253.7h1v1h-1zM477.3 247.7h1v1h-1zM467.8 246.9h1v1h-1zM475.3 248.0h1v1h-1zM475.9 244.5h1v1h-1zM471.2 252.6h1v1h-1zM478.3 240.8h1v1h-1zM472.8 244.5h1v1h-1zM470.3 242.0h1v1h-1zM471.6 234.7h1v1h-1zM468.8 236.6h1v1h-1zM470.7 255.1h1v1h-1zM468.6 263.8h1v1h-1zM470.1 243.8h1v1h-1zM478.3 255.6h1v1h-1zM477.3 246.0h1v1h-1zM477.4 237.8h1v1h-1zM472.8 255.8h1v1h-1zM469.5 233.8h1v1h-1zM474.5 230.5h1v1h-1zM475.9 231.4h1v1h-1zM477.1 236.7h1v1h-1zM479.2 262.8h1v1h-1zM475.4 238.9h1v1h-1zM472.4 255.8h1v1h-1zM469.7 243.8h1v1h-1zM470.1 232.8h1v1h-1zM470.1 255.2h1v1h-1zM471.3 258.9h1v1h-1zM466.5 245.2h1v1h-1zM472.4 245.5h1v1h-1zM469.1 239.8h1v1h-1zM474.7 248.3h1v1h-1zM473.5 256.8h1v1h-1zM467.4 234.9h1v1h-1zM478.0 252.8h1v1h-1zM467.5 231.7h1v1h-1zM473.7 241.9h1v1h-1zM472.4 229.0h1v1h-1zM477.7 263.1h1v1h-1zM471.7 263.0h1v1h-1zM470.5 250.8h1v1h-1zM477.3 227.7h1v1h-1zM468.4 253.4h1v1h-1zM468.5 256.1h1v1h-1zM469.9 250.1h1v1h-1zM478.5 239.1h1v1h-1zM470.5 263.4h1v1h-1zM479.0 236.0h1v1h-1zM474.1 227.9h1v1h-1zM469.7 237.2h1v1h-1zM472.5 231.1h1v1h-1zM475.6 228.5h1v1h-1zM468.5 263.9h1v1h-1zM472.9 234.2h1v1h-1zM474.2 230.6h1v1h-1zM467.1 231.9h1v1h-1zM471.8 264.5h1v1h-1zM470.3 259.4h1v1h-1zM475.9 249.5h1v1h-1zM475.4 251.2h1v1h-1zM468.6 243.7h1v1h-1zM473.6 236.0h1v1h-1zM471.4 254.0h1v1h-1zM471.6 233.8h1v1h-1zM471.6 255.7h1v1h-1zM467.5 256.6h1v1h-1zM472.7 236.5h1v1h-1zM470.0 250.3h1v1h-1zM474.2 249.2h1v1h-1zM475.6 250.5h1v1h-1zM478.4 257.3h1v1h-1zM472.4 262.8h1v1h-1zM470.9 241.2h1v1h-1zM477.6 247.7h1v1h-1zM468.9 235.9h1v1h-1zM468.7 235.7h1v1h-1zM474.6 259.5h1v1h-1zM468.2 236.8h1v1h-1zM477.1 232.3h1v1h-1zM476.3 246.8h1v1h-1zM471.7 263.7h1v1h-1zM474.8 228.8h1v1h-1zM473.2 259.6h1v1h-1zM467.4 259.6h1v1h-1zM475.7 264.9h1v1h-1zM474.9 257.5h1v1h-1zM474.7 230.3h1v1h-1zM469.6 244.8h1v1h-1zM469.5 242.9h1v1h-1zM475.5 240.4h1v1h-1zM470.7 239.5h1v1h-1zM478.2 253.8h1v1h-1zM472.1 234.5h1v1h-1zM471.7 237.1h1v1h-1zM467.0 235.2h1v1h-1zM478.6 264.1h1v1h-1zM473.9 241.6h1v1h-1zM466.7 237.0h1v1h-1zM476.5 227.2h1v1h-1zM479.0 256.0h1v1h-1zM477.6 231.8h1v1h-1zM467.7 238.5h1v1h-1zM468.1 263.3h1v1h-1zM475.9 256.9h1v1h-1zM474.8 247.8h1v1h-1zM475.7 262.8h1v1h-1zM471.2 234.0h1v1h-1zM474.6 264.9h1v1h-1zM471.4 258.0h1v1h-1zM472.1 248.1h1v1h-1zM472.1 247.7h1v1h-1zM469.1 238.6h1v1h-1zM475.9 242.4h1v1h-1zM473.3 245.8h1v1h-1zM474.3 262.4h1v1h-1zM473.8 251.3h1v1h-1zM472.1 234.8h1v1h-1zM468.4 233.0h1v1h-1zM472.7 235.3h1v1h-1zM478.4 261.3h1v1h-1zM468.6 259.1h1v1h-1zM474.5 250.5h1v1h-1zM467.0 241.5h1v1h-1zM466.3 250.2h1v1h-1zM478.3 232.3h1v1h-1zM477.9 238.6h1v1h-1zM477.6 241.7h1v1h-1zM473.5 264.8h1v1h-1zM471.3 255.5h1v1h-1zM472.3 249.5h1v1h-1zM467.2 249.9h1v1h-1zM468.3 245.0h1v1h-1zM466.5 242.8h1v1h-1zM478.7 261.8h1v1h-1zM478.1 261.1h1v1h-1zM468.5 241.0h1v1h-1zM478.4 253.7h1v1h-1zM475.1 228.0h1v1h-1zM476.3 240.4h1v1h-1zM471.0 250.2h1v1h-1zM467.1 240.2h1v1h-1zM473.2 231.5h1v1h-1zM473.6 246.1h1v1h-1zM473.4 244.0h1v1h-1zM476.3 236.5h1v1h-1zM471.7 232.7h1v1h-1zM469.6 254.3h1v1h-1zM471.2 260.8h1v1h-1zM473.4 233.8h1v1h-1zM468.2 231.7h1v1h-1zM467.5 239.9h1v1h-1zM466.9 246.3h1v1h-1zM475.3 231.4h1v1h-1zM468.7 252.7h1v1h-1zM477.0 260.6h1v1h-1zM475.7 253.8h1v1h-1zM476.1 265.2h1v1h-1zM473.8 243.6h1v1h-1zM475.0 233.3h1v1h-1zM469.6 264.8h1v1h-1zM475.6 232.2h1v1h-1zM466.3 235.0h1v1h-1zM476.5 242.8h1v1h-1zM468.9 240.4h1v1h-1zM470.3 232.7h1v1h-1zM474.5 232.3h1v1h-1zM477.4 263.7h1v1h-1zM468.0 234.3h1v1h-1zM475.9 252.2h1v1h-1zM472.4 229.7h1v1h-1zM477.9 238.6h1v1h-1zM468.6 260.3h1v1h-1zM468.9 254.4h1v1h-1zM468.5 253.2h1v1h-1zM475.5 236.4h1v1h-1zM476.4 249.3h1v1h-1zM472.9 228.1h1v1h-1zM471.4 241.6h1v1h-1zM469.3 253.9h1v1h-1zM474.4 230.0h1v1h-1zM475.0 253.5h1v1h-1zM474.2 248.9h1v1h-1zM468.7 239.3h1v1h-1zM476.1 255.2h1v1h-1zM478.4 234.3h1v1h-1zM477.2 250.4h1v1h-1zM476.3 239.4h1v1h-1zM471.7 243.2h1v1h-1zM471.9 239.5h1v1h-1zM477.5 233.3h1v1h-1zM474.2 233.5h1v1h-1zM472.3 262.8h1v1h-1zM473.9 227.3h1v1h-1zM468.1 233.4h1v1h-1zM466.6 235.7h1v1h-1zM469.4 264.2h1v1h-1zM472.6 261.7h1v1h-1zM473.9 260.1h1v1h-1zM473.2 253.6h1v1h-1zM469.9 244.3h1v1h-1zM468.6 259.4h1v1h-1zM473.0 247.1h1v1h-1zM472.1 243.8h1v1h-1zM477.3 228.0h1v1h-1zM477.4 243.6h1v1h-1zM466.7 239.3h1v1h-1zM473.1 237.6h1v1h-1zM477.5 250.5h1v1h-1zM470.8 261.3h1v1h-1zM477.7 249.1h1v1h-1zM472.9 237.5h1v1h-1zM474.8 247.2h1v1h-1zM477.3 227.5h1v1h-1zM478.0 230.2h1v1h-1zM477.5 247.0h1v1h-1zM476.3 238.1h1v1h-1zM474.8 229.2h1v1h-1zM475.3 228.6h1v1h-1zM470.0 260.6h1v1h-1zM469.0 255.8h1v1h-1zM474.8 240.1h1v1h-1zM476.7 229.3h1v1h-1zM476.8 226.1h1v1h-1zM476.2 249.1h1v1h-1zM476.3 235.6h1v1h-1zM477.9 241.5h1v1h-1zM469.4 250.7h1v1h-1zM476.4 243.2h1v1h-1zM471.7 248.7h1v1h-1zM468.0 248.0h1v1h-1zM472.2 229.0h1v1h-1zM476.5 257.5h1v1h-1zM477.6 263.3h1v1h-1zM474.8 231.4h1v1h-1zM477.2 262.9h1v1h-1zM467.8 239.3h1v1h-1zM476.5 261.0h1v1h-1zM475.4 260.1h1v1h-1zM470.1 242.1h1v1h-1zM475.4 256.1h1v1h-1zM473.4 229.7h1v1h-1zM479.0 232.7h1v1h-1zM476.3 259.8h1v1h-1zM466.0 249.0h1v1h-1zM467.7 257.8h1v1h-1zM468.8 255.8h1v1h-1zM471.0 261.5h1v1h-1zM474.3 265.5h1v1h-1zM478.4 251.8h1v1h-1zM476.8 241.4h1v1h-1zM472.4 231.7h1v1h-1zM478.8 229.2h1v1h-1zM469.0 237.1h1v1h-1zM468.6 264.4h1v1h-1zM470.8 260.6h1v1h-1zM468.8 236.8h1v1h-1zM476.2 258.1h1v1h-1zM470.4 256.2h1v1h-1zM478.0 232.2h1v1h-1zM474.9 229.1h1v1h-1zM476.5 237.7h1v1h-1zM472.1 239.9h1v1h-1zM473.9 259.1h1v1h-1zM473.7 235.0h1v1h-1zM474.3 263.6h1v1h-1zM477.8 261.3h1v1h-1zM469.9 262.0h1v1h-1zM477.2 229.6h1v1h-1zM469.8 250.7h1v1h-1zM474.9 251.4h1v1h-1zM471.2 246.5h1v1h-1zM469.4 235.2h1v1h-1zM470.2 253.5h1v1h-1zM475.3 256.3h1v1h-1zM475.7 245.3h1v1h-1zM470.7 247.6h1v1h-1zM474.4 261.3h1v1h-1zM469.9 244.5h1v1h-1zM474.9 242.9h1v1h-1zM468.7 240.6h1v1h-1zM468.1 263.1h1v1h-1zM467.2 258.0h1v1h-1zM475.2 244.4h1v1h-1zM478.0 251.1h1v1h-1zM477.5 247.0h1v1h-1zM474.3 264.7h1v1h-1zM477.3 239.8h1v1h-1zM471.6 236.0h1v1h-1zM470.4 264.2h1v1h-1zM470.7 248.8h1v1h-1zM470.8 248.4h1v1h-1zM474.7 229.9h1v1h-1zM476.0 262.1h1v1h-1zM477.6 239.3h1v1h-1zM476.0 249.5h1v1h-1zM473.4 239.1h1v1h-1zM478.1 262.6h1v1h-1zM467.6 263.6h1v1h-1zM477.2 228.8h1v1h-1zM468.8 251.7h1v1h-1zM473.0 251.9h1v1h-1zM471.7 238.1h1v1h-1zM468.7 263.4h1v1h-1zM476.7 248.4h1v1h-1zM477.6 254.8h1v1h-1zM468.1 250.9h1v1h-1zM479.3 257.8h1v1h-1zM468.3 242.8h1v1h-1zM476.0 229.5h1v1h-1zM469.0 255.8h1v1h-1zM475.8 226.2h1v1h-1zM475.1 251.2h1v1h-1zM473.7 265.5h1v1h-1zM479.0 237.1h1v1h-1zM469.7 238.8h1v1h-1zM474.9 258.9h1v1h-1zM479.0 235.1h1v1h-1zM476.8 253.1h1v1h-1zM472.1 251.1h1v1h-1zM474.3 242.1h1v1h-1zM467.7 244.2h1v1h-1zM473.7 258.2h1v1h-1zM474.2 228.7h1v1h-1zM470.3 255.9h1v1h-1zM471.0 260.6h1v1h-1zM474.1 245.8h1v1h-1zM468.7 238.3h1v1h-1zM467.1 243.8h1v1h-1zM469.0 257.5h1v1h-1zM470.5 252.4h1v1h-1zM468.8 241.8h1v1h-1zM477.2 233.1h1v1h-1zM474.2 248.3h1v1h-1zM471.7 229.4h1v1h-1zM476.0 250.4h1v1h-1zM470.1 244.8h1v1h-1zM473.7 245.0h1v1h-1zM475.2 229.6h1v1h-1zM477.5 244.9h1v1h-1zM473.8 249.5h1v1h-1zM467.2 260.8h1v1h-1zM470.4 237.9h1v1h-1zM476.1 236.6h1v1h-1zM477.4 235.6h1v1h-1zM468.0 264.6h1v1h-1zM470.9 245.1h1v1h-1zM478.1 243.2h1v1h-1zM467.9 237.5h1v1h-1zM473.6 231.4h1v1h-1zM476.9 256.6h1v1h-1zM476.1 251.3h1v1h-1zM479.6 263.7h1v1h-1zM469.8 233.7h1v1h-1zM478.8 229.3h1v1h-1zM472.7 265.0h1v1h-1zM470.3 252.2h1v1h-1zM477.9 228.6h1v1h-1zM468.0 248.3h1v1h-1zM476.2 247.4h1v1h-1zM475.9 245.0h1v1h-1zM467.9 234.8h1v1h-1zM476.0 237.3h1v1h-1zM467.6 257.9h1v1h-1zM467.9 237.4h1v1h-1zM472.7 250.2h1v1h-1zM475.6 227.7h1v1h-1zM475.6 229.3h1v1h-1zM466.3 257.8h1v1h-1zM469.8 265.5h1v1h-1zM476.8 234.8h1v1h-1zM471.2 254.4h1v1h-1zM467.3 233.0h1v1h-1zM477.0 257.3h1v1h-1zM474.6 230.3h1v1h-1zM468.8 257.5h1v1h-1zM467.6 251.1h1v1h-1zM472.7 245.7h1v1h-1zM477.1 248.7h1v1h-1zM468.5 242.1h1v1h-1zM477.8 248.3h1v1h-1zM472.7 229.4h1v1h-1zM470.8 245.3h1v1h-1zM475.2 239.0h1v1h-1zM474.8 236.5h1v1h-1zM467.4 238.8h1v1h-1zM469.3 255.3h1v1h-1zM473.0 261.8h1v1h-1zM473.0 258.6h1v1h-1zM476.0 246.8h1v1h-1zM469.4 260.2h1v1h-1zM471.2 259.9h1v1h-1zM472.3 250.7h1v1h-1zM477.1 236.1h1v1h-1zM467.5 235.4h1v1h-1zM477.8 258.8h1v1h-1zM471.4 229.8h1v1h-1zM468.5 261.3h1v1h-1zM472.9 244.2h1v1h-1zM469.9 248.6h1v1h-1zM474.7 262.7h1v1h-1zM477.6 256.5h1v1h-1zM465.6 240.5h1v1h-1zM474.0 256.1h1v1h-1zM467.6 254.2h1v1h-1zM470.7 264.7h1v1h-1zM469.4 251.6h1v1h-1zM471.9 247.5h1v1h-1zM478.2 232.2h1v1h-1zM474.3 255.2h1v1h-1zM474.5 235.2h1v1h-1zM467.0 240.8h1v1h-1zM477.5 242.1h1v1h-1zM478.6 235.8h1v1h-1zM472.9 230.8h1v1h-1zM475.9 249.7h1v1h-1zM478.9 264.6h1v1h-1zM474.1 226.1h1v1h-1zM476.1 239.5h1v1h-1zM475.8 253.7h1v1h-1zM467.3 234.9h1v1h-1zM471.9 245.4h1v1h-1zM473.4 261.8h1v1h-1zM471.0 233.0h1v1h-1zM472.4 235.5h1v1h-1zM470.1 248.3h1v1h-1zM472.8 236.7h1v1h-1zM467.0 240.5h1v1h-1zM470.4 242.4h1v1h-1zM472.7 229.8h1v1h-1zM476.3 255.3h1v1h-1zM474.6 262.0h1v1h-1zM471.0 248.7h1v1h-1zM477.0 239.8h1v1h-1zM469.3 265.3h1v1h-1zM477.6 236.4h1v1h-1zM474.7 257.0h1v1h-1zM468.7 233.0h1v1h-1zM468.4 246.5h1v1h-1zM472.7 228.3h1v1h-1zM468.8 250.1h1v1h-1zM467.1 252.6h1v1h-1zM468.5 248.4h1v1h-1zM473.2 259.7h1v1h-1zM470.9 254.4h1v1h-1zM471.4 265.6h1v1h-1zM473.2 259.5h1v1h-1zM476.4 261.9h1v1h-1zM474.5 229.0h1v1h-1zM479.2 226.9h1v1h-1zM475.2 243.9h1v1h-1zM467.4 241.7h1v1h-1zM468.9 262.3h1v1h-1zM477.7 232.7h1v1h-1zM472.8 265.0h1v1h-1zM468.2 262.2h1v1h-1zM472.0 230.8h1v1h-1zM475.0 236.0h1v1h-1zM469.5 264.8h1v1h-1zM475.1 246.4h1v1h-1zM467.8 240.8h1v1h-1zM472.1 265.3h1v1h-1zM467.0 253.9h1v1h-1zM478.7 234.4h1v1h-1zM469.2 263.3h1v1h-1zM474.0 227.6h1v1h-1zM472.1 238.5h1v1h-1zM476.2 254.7h1v1h-1zM475.9 251.1h1v1h-1zM474.6 238.4h1v1h-1zM468.0 242.5h1v1h-1zM470.9 247.7h1v1h-1zM467.0 250.2h1v1h-1zM474.8 238.0h1v1h-1zM469.0 248.1h1v1h-1zM475.9 255.3h1v1h-1zM475.8 245.6h1v1h-1zM473.8 227.1h1v1h-1zM471.1 241.7h1v1h-1zM474.9 262.8h1v1h-1zM472.5 250.4h1v1h-1zM467.2 265.6h1v1h-1zM476.9 253.4h1v1h-1zM476.2 232.9h1v1h-1zM477.3 262.4h1v1h-1zM470.7 250.5h1v1h-1zM473.5 242.7h1v1h-1zM470.3 231.1h1v1h-1zM474.5 231.2h1v1h-1zM467.9 242.2h1v1h-1zM472.3 250.0h1v1h-1zM473.3 240.7h1v1h-1zM473.3 238.4h1v1h-1zM468.0 244.4h1v1h-1zM473.1 264.1h1v1h-1zM477.1 264.8h1v1h-1zM476.5 262.5h1v1h-1zM468.5 238.9h1v1h-1zM476.4 230.1h1v1h-1zM471.3 239.2h1v1h-1zM474.5 262.5h1v1h-1zM476.5 247.3h1v1h-1zM476.8 246.2h1v1h-1zM472.6 248.2h1v1h-1zM466.6 264.7h1v1h-1zM475.5 227.2h1v1h-1zM471.0 262.2h1v1h-1zM478.2 240.3h1v1h-1zM467.0 240.8h1v1h-1zM475.9 229.7h1v1h-1zM470.8 248.0h1v1h-1zM472.4 244.7h1v1h-1zM470.2 248.6h1v1h-1zM467.4 251.7h1v1h-1zM477.1 243.3h1v1h-1zM474.1 235.6h1v1h-1zM471.8 250.1h1v1h-1zM472.6 258.8h1v1h-1zM477.0 227.0h1v1h-1zM477.7 241.3h1v1h-1zM471.1 256.2h1v1h-1zM467.4 243.6h1v1h-1zM476.6 245.6h1v1h-1zM476.0 263.7h1v1h-1zM475.8 250.8h1v1h-1zM477.0 248.6h1v1h-1zM474.3 238.8h1v1h-1zM473.1 243.1h1v1h-1zM478.0 251.9h1v1h-1zM467.8 232.8h1v1h-1zM475.3 254.8h1v1h-1zM476.0 261.5h1v1h-1zM478.3 225.6h1v1h-1zM471.6 230.0h1v1h-1zM466.4 238.6h1v1h-1zM476.8 236.2h1v1h-1zM473.4 258.6h1v1h-1zM469.3 235.5h1v1h-1zM473.7 257.3h1v1h-1zM473.0 236.0h1v1h-1zM474.7 244.2h1v1h-1zM470.2 231.0h1v1h-1zM478.3 243.0h1v1h-1zM479.1 257.6h1v1h-1zM474.5 259.2h1v1h-1zM478.3 263.9h1v1h-1zM474.7 231.2h1v1h-1zM478.6 254.9h1v1h-1zM467.7 258.6h1v1h-1zM476.2 230.9h1v1h-1zM471.9 232.8h1v1h-1zM471.6 241.0h1v1h-1zM468.1 239.7h1v1h-1zM475.2 257.6h1v1h-1zM467.8 254.8h1v1h-1zM475.1 241.6h1v1h-1zM473.5 244.7h1v1h-1zM470.1 240.9h1v1h-1zM472.7 256.6h1v1h-1zM471.3 237.5h1v1h-1zM468.1 244.0h1v1h-1zM472.8 254.0h1v1h-1zM477.1 260.6h1v1h-1zM467.6 262.5h1v1h-1zM469.0 235.6h1v1h-1zM466.5 237.8h1v1h-1zM468.8 261.4h1v1h-1zM467.6 240.8h1v1h-1zM473.4 247.8h1v1h-1zM473.7 261.3h1v1h-1zM475.9 239.6h1v1h-1zM468.7 262.2h1v1h-1zM468.8 259.2h1v1h-1zM472.4 258.4h1v1h-1zM475.4 241.3h1v1h-1zM470.9 262.1h1v1h-1zM468.7 244.9h1v1h-1zM471.6 228.6h1v1h-1zM471.4 259.3h1v1h-1zM467.3 247.0h1v1h-1zM475.5 240.8h1v1h-1zM477.3 242.5h1v1h-1zM469.4 258.8h1v1h-1zM473.8 251.4h1v1h-1zM475.8 227.0h1v1h-1zM475.3 261.4h1v1h-1zM475.9 234.7h1v1h-1zM467.9 264.4h1v1h-1zM468.7 234.1h1v1h-1zM477.4 241.5h1v1h-1zM470.5 234.1h1v1h-1zM478.1 229.6h1v1h-1zM467.1 252.2h1v1h-1zM470.6 235.8h1v1h-1zM477.4 236.5h1v1h-1zM469.4 249.9h1v1h-1zM469.1 249.5h1v1h-1zM476.7 259.3h1v1h-1zM472.8 240.7h1v1h-1zM473.0 246.8h1v1h-1zM473.7 237.2h1v1h-1zM472.9 239.1h1v1h-1zM475.0 238.7h1v1h-1zM479.2 231.8h1v1h-1zM470.4 233.0h1v1h-1zM468.1 254.4h1v1h-1zM478.5 254.7h1v1h-1zM470.1 257.6h1v1h-1zM474.1 245.2h1v1h-1zM468.4 254.8h1v1h-1zM468.8 246.1h1v1h-1zM469.2 237.8h1v1h-1zM468.4 244.9h1v1h-1zM475.3 230.6h1v1h-1zM475.6 256.9h1v1h-1zM476.8 244.2h1v1h-1zM477.2 253.2h1v1h-1zM475.1 229.3h1v1h-1zM472.3 260.5h1v1h-1zM472.0 251.0h1v1h-1zM468.7 242.6h1v1h-1zM466.1 239.2h1v1h-1zM466.2 233.2h1v1h-1zM465.5 238.2h1v1h-1zM465.5 238.8h1v1h-1zM464.8 240.4h1v1h-1zM465.2 237.6h1v1h-1zM466.5 238.3h1v1h-1zM464.2 239.9h1v1h-1zM463.9 237.7h1v1h-1zM465.7 236.1h1v1h-1zM463.9 241.7h1v1h-1zM466.1 233.8h1v1h-1zM466.9 238.0h1v1h-1zM465.4 239.6h1v1h-1zM466.4 238.3h1v1h-1zM466.1 237.5h1v1h-1zM465.7 231.3h1v1h-1zM466.2 234.0h1v1h-1zM466.5 239.6h1v1h-1zM463.1 241.1h1v1h-1zM463.2 240.2h1v1h-1zM467.7 239.2h1v1h-1zM465.6 233.8h1v1h-1zM463.7 241.1h1v1h-1zM464.7 238.4h1v1h-1zM466.6 232.2h1v1h-1zM466.4 233.8h1v1h-1zM462.8 235.5h1v1h-1zM463.7 238.6h1v1h-1zM463.7 237.6h1v1h-1zM463.6 237.0h1v1h-1zM465.7 240.1h1v1h-1zM465.7 241.0h1v1h-1zM467.4 238.9h1v1h-1zM463.7 238.4h1v1h-1zM465.9 232.4h1v1h-1zM466.6 233.3h1v1h-1zM464.9 236.3h1v1h-1zM465.1 240.3h1v1h-1zM465.0 239.1h1v1h-1zM462.9 235.3h1v1h-1zM464.9 236.5h1v1h-1zM465.5 233.9h1v1h-1zM464.3 237.3h1v1h-1zM466.0 235.8h1v1h-1zM464.2 237.2h1v1h-1zM464.8 233.1h1v1h-1zM465.2 232.1h1v1h-1zM464.4 237.8h1v1h-1zM466.7 240.2h1v1h-1zM465.9 232.4h1v1h-1zM465.8 239.2h1v1h-1zM463.3 235.0h1v1h-1zM465.2 232.7h1v1h-1zM463.9 237.0h1v1h-1z" fill="#d00000" fill-opacity="0.9"/>
<text x="444.70" y="44.20" font-size="7.2" text-anchor="start" font-weight="normal" fill="#1a1a1a" textLength="14.60" lengthAdjust="spacingAndGlyphs" stroke="#1a1a1a" stroke-width="0.25" >2.78</text>
<text x="494.40" y="41.00" font-size="7.2" text-anchor="start" font-weight="normal" fill="#1a1a1a" textLength="14.60" lengthAdjust="spacingAndGlyphs" stroke="#1a1a1a" stroke-width="0.25" >2.66</text>
<text x="444.70" y="89.10" font-size="7.2" text-anchor="start" font-weight="normal" fill="#1a1a1a" textLength="19.00" lengthAdjust="spacingAndGlyphs" stroke="#1a1a1a" stroke-width="0.25" >90.34</text>
<text x="495.20" y="89.10" font-size="7.2" text-anchor="start" font-weight="normal" fill="#1a1a1a" textLength="13.80" lengthAdjust="spacingAndGlyphs" stroke="#1a1a1a" stroke-width="0.25" >4.22</text>
<text transform="translate(417.9,107.40) rotate(-90)" font-size="4.2" fill="#444" stroke="#444" stroke-width="0.1">10<tspan font-size="3" dy="-1.9">0</tspan></text>
<text x="419.00" y="111.40" font-size="4.2" fill="#444" stroke="#444" stroke-width="0.1">10<tspan font-size="3" dy="-1.9">0</tspan></text>
<text transform="translate(417.9,89.25) rotate(-90)" font-size="4.2" fill="#444" stroke="#444" stroke-width="0.1">10<tspan font-size="3" dy="-1.9">1</tspan></text>
<text x="442.68" y="111.40" font-size="4.2" fill="#444" stroke="#444" stroke-width="0.1">10<tspan font-size="3" dy="-1.9">1</tspan></text>
<text transform="translate(417.9,71.10) rotate(-90)" font-size="4.2" fill="#444" stroke="#444" stroke-width="0.1">10<tspan font-size="3" dy="-1.9">2</tspan></text>
<text x="466.35" y="111.40" font-size="4.2" fill="#444" stroke="#444" stroke-width="0.1">10<tspan font-size="3" dy="-1.9">2</tspan></text>
<text transform="translate(417.9,52.95) rotate(-90)" font-size="4.2" fill="#444" stroke="#444" stroke-width="0.1">10<tspan font-size="3" dy="-1.9">3</tspan></text>
<text x="490.03" y="111.40" font-size="4.2" fill="#444" stroke="#444" stroke-width="0.1">10<tspan font-size="3" dy="-1.9">3</tspan></text>
<text transform="translate(417.9,34.80) rotate(-90)" font-size="4.2" fill="#444" stroke="#444" stroke-width="0.1">10<tspan font-size="3" dy="-1.9">4</tspan></text>
<text x="513.70" y="111.40" font-size="4.2" fill="#444" stroke="#444" stroke-width="0.1">10<tspan font-size="3" dy="-1.9">4</tspan></text>
<text transform="translate(412.8,72.90) rotate(-90)" font-size="3.5" fill="#555">FL2-H</text>
<text x="446.90" y="129.00" font-size="7.2" text-anchor="start" font-weight="normal" fill="#1a1a1a" textLength="13.90" lengthAdjust="spacingAndGlyphs" stroke="#1a1a1a" stroke-width="0.25" >1.25</text>
<text x="495.90" y="127.90" font-size="7.2" text-anchor="start" font-weight="normal" fill="#1a1a1a" textLength="18.20" lengthAdjust="spacingAndGlyphs" stroke="#1a1a1a" stroke-width="0.25" >18.93</text>
<text x="445.40" y="170.80" font-size="7.2" text-anchor="start" font-weight="normal" fill="#1a1a1a" textLength="19.50" lengthAdjust="spacingAndGlyphs" stroke="#1a1a1a" stroke-width="0.25" >60.85</text>
<text x="495.90" y="170.80" font-size="7.2" text-anchor="start" font-weight="normal" fill="#1a1a1a" textLength="17.50" lengthAdjust="spacingAndGlyphs" stroke="#1a1a1a" stroke-width="0.25" >18.97</text>
<text transform="translate(417.9,188.70) rotate(-90)" font-size="4.2" fill="#444" stroke="#444" stroke-width="0.1">10<tspan font-size="3" dy="-1.9">0</tspan></text>
<text x="418.90" y="192.70" font-size="4.2" fill="#444" stroke="#444" stroke-width="0.1">10<tspan font-size="3" dy="-1.9">0</tspan></text>
<text transform="translate(417.9,171.23) rotate(-90)" font-size="4.2" fill="#444" stroke="#444" stroke-width="0.1">10<tspan font-size="3" dy="-1.9">1</tspan></text>
<text x="442.35" y="192.70" font-size="4.2" fill="#444" stroke="#444" stroke-width="0.1">10<tspan font-size="3" dy="-1.9">1</tspan></text>
<text transform="translate(417.9,153.75) rotate(-90)" font-size="4.2" fill="#444" stroke="#444" stroke-width="0.1">10<tspan font-size="3" dy="-1.9">2</tspan></text>
<text x="465.80" y="192.70" font-size="4.2" fill="#444" stroke="#444" stroke-width="0.1">10<tspan font-size="3" dy="-1.9">2</tspan></text>
<text transform="translate(417.9,136.28) rotate(-90)" font-size="4.2" fill="#444" stroke="#444" stroke-width="0.1">10<tspan font-size="3" dy="-1.9">3</tspan></text>
<text x="489.25" y="192.70" font-size="4.2" fill="#444" stroke="#444" stroke-width="0.1">10<tspan font-size="3" dy="-1.9">3</tspan></text>
<text transform="translate(417.9,118.80) rotate(-90)" font-size="4.2" fill="#444" stroke="#444" stroke-width="0.1">10<tspan font-size="3" dy="-1.9">4</tspan></text>
<text x="512.70" y="192.70" font-size="4.2" fill="#444" stroke="#444" stroke-width="0.1">10<tspan font-size="3" dy="-1.9">4</tspan></text>
<text transform="translate(412.8,155.55) rotate(-90)" font-size="3.5" fill="#555">FL2-H</text>
<text x="444.70" y="208.80" font-size="7.2" text-anchor="start" font-weight="normal" fill="#1a1a1a" textLength="14.90" lengthAdjust="spacingAndGlyphs" stroke="#1a1a1a" stroke-width="0.25" >2.46</text>
<text x="494.90" y="209.50" font-size="7.2" text-anchor="start" font-weight="normal" fill="#1a1a1a" textLength="18.50" lengthAdjust="spacingAndGlyphs" stroke="#1a1a1a" stroke-width="0.25" >35.10</text>
<text x="444.70" y="250.80" font-size="7.2" text-anchor="start" font-weight="normal" fill="#1a1a1a" textLength="19.00" lengthAdjust="spacingAndGlyphs" stroke="#1a1a1a" stroke-width="0.25" >26.28</text>
<text x="494.90" y="250.80" font-size="7.2" text-anchor="start" font-weight="normal" fill="#1a1a1a" textLength="18.20" lengthAdjust="spacingAndGlyphs" stroke="#1a1a1a" stroke-width="0.25" >36.17</text>
<text transform="translate(417.9,268.60) rotate(-90)" font-size="4.2" fill="#444" stroke="#444" stroke-width="0.1">10<tspan font-size="3" dy="-1.9">0</tspan></text>
<text x="419.90" y="272.60" font-size="4.2" fill="#444" stroke="#444" stroke-width="0.1">10<tspan font-size="3" dy="-1.9">0</tspan></text>
<text transform="translate(417.9,251.35) rotate(-90)" font-size="4.2" fill="#444" stroke="#444" stroke-width="0.1">10<tspan font-size="3" dy="-1.9">1</tspan></text>
<text x="443.30" y="272.60" font-size="4.2" fill="#444" stroke="#444" stroke-width="0.1">10<tspan font-size="3" dy="-1.9">1</tspan></text>
<text transform="translate(417.9,234.10) rotate(-90)" font-size="4.2" fill="#444" stroke="#444" stroke-width="0.1">10<tspan font-size="3" dy="-1.9">2</tspan></text>
<text x="466.70" y="272.60" font-size="4.2" fill="#444" stroke="#444" stroke-width="0.1">10<tspan font-size="3" dy="-1.9">2</tspan></text>
<text transform="translate(417.9,216.85) rotate(-90)" font-size="4.2" fill="#444" stroke="#444" stroke-width="0.1">10<tspan font-size="3" dy="-1.9">3</tspan></text>
<text x="490.10" y="272.60" font-size="4.2" fill="#444" stroke="#444" stroke-width="0.1">10<tspan font-size="3" dy="-1.9">3</tspan></text>
<text transform="translate(417.9,199.60) rotate(-90)" font-size="4.2" fill="#444" stroke="#444" stroke-width="0.1">10<tspan font-size="3" dy="-1.9">4</tspan></text>
<text x="513.50" y="272.60" font-size="4.2" fill="#444" stroke="#444" stroke-width="0.1">10<tspan font-size="3" dy="-1.9">4</tspan></text>
<text transform="translate(412.8,235.90) rotate(-90)" font-size="3.5" fill="#555">FL2-H</text>
<text x="467.50" y="276.60" font-size="3.5" text-anchor="middle" font-weight="normal" fill="#555" >FL1-H</text>
<line x1="404.30" y1="37.00" x2="404.30" y2="272.60" stroke="#000" stroke-width="1.1" />
<path d="M404.3 32.6 L401.2 37.3 L407.4 37.3 Z" fill="#fff" stroke="#000" stroke-width="0.9"/>
<line x1="422.00" y1="286.60" x2="510.60" y2="286.60" stroke="#000" stroke-width="1.1" />
<path d="M515.9 286.6 L510.4 284.0 L510.4 289.3 Z" fill="#fff" stroke="#000" stroke-width="0.9"/>
<text transform="translate(396.6,151.9) rotate(-90)" font-size="7.6" font-weight="bold" text-anchor="middle" textLength="61.3" lengthAdjust="spacingAndGlyphs">Propidium iodide</text>
<text x="468.60" y="295.80" font-size="7.2" text-anchor="middle" font-weight="bold" fill="#000" textLength="55.00" lengthAdjust="spacingAndGlyphs" >Annexin V-FITC</text>
</svg></body></html>
